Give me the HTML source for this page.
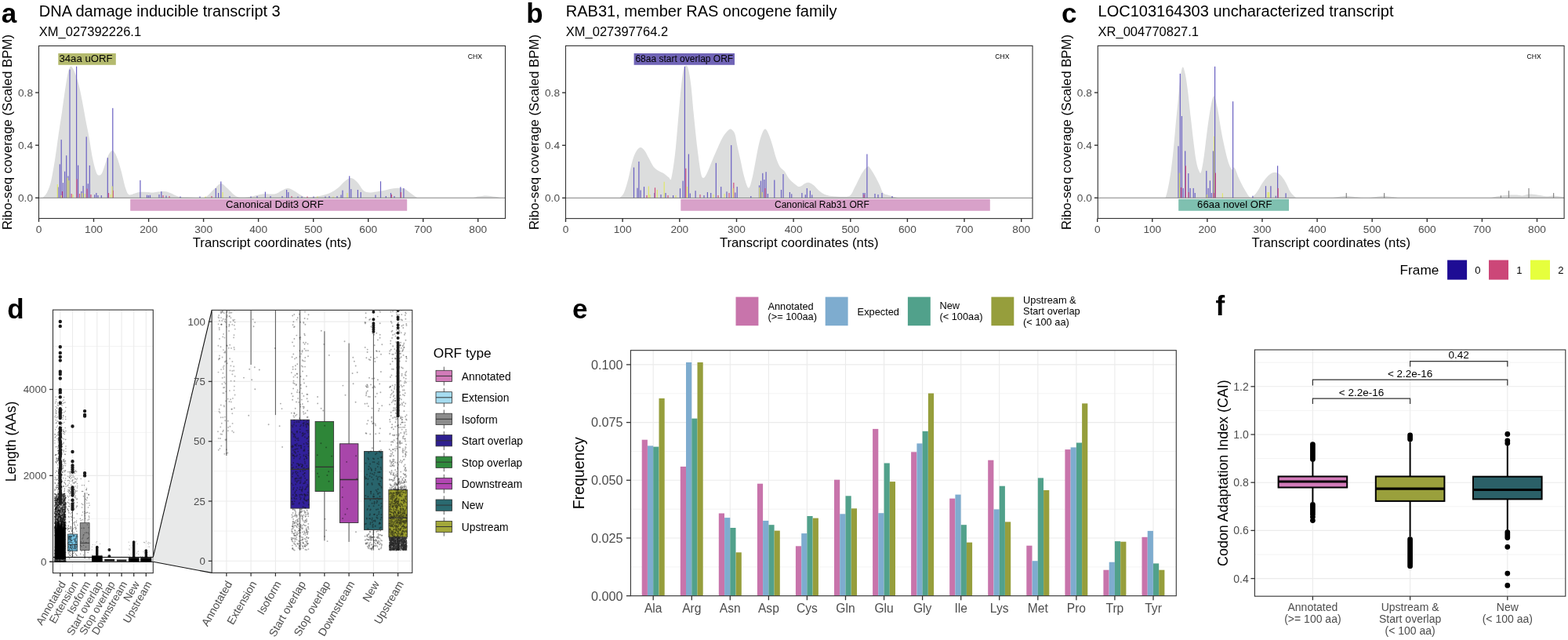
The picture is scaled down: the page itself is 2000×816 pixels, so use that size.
<!DOCTYPE html>
<html><head><meta charset="utf-8"><title>Figure</title>
<style>html,body{margin:0;padding:0;background:#fff;overflow:hidden}svg{display:block}text{font-family:'Liberation Sans',Arial,sans-serif}</style>
</head><body>
<svg width="2000" height="816" viewBox="0 0 2000 816">
<rect width="2000" height="816" fill="#fff"/>
<text x="1.8" y="28.6" font-size="35" font-weight="bold">a</text><text x="49.8" y="20.8" font-size="20">DNA damage inducible transcript 3</text><text x="49.8" y="45.6" font-size="16.5">XM_027392226.1</text><path d="M54.3,252.2 C55.2,251.2 57.9,249.5 59.7,246.0 C61.5,242.5 63.3,238.6 65.1,231.0 C66.9,223.4 68.9,210.8 70.5,200.7 C72.1,190.6 73.4,180.3 74.8,170.6 C76.2,160.9 77.7,152.2 79.1,142.5 C80.5,132.8 82.1,120.6 83.4,112.3 C84.7,104.0 85.6,97.5 86.7,92.9 C87.8,88.3 88.8,85.6 89.9,84.7 C91.0,83.8 92.0,85.8 93.1,87.5 C94.2,89.2 95.1,91.5 96.4,95.1 C97.7,98.7 99.3,103.3 100.7,109.1 C102.1,114.8 103.6,122.2 105.0,129.6 C106.4,137.0 107.9,145.8 109.3,153.3 C110.7,160.9 112.2,167.0 113.6,174.9 C115.0,182.8 116.5,193.5 117.9,200.7 C119.3,207.9 120.9,214.2 122.2,218.0 C123.5,221.8 124.2,222.9 125.5,223.4 C126.8,223.9 128.4,223.5 129.8,221.2 C131.2,218.9 132.7,213.3 134.1,209.4 C135.5,205.5 136.8,200.4 138.4,197.5 C140.0,194.6 142.0,191.6 143.8,192.1 C145.6,192.6 147.4,196.4 149.2,200.7 C151.0,205.0 152.8,211.5 154.6,218.0 C156.4,224.5 158.4,234.6 160.0,239.6 C161.6,244.6 162.5,246.9 164.3,248.2 C166.1,249.4 168.5,247.6 170.7,247.1 C172.8,246.6 174.4,245.4 177.2,245.0 C180.0,244.6 184.4,244.8 187.5,244.9 C190.6,245.0 191.9,245.5 195.5,245.4 C199.1,245.3 205.4,244.0 209.0,244.1 C212.6,244.2 213.9,244.9 217.1,246.0 C220.2,247.1 224.3,249.9 227.9,250.8 C231.5,251.7 235.0,251.4 238.7,251.6 C242.4,251.8 246.4,252.0 250.0,252.1 C253.6,252.2 257.6,252.5 260.2,251.9 C262.8,251.3 263.4,250.6 265.6,248.7 C267.9,246.8 271.0,243.1 273.7,240.6 C276.4,238.1 279.1,234.0 281.8,233.9 C284.5,233.8 286.8,237.3 289.9,240.0 C293.0,242.7 297.5,248.0 300.7,250.0 C303.9,252.0 305.7,251.7 308.8,251.8 C311.9,251.9 315.0,251.6 319.5,250.8 C324.0,250.1 330.5,247.9 335.7,247.3 C340.9,246.7 346.9,248.0 350.8,247.3 C354.7,246.6 356.2,244.5 358.9,243.3 C361.6,242.1 364.3,240.0 367.0,240.0 C369.7,240.0 371.9,241.6 375.0,243.3 C378.1,245.0 382.7,248.7 385.8,250.0 C388.9,251.3 390.3,251.4 393.9,251.4 C397.5,251.4 402.9,250.9 407.4,250.0 C411.9,249.1 416.9,247.8 420.9,246.0 C424.9,244.2 428.5,241.7 431.6,239.2 C434.7,236.7 437.0,233.2 439.7,231.2 C442.4,229.2 445.1,226.9 447.8,227.1 C450.5,227.3 453.2,229.8 455.9,232.5 C458.6,235.2 461.3,241.2 464.0,243.3 C466.7,245.5 469.0,245.3 472.1,245.4 C475.2,245.5 479.3,244.7 482.9,244.1 C486.5,243.5 490.0,242.6 493.6,241.9 C497.2,241.2 500.8,240.2 504.4,240.0 C508.0,239.8 512.1,239.6 515.2,240.6 C518.4,241.6 520.6,244.2 523.3,246.0 C526.0,247.8 529.1,250.4 531.4,251.4 C533.6,252.4 525.6,252.1 536.8,252.2 C548.0,252.3 586.7,252.5 598.8,252.2 C610.9,251.9 605.9,251.0 609.5,250.6 C613.1,250.2 616.7,249.5 620.3,249.5 C623.9,249.5 628.0,250.4 631.1,250.8 C634.2,251.2 637.9,252.0 639.2,252.2 L639.2,252.3 L54.3,252.3 Z" fill="#dcdddd"/><rect x="73.5" y="238.5" width="1.2" height="13.8" fill="#6a60c2"/><rect x="75.7" y="209.4" width="1.2" height="42.9" fill="#6a60c2"/><rect x="77.6" y="178.1" width="1.2" height="74.2" fill="#6a60c2"/><rect x="79.8" y="233.1" width="1.2" height="19.2" fill="#6a60c2"/><rect x="82.0" y="218.6" width="1.2" height="33.7" fill="#6a60c2"/><rect x="84.1" y="198.2" width="1.2" height="54.1" fill="#6a60c2"/><rect x="86.3" y="224.5" width="1.2" height="27.8" fill="#6a60c2"/><rect x="88.4" y="88.6" width="1.2" height="163.7" fill="#6a60c2"/><rect x="97.0" y="84.7" width="1.2" height="167.6" fill="#6a60c2"/><rect x="99.0" y="210.7" width="1.2" height="41.6" fill="#6a60c2"/><rect x="103.3" y="243.9" width="1.2" height="8.4" fill="#6a60c2"/><rect x="105.5" y="237.0" width="1.2" height="15.3" fill="#6a60c2"/><rect x="109.6" y="174.4" width="1.2" height="77.9" fill="#6a60c2"/><rect x="111.7" y="234.2" width="1.2" height="18.1" fill="#6a60c2"/><rect x="113.7" y="210.9" width="1.2" height="41.4" fill="#6a60c2"/><rect x="120.1" y="248.2" width="1.2" height="4.1" fill="#6a60c2"/><rect x="122.3" y="246.0" width="1.2" height="6.3" fill="#6a60c2"/><rect x="124.4" y="249.0" width="1.2" height="3.3" fill="#6a60c2"/><rect x="128.7" y="249.0" width="1.2" height="3.3" fill="#6a60c2"/><rect x="136.7" y="201.2" width="1.2" height="51.1" fill="#6a60c2"/><rect x="143.2" y="137.8" width="1.2" height="114.5" fill="#6a60c2"/><rect x="178.3" y="229.8" width="1.2" height="22.5" fill="#6a60c2"/><rect x="72.7" y="235.0" width="1.2" height="17.3" fill="#dfe76a"/><rect x="85.2" y="226.6" width="1.2" height="25.7" fill="#dfe76a"/><rect x="87.2" y="230.0" width="1.2" height="22.3" fill="#dfe76a"/><rect x="78.9" y="244.0" width="1.2" height="8.3" fill="#d0527f"/><rect x="97.3" y="228.3" width="1.2" height="24.0" fill="#d0527f"/><rect x="110.4" y="240.6" width="1.2" height="11.7" fill="#d0527f"/><rect x="143.6" y="242.8" width="1.2" height="9.5" fill="#d0527f"/><rect x="142.5" y="237.4" width="1.2" height="14.9" fill="#dfe76a"/><rect x="90.6" y="247.0" width="1.2" height="5.3" fill="#d0527f"/><rect x="92.5" y="248.0" width="1.2" height="4.3" fill="#dfe76a"/><rect x="107.6" y="247.0" width="1.2" height="5.3" fill="#dfe76a"/><rect x="77.4" y="249.0" width="1.2" height="3.3" fill="#dfe76a"/><rect x="100.9" y="247.0" width="1.2" height="5.3" fill="#d0527f"/><rect x="104.2" y="246.0" width="1.2" height="6.3" fill="#dfe76a"/><rect x="115.4" y="248.0" width="1.2" height="4.3" fill="#d0527f"/><rect x="137.9" y="246.0" width="1.2" height="6.3" fill="#d0527f"/><rect x="140.4" y="248.0" width="1.2" height="4.3" fill="#dfe76a"/><rect x="186.9" y="248.7" width="1.2" height="3.6" fill="#6a60c2"/><rect x="188.9" y="249.0" width="1.2" height="3.3" fill="#6a60c2"/><rect x="190.9" y="248.7" width="1.2" height="3.6" fill="#6a60c2"/><rect x="205.2" y="244.1" width="1.2" height="8.2" fill="#6a60c2"/><rect x="202.4" y="248.0" width="1.2" height="4.3" fill="#6a60c2"/><rect x="207.4" y="249.0" width="1.2" height="3.3" fill="#d0527f"/><rect x="211.4" y="249.5" width="1.2" height="2.8" fill="#6a60c2"/><rect x="215.4" y="250.0" width="1.2" height="2.3" fill="#d0527f"/><rect x="229.4" y="250.5" width="1.2" height="1.8" fill="#6a60c2"/><rect x="254.4" y="250.5" width="1.2" height="1.8" fill="#6a60c2"/><rect x="274.7" y="240.0" width="1.2" height="12.3" fill="#6a60c2"/><rect x="278.0" y="246.0" width="1.2" height="6.3" fill="#6a60c2"/><rect x="281.2" y="231.4" width="1.2" height="20.9" fill="#6a60c2"/><rect x="283.4" y="245.0" width="1.2" height="7.3" fill="#dfe76a"/><rect x="269.4" y="250.0" width="1.2" height="2.3" fill="#d0527f"/><rect x="292.4" y="250.0" width="1.2" height="2.3" fill="#6a60c2"/><rect x="261.4" y="250.5" width="1.2" height="1.8" fill="#dfe76a"/><rect x="337.8" y="244.6" width="1.2" height="7.7" fill="#6a60c2"/><rect x="327.4" y="250.0" width="1.2" height="2.3" fill="#6a60c2"/><rect x="344.4" y="250.0" width="1.2" height="2.3" fill="#6a60c2"/><rect x="319.4" y="250.5" width="1.2" height="1.8" fill="#6a60c2"/><rect x="365.0" y="242.0" width="1.2" height="10.3" fill="#6a60c2"/><rect x="367.2" y="245.0" width="1.2" height="7.3" fill="#6a60c2"/><rect x="371.4" y="250.0" width="1.2" height="2.3" fill="#d0527f"/><rect x="359.4" y="250.0" width="1.2" height="2.3" fill="#6a60c2"/><rect x="379.4" y="250.5" width="1.2" height="1.8" fill="#6a60c2"/><rect x="384.4" y="250.5" width="1.2" height="1.8" fill="#6a60c2"/><rect x="391.4" y="250.5" width="1.2" height="1.8" fill="#d0527f"/><rect x="399.4" y="250.5" width="1.2" height="1.8" fill="#6a60c2"/><rect x="404.4" y="250.5" width="1.2" height="1.8" fill="#dfe76a"/><rect x="414.4" y="250.5" width="1.2" height="1.8" fill="#6a60c2"/><rect x="419.4" y="250.0" width="1.2" height="2.3" fill="#6a60c2"/><rect x="424.4" y="250.5" width="1.2" height="1.8" fill="#dfe76a"/><rect x="436.4" y="242.7" width="1.2" height="9.6" fill="#6a60c2"/><rect x="445.1" y="224.4" width="1.2" height="27.9" fill="#6a60c2"/><rect x="447.2" y="241.1" width="1.2" height="11.2" fill="#6a60c2"/><rect x="455.8" y="242.0" width="1.2" height="10.3" fill="#6a60c2"/><rect x="459.6" y="245.0" width="1.2" height="7.3" fill="#6a60c2"/><rect x="442.4" y="246.0" width="1.2" height="6.3" fill="#dfe76a"/><rect x="429.4" y="250.0" width="1.2" height="2.3" fill="#6a60c2"/><rect x="434.4" y="248.5" width="1.2" height="3.8" fill="#6a60c2"/><rect x="478.4" y="248.5" width="1.2" height="3.8" fill="#6a60c2"/><rect x="484.9" y="231.2" width="1.2" height="21.1" fill="#6a60c2"/><rect x="491.7" y="250.0" width="1.2" height="2.3" fill="#6a60c2"/><rect x="497.9" y="246.0" width="1.2" height="6.3" fill="#6a60c2"/><rect x="498.9" y="248.0" width="1.2" height="4.3" fill="#d0527f"/><rect x="510.3" y="238.4" width="1.2" height="13.9" fill="#6a60c2"/><rect x="514.3" y="240.0" width="1.2" height="12.3" fill="#6a60c2"/><rect x="510.9" y="245.0" width="1.2" height="7.3" fill="#d0527f"/><rect x="502.4" y="250.0" width="1.2" height="2.3" fill="#6a60c2"/><line x1="49.5" y1="252.3" x2="644.5" y2="252.3" stroke="#777" stroke-width="0.9"/><rect x="166.2" y="253.8" width="353.0" height="15" fill="#d8a1c9"/><text x="350.4" y="265.1" font-size="13.2" text-anchor="middle">Canonical Ddit3 ORF</text><rect x="74.3" y="68" width="73.5" height="14.8" fill="#b4ba6e"/><text x="109.5" y="79.2" font-size="13.2" text-anchor="middle">34aa uORF</text><text x="596.8" y="74.9" font-size="8.6">CHX</text><rect x="49.5" y="58.5" width="595.0" height="220.0" fill="none" stroke="#333" stroke-width="1.1"/><line x1="45.1" y1="252.3" x2="49.5" y2="252.3" stroke="#333" stroke-width="1.4"/><text x="42.0" y="257.0" font-size="13.7" fill="#4d4d4d" text-anchor="end">0.0</text><line x1="45.1" y1="185.2" x2="49.5" y2="185.2" stroke="#333" stroke-width="1.4"/><text x="42.0" y="189.9" font-size="13.7" fill="#4d4d4d" text-anchor="end">0.4</text><line x1="45.1" y1="118.1" x2="49.5" y2="118.1" stroke="#333" stroke-width="1.4"/><text x="42.0" y="122.8" font-size="13.7" fill="#4d4d4d" text-anchor="end">0.8</text><line x1="49.5" y1="278.5" x2="49.5" y2="282.9" stroke="#333" stroke-width="1.4"/><text x="49.5" y="296.8" font-size="13.7" fill="#4d4d4d" text-anchor="middle">0</text><line x1="119.5" y1="278.5" x2="119.5" y2="282.9" stroke="#333" stroke-width="1.4"/><text x="119.5" y="296.8" font-size="13.7" fill="#4d4d4d" text-anchor="middle">100</text><line x1="189.6" y1="278.5" x2="189.6" y2="282.9" stroke="#333" stroke-width="1.4"/><text x="189.6" y="296.8" font-size="13.7" fill="#4d4d4d" text-anchor="middle">200</text><line x1="259.6" y1="278.5" x2="259.6" y2="282.9" stroke="#333" stroke-width="1.4"/><text x="259.6" y="296.8" font-size="13.7" fill="#4d4d4d" text-anchor="middle">300</text><line x1="329.6" y1="278.5" x2="329.6" y2="282.9" stroke="#333" stroke-width="1.4"/><text x="329.6" y="296.8" font-size="13.7" fill="#4d4d4d" text-anchor="middle">400</text><line x1="399.7" y1="278.5" x2="399.7" y2="282.9" stroke="#333" stroke-width="1.4"/><text x="399.7" y="296.8" font-size="13.7" fill="#4d4d4d" text-anchor="middle">500</text><line x1="469.7" y1="278.5" x2="469.7" y2="282.9" stroke="#333" stroke-width="1.4"/><text x="469.7" y="296.8" font-size="13.7" fill="#4d4d4d" text-anchor="middle">600</text><line x1="539.7" y1="278.5" x2="539.7" y2="282.9" stroke="#333" stroke-width="1.4"/><text x="539.7" y="296.8" font-size="13.7" fill="#4d4d4d" text-anchor="middle">700</text><line x1="609.7" y1="278.5" x2="609.7" y2="282.9" stroke="#333" stroke-width="1.4"/><text x="609.7" y="296.8" font-size="13.7" fill="#4d4d4d" text-anchor="middle">800</text><text x="347.0" y="315.4" font-size="16.7" text-anchor="middle">Transcript coordinates (nts)</text><text transform="translate(14.9,168.5) rotate(-90)" font-size="16.8" text-anchor="middle">Ribo-seq coverage (Scaled BPM)</text><text x="671.2" y="28.6" font-size="35" font-weight="bold">b</text><text x="721.8" y="20.8" font-size="20">RAB31, member RAS oncogene family</text><text x="721.8" y="45.6" font-size="16.5">XM_027397764.2</text><path d="M790.3,252.4 C791.2,251.2 794.1,249.6 796.0,245.4 C797.9,241.2 799.9,233.6 801.6,227.2 C803.3,220.8 804.7,212.2 806.2,206.7 C807.7,201.2 809.1,197.3 810.8,194.2 C812.5,191.1 814.6,188.4 816.5,188.0 C818.4,187.6 820.3,189.6 822.2,191.9 C824.1,194.2 825.9,198.7 827.8,202.1 C829.7,205.5 831.4,209.7 833.5,212.4 C835.6,215.1 838.1,216.6 840.4,218.1 C842.7,219.6 845.1,220.2 847.2,221.5 C849.3,222.8 851.4,225.2 852.9,226.1 C854.4,227.0 855.0,231.9 856.3,227.2 C857.6,222.4 859.6,208.6 860.9,197.6 C862.2,186.6 863.2,173.6 864.3,161.1 C865.4,148.6 866.6,133.8 867.7,122.4 C868.8,111.0 870.0,99.2 871.1,92.8 C872.2,86.3 873.5,84.5 874.6,83.7 C875.8,82.9 876.9,84.0 878.0,88.2 C879.1,92.4 880.3,99.2 881.4,108.7 C882.5,118.2 883.5,131.9 884.8,145.2 C886.1,158.5 887.9,176.0 889.4,188.5 C890.9,201.0 892.6,214.0 893.9,220.4 C895.2,226.8 896.0,226.8 897.3,226.8 C898.6,226.8 900.2,223.8 901.9,220.4 C903.6,217.1 905.5,211.6 907.6,206.7 C909.7,201.8 912.1,195.9 914.4,190.8 C916.7,185.7 919.0,179.9 921.3,175.9 C923.6,171.9 926.3,168.7 928.1,166.8 C929.9,164.9 930.7,164.0 932.2,164.6 C933.7,165.2 935.9,167.1 937.2,170.3 C938.5,173.5 938.8,178.2 940.0,183.9 C941.2,189.6 943.1,197.6 944.6,204.4 C946.1,211.2 947.4,219.0 949.1,224.9 C950.8,230.8 953.1,239.3 954.8,239.7 C956.5,240.1 957.9,233.1 959.4,227.2 C960.9,221.3 962.4,212.0 963.9,204.4 C965.4,196.8 967.0,187.7 968.5,181.6 C970.0,175.5 971.7,170.8 973.0,168.0 C974.3,165.2 975.2,163.8 976.5,164.6 C977.8,165.3 979.5,168.9 981.0,172.5 C982.5,176.1 984.1,181.3 985.6,186.2 C987.1,191.1 988.6,197.7 990.1,202.1 C991.6,206.5 993.0,209.7 994.7,212.4 C996.4,215.1 998.5,215.6 1000.4,218.1 C1002.3,220.6 1004.0,224.5 1006.1,227.2 C1008.2,229.8 1010.6,232.2 1012.9,234.0 C1015.2,235.8 1017.4,238.1 1019.7,238.1 C1022.0,238.1 1024.5,234.9 1026.6,234.0 C1028.7,233.1 1030.4,232.5 1032.3,232.9 C1034.2,233.3 1035.9,234.6 1038.0,236.3 C1040.1,238.0 1042.5,241.3 1044.8,243.2 C1047.1,245.1 1048.9,246.6 1051.6,247.7 C1054.3,248.8 1056.6,249.5 1060.8,250.0 C1065.0,250.5 1072.7,250.9 1076.7,250.7 C1080.7,250.5 1082.4,250.9 1084.7,248.9 C1087.0,246.9 1088.3,242.6 1090.4,238.6 C1092.5,234.6 1095.1,228.7 1097.2,224.9 C1099.3,221.1 1101.3,217.9 1102.9,215.8 C1104.5,213.7 1106.0,213.0 1107.0,212.5 C1108.0,212.0 1107.8,211.8 1108.8,213.0 C1109.8,214.2 1111.7,217.2 1113.2,219.6 C1114.7,222.0 1116.1,224.6 1117.6,227.3 C1119.1,230.1 1120.5,233.0 1122.0,236.1 C1123.5,239.2 1124.6,243.9 1126.4,246.0 C1128.2,248.1 1131.0,248.1 1133.0,248.8 C1135.0,249.5 1136.3,249.8 1138.5,250.4 C1140.7,251.0 1144.9,252.1 1146.2,252.4 L1146.2,252.4 L790.3,252.4 Z" fill="#dcdddd"/><rect x="807.9" y="213.5" width="1.2" height="38.9" fill="#6a60c2"/><rect x="812.4" y="239.7" width="1.2" height="12.7" fill="#6a60c2"/><rect x="814.3" y="206.0" width="1.2" height="46.4" fill="#6a60c2"/><rect x="816.5" y="242.5" width="1.2" height="9.9" fill="#6a60c2"/><rect x="820.9" y="238.1" width="1.2" height="14.3" fill="#6a60c2"/><rect x="826.8" y="237.5" width="1.2" height="14.9" fill="#dfe76a"/><rect x="834.3" y="246.0" width="1.2" height="6.4" fill="#6a60c2"/><rect x="834.9" y="239.3" width="1.2" height="13.1" fill="#d0527f"/><rect x="837.7" y="242.0" width="1.2" height="10.4" fill="#dfe76a"/><rect x="846.6" y="231.8" width="1.2" height="20.6" fill="#dfe76a"/><rect x="848.4" y="246.0" width="1.2" height="6.4" fill="#6a60c2"/><rect x="858.0" y="249.0" width="1.2" height="3.4" fill="#6a60c2"/><rect x="866.9" y="240.2" width="1.2" height="12.2" fill="#6a60c2"/><rect x="870.5" y="230.6" width="1.2" height="21.8" fill="#6a60c2"/><rect x="872.8" y="84.8" width="1.2" height="167.6" fill="#6a60c2"/><rect x="874.2" y="214.7" width="1.2" height="37.7" fill="#d0527f"/><rect x="877.8" y="196.5" width="1.2" height="55.9" fill="#6a60c2"/><rect x="879.7" y="246.5" width="1.2" height="5.9" fill="#6a60c2"/><rect x="886.5" y="243.2" width="1.2" height="9.2" fill="#6a60c2"/><rect x="897.4" y="249.0" width="1.2" height="3.4" fill="#6a60c2"/><rect x="901.8" y="245.0" width="1.2" height="7.4" fill="#6a60c2"/><rect x="906.1" y="246.0" width="1.2" height="6.4" fill="#6a60c2"/><rect x="912.7" y="207.8" width="1.2" height="44.6" fill="#6a60c2"/><rect x="919.1" y="238.1" width="1.2" height="14.3" fill="#6a60c2"/><rect x="926.4" y="244.3" width="1.2" height="8.1" fill="#6a60c2"/><rect x="932.1" y="185.1" width="1.2" height="67.3" fill="#6a60c2"/><rect x="935.2" y="232.9" width="1.2" height="19.5" fill="#d0527f"/><rect x="937.3" y="245.5" width="1.2" height="6.9" fill="#6a60c2"/><rect x="939.6" y="238.1" width="1.2" height="14.3" fill="#6a60c2"/><rect x="957.2" y="250.0" width="1.2" height="2.4" fill="#6a60c2"/><rect x="967.9" y="236.3" width="1.2" height="16.1" fill="#6a60c2"/><rect x="969.9" y="230.6" width="1.2" height="21.8" fill="#6a60c2"/><rect x="972.2" y="220.8" width="1.2" height="31.6" fill="#6a60c2"/><rect x="974.3" y="229.0" width="1.2" height="23.4" fill="#6a60c2"/><rect x="976.5" y="219.2" width="1.2" height="33.2" fill="#6a60c2"/><rect x="978.8" y="247.0" width="1.2" height="5.4" fill="#6a60c2"/><rect x="987.2" y="229.5" width="1.2" height="22.9" fill="#6a60c2"/><rect x="995.9" y="242.0" width="1.2" height="10.4" fill="#6a60c2"/><rect x="998.4" y="222.0" width="1.2" height="30.4" fill="#6a60c2"/><rect x="1006.8" y="245.0" width="1.2" height="7.4" fill="#6a60c2"/><rect x="1009.1" y="247.3" width="1.2" height="5.1" fill="#6a60c2"/><rect x="1022.3" y="246.0" width="1.2" height="6.4" fill="#6a60c2"/><rect x="1026.7" y="248.2" width="1.2" height="4.2" fill="#6a60c2"/><rect x="1028.7" y="240.0" width="1.2" height="12.4" fill="#6a60c2"/><rect x="1032.8" y="243.2" width="1.2" height="9.2" fill="#6a60c2"/><rect x="1035.1" y="248.4" width="1.2" height="4.0" fill="#6a60c2"/><rect x="1100.5" y="246.0" width="1.2" height="6.4" fill="#6a60c2"/><rect x="1102.5" y="246.0" width="1.2" height="6.4" fill="#6a60c2"/><rect x="1105.3" y="196.5" width="1.2" height="55.9" fill="#6a60c2"/><rect x="1115.4" y="247.0" width="1.2" height="5.4" fill="#6a60c2"/><rect x="1119.4" y="248.0" width="1.2" height="4.4" fill="#6a60c2"/><rect x="1124.4" y="246.0" width="1.2" height="6.4" fill="#6a60c2"/><rect x="1137.4" y="250.0" width="1.2" height="2.4" fill="#6a60c2"/><rect x="875.9" y="238.0" width="1.2" height="14.4" fill="#dfe76a"/><rect x="934.4" y="240.0" width="1.2" height="12.4" fill="#dfe76a"/><rect x="971.4" y="245.0" width="1.2" height="7.4" fill="#dfe76a"/><rect x="975.4" y="240.0" width="1.2" height="12.4" fill="#d0527f"/><rect x="968.4" y="239.0" width="1.2" height="13.4" fill="#dfe76a"/><rect x="1101.4" y="248.0" width="1.2" height="4.4" fill="#d0527f"/><rect x="861.4" y="249.0" width="1.2" height="3.4" fill="#dfe76a"/><rect x="851.4" y="249.0" width="1.2" height="3.4" fill="#d0527f"/><rect x="842.4" y="248.0" width="1.2" height="4.4" fill="#6a60c2"/><rect x="824.4" y="249.0" width="1.2" height="3.4" fill="#d0527f"/><rect x="828.4" y="248.0" width="1.2" height="4.4" fill="#dfe76a"/><rect x="892.4" y="248.0" width="1.2" height="4.4" fill="#d0527f"/><rect x="909.4" y="248.0" width="1.2" height="4.4" fill="#dfe76a"/><rect x="915.4" y="249.0" width="1.2" height="3.4" fill="#d0527f"/><rect x="923.4" y="247.0" width="1.2" height="5.4" fill="#dfe76a"/><rect x="929.4" y="246.0" width="1.2" height="6.4" fill="#d0527f"/><line x1="721.5" y1="252.4" x2="1317" y2="252.4" stroke="#777" stroke-width="0.9"/><rect x="868.3" y="253.8" width="394.5" height="15" fill="#d8a1c9"/><text x="1048.4" y="265.1" font-size="12.0" text-anchor="middle">Canonical Rab31 ORF</text><rect x="808.6" y="68" width="128.4" height="14.8" fill="#7064b6"/><text x="872.8" y="79.2" font-size="12.0" text-anchor="middle">68aa start overlap ORF</text><text x="1269.3" y="74.9" font-size="8.6">CHX</text><rect x="721.5" y="58.4" width="595.5" height="220.2" fill="none" stroke="#333" stroke-width="1.1"/><line x1="717.1" y1="252.4" x2="721.5" y2="252.4" stroke="#333" stroke-width="1.4"/><text x="714.0" y="257.1" font-size="13.7" fill="#4d4d4d" text-anchor="end">0.0</text><line x1="717.1" y1="185.3" x2="721.5" y2="185.3" stroke="#333" stroke-width="1.4"/><text x="714.0" y="190.0" font-size="13.7" fill="#4d4d4d" text-anchor="end">0.4</text><line x1="717.1" y1="118.2" x2="721.5" y2="118.2" stroke="#333" stroke-width="1.4"/><text x="714.0" y="122.9" font-size="13.7" fill="#4d4d4d" text-anchor="end">0.8</text><line x1="721.5" y1="278.6" x2="721.5" y2="283.0" stroke="#333" stroke-width="1.4"/><text x="721.5" y="296.8" font-size="13.7" fill="#4d4d4d" text-anchor="middle">0</text><line x1="794.1" y1="278.6" x2="794.1" y2="283.0" stroke="#333" stroke-width="1.4"/><text x="794.1" y="296.8" font-size="13.7" fill="#4d4d4d" text-anchor="middle">100</text><line x1="866.8" y1="278.6" x2="866.8" y2="283.0" stroke="#333" stroke-width="1.4"/><text x="866.8" y="296.8" font-size="13.7" fill="#4d4d4d" text-anchor="middle">200</text><line x1="939.5" y1="278.6" x2="939.5" y2="283.0" stroke="#333" stroke-width="1.4"/><text x="939.5" y="296.8" font-size="13.7" fill="#4d4d4d" text-anchor="middle">300</text><line x1="1012.1" y1="278.6" x2="1012.1" y2="283.0" stroke="#333" stroke-width="1.4"/><text x="1012.1" y="296.8" font-size="13.7" fill="#4d4d4d" text-anchor="middle">400</text><line x1="1084.8" y1="278.6" x2="1084.8" y2="283.0" stroke="#333" stroke-width="1.4"/><text x="1084.8" y="296.8" font-size="13.7" fill="#4d4d4d" text-anchor="middle">500</text><line x1="1157.4" y1="278.6" x2="1157.4" y2="283.0" stroke="#333" stroke-width="1.4"/><text x="1157.4" y="296.8" font-size="13.7" fill="#4d4d4d" text-anchor="middle">600</text><line x1="1230.0" y1="278.6" x2="1230.0" y2="283.0" stroke="#333" stroke-width="1.4"/><text x="1230.0" y="296.8" font-size="13.7" fill="#4d4d4d" text-anchor="middle">700</text><line x1="1302.7" y1="278.6" x2="1302.7" y2="283.0" stroke="#333" stroke-width="1.4"/><text x="1302.7" y="296.8" font-size="13.7" fill="#4d4d4d" text-anchor="middle">800</text><text x="1019.2" y="315.4" font-size="16.7" text-anchor="middle">Transcript coordinates (nts)</text><text transform="translate(686.9,168.5) rotate(-90)" font-size="16.8" text-anchor="middle">Ribo-seq coverage (Scaled BPM)</text><text x="1354.1" y="28.6" font-size="35" font-weight="bold">c</text><text x="1400.6" y="20.8" font-size="20">LOC103164303 uncharacterized transcript</text><text x="1400.6" y="45.6" font-size="16.5">XR_004770827.1</text><path d="M1486.4,252.4 C1486.9,250.9 1488.1,247.9 1489.1,243.3 C1490.1,238.8 1491.3,232.7 1492.5,225.1 C1493.7,217.5 1494.8,208.3 1496.0,197.7 C1497.2,187.0 1498.3,173.0 1499.4,161.2 C1500.5,149.4 1501.8,137.3 1502.8,127.0 C1503.8,116.7 1504.5,106.5 1505.5,99.6 C1506.5,92.7 1507.4,86.2 1508.5,85.5 C1509.6,84.8 1510.8,89.7 1511.9,95.1 C1513.0,100.5 1514.2,108.8 1515.3,117.9 C1516.4,127.0 1517.6,139.5 1518.8,149.8 C1520.0,160.1 1521.1,170.4 1522.2,179.5 C1523.3,188.6 1524.5,198.2 1525.6,204.5 C1526.7,210.8 1527.9,214.6 1529.0,217.1 C1530.1,219.6 1530.8,222.6 1532.0,219.4 C1533.2,216.2 1534.7,205.9 1535.9,197.7 C1537.1,189.5 1538.0,180.2 1539.3,170.3 C1540.6,160.4 1542.4,146.4 1543.9,138.4 C1545.4,130.4 1546.9,122.5 1548.4,122.5 C1549.9,122.5 1551.5,131.2 1553.0,138.4 C1554.5,145.6 1556.0,157.4 1557.5,165.8 C1559.0,174.2 1560.6,181.8 1562.1,188.6 C1563.6,195.4 1565.2,202.2 1566.7,206.8 C1568.2,211.4 1569.9,214.8 1571.2,216.0 C1572.5,217.2 1573.1,211.8 1574.6,213.7 C1576.1,215.6 1578.2,222.8 1580.3,227.4 C1582.4,232.0 1584.9,237.0 1587.2,241.0 C1589.5,245.0 1592.1,249.8 1594.0,251.3 C1595.9,252.8 1596.9,251.5 1598.6,250.2 C1600.3,248.9 1602.2,246.4 1604.3,243.3 C1606.4,240.2 1608.6,235.3 1611.1,231.9 C1613.6,228.5 1616.6,224.8 1619.1,222.8 C1621.6,220.8 1623.7,219.8 1626.0,219.8 C1628.3,219.8 1630.5,220.8 1632.8,222.8 C1635.1,224.8 1637.3,228.1 1639.6,231.9 C1641.9,235.7 1644.2,242.2 1646.5,245.6 C1648.8,249.0 1652.2,251.3 1653.3,252.4 L1653.3,252.3 L1486.4,252.3 Z" fill="#dcdddd"/><path d="M1698.0,252.4 C1700.0,252.1 1706.7,250.9 1710.0,250.5 C1713.3,250.1 1715.3,249.8 1718.0,249.8 C1720.7,249.9 1722.7,250.4 1726.0,250.8 C1729.3,251.2 1736.0,252.1 1738.0,252.4 L1738.0,252.3 L1698.0,252.3 Z" fill="#dcdddd"/><path d="M1746.0,252.4 C1748.0,252.1 1754.7,250.9 1758.0,250.5 C1761.3,250.1 1763.3,249.8 1766.0,249.8 C1768.7,249.9 1770.7,250.4 1774.0,250.8 C1777.3,251.2 1784.0,252.1 1786.0,252.4 L1786.0,252.3 L1746.0,252.3 Z" fill="#dcdddd"/><path d="M1900.0,252.4 C1902.0,252.0 1907.8,250.7 1912.0,250.0 C1916.2,249.3 1921.2,248.7 1925.0,248.5 C1928.8,248.3 1932.2,248.4 1935.0,248.6 C1937.8,248.8 1939.2,249.6 1942.0,249.4 C1944.8,249.2 1948.7,247.7 1952.0,247.6 C1955.3,247.5 1958.7,248.4 1962.0,248.8 C1965.3,249.2 1968.8,250.1 1972.0,250.2 C1975.2,250.3 1978.0,249.3 1981.0,249.4 C1984.0,249.5 1987.7,250.2 1990.0,250.6 C1992.3,250.9 1994.2,251.3 1995.0,251.5 L1995.0,252.3 L1900.0,252.3 Z" fill="#dcdddd"/><rect x="1502.4" y="186.3" width="1.2" height="66.0" fill="#6a60c2"/><rect x="1504.7" y="93.9" width="1.2" height="158.4" fill="#6a60c2"/><rect x="1506.8" y="148.0" width="1.2" height="104.3" fill="#6a60c2"/><rect x="1508.6" y="239.9" width="1.2" height="12.4" fill="#6a60c2"/><rect x="1511.1" y="192.5" width="1.2" height="59.8" fill="#6a60c2"/><rect x="1511.8" y="211.4" width="1.2" height="40.9" fill="#d0527f"/><rect x="1515.2" y="221.0" width="1.2" height="31.3" fill="#6a60c2"/><rect x="1517.5" y="239.9" width="1.2" height="12.4" fill="#6a60c2"/><rect x="1521.6" y="239.9" width="1.2" height="12.4" fill="#6a60c2"/><rect x="1523.6" y="246.0" width="1.2" height="6.3" fill="#6a60c2"/><rect x="1538.2" y="217.8" width="1.2" height="34.5" fill="#6a60c2"/><rect x="1540.5" y="239.9" width="1.2" height="12.4" fill="#6a60c2"/><rect x="1542.8" y="230.3" width="1.2" height="22.0" fill="#6a60c2"/><rect x="1544.8" y="246.0" width="1.2" height="6.3" fill="#6a60c2"/><rect x="1546.9" y="192.5" width="1.2" height="59.8" fill="#6a60c2"/><rect x="1548.0" y="173.8" width="1.2" height="78.5" fill="#dfe76a"/><rect x="1549.0" y="84.8" width="1.2" height="167.5" fill="#6a60c2"/><rect x="1549.8" y="220.5" width="1.2" height="31.8" fill="#d0527f"/><rect x="1558.8" y="246.3" width="1.2" height="6.0" fill="#dfe76a"/><rect x="1572.0" y="129.3" width="1.2" height="123.0" fill="#6a60c2"/><rect x="1597.3" y="249.7" width="1.2" height="2.6" fill="#6a60c2"/><rect x="1613.9" y="237.2" width="1.2" height="15.1" fill="#6a60c2"/><rect x="1620.3" y="237.2" width="1.2" height="15.1" fill="#6a60c2"/><rect x="1626.7" y="249.7" width="1.2" height="2.6" fill="#6a60c2"/><rect x="1629.0" y="211.4" width="1.2" height="40.9" fill="#6a60c2"/><rect x="1629.6" y="239.9" width="1.2" height="12.4" fill="#d0527f"/><rect x="1639.5" y="246.3" width="1.2" height="6.0" fill="#6a60c2"/><rect x="1503.9" y="220.5" width="1.2" height="31.8" fill="#dfe76a"/><rect x="1506.2" y="239.0" width="1.2" height="13.3" fill="#d0527f"/><rect x="1515.4" y="245.0" width="1.2" height="7.3" fill="#d0527f"/><rect x="1616.4" y="245.0" width="1.2" height="7.3" fill="#dfe76a"/><rect x="1617.9" y="245.0" width="1.2" height="7.3" fill="#dfe76a"/><rect x="1538.9" y="248.0" width="1.2" height="4.3" fill="#dfe76a"/><rect x="1547.4" y="246.0" width="1.2" height="6.3" fill="#d0527f"/><rect x="1716.7" y="246.1" width="1.2" height="6.2" fill="#8a8a8a"/><rect x="1765.0" y="246.1" width="1.2" height="6.2" fill="#8a8a8a"/><rect x="1913.8" y="249.3" width="1.2" height="3.0" fill="#8a8a8a"/><rect x="1923.9" y="243.2" width="1.2" height="9.1" fill="#8a8a8a"/><rect x="1949.4" y="240.0" width="1.2" height="12.3" fill="#8a8a8a"/><rect x="1981.0" y="246.1" width="1.2" height="6.2" fill="#8a8a8a"/><line x1="1400.3" y1="252.3" x2="1995.1" y2="252.3" stroke="#777" stroke-width="0.9"/><rect x="1503.2" y="253.8" width="140.8" height="15" fill="#7fc0b0"/><text x="1574.8" y="265.1" font-size="13.1" text-anchor="middle">66aa novel ORF</text><text x="1947.5" y="74.9" font-size="8.6">CHX</text><rect x="1400.3" y="58.4" width="594.8" height="220.1" fill="none" stroke="#333" stroke-width="1.1"/><line x1="1395.9" y1="252.3" x2="1400.3" y2="252.3" stroke="#333" stroke-width="1.4"/><text x="1392.8" y="257.0" font-size="13.7" fill="#4d4d4d" text-anchor="end">0.0</text><line x1="1395.9" y1="185.2" x2="1400.3" y2="185.2" stroke="#333" stroke-width="1.4"/><text x="1392.8" y="189.9" font-size="13.7" fill="#4d4d4d" text-anchor="end">0.4</text><line x1="1395.9" y1="118.1" x2="1400.3" y2="118.1" stroke="#333" stroke-width="1.4"/><text x="1392.8" y="122.8" font-size="13.7" fill="#4d4d4d" text-anchor="end">0.8</text><line x1="1399.7" y1="278.5" x2="1399.7" y2="282.9" stroke="#333" stroke-width="1.4"/><text x="1399.7" y="296.8" font-size="13.7" fill="#4d4d4d" text-anchor="middle">0</text><line x1="1469.8" y1="278.5" x2="1469.8" y2="282.9" stroke="#333" stroke-width="1.4"/><text x="1469.8" y="296.8" font-size="13.7" fill="#4d4d4d" text-anchor="middle">100</text><line x1="1539.9" y1="278.5" x2="1539.9" y2="282.9" stroke="#333" stroke-width="1.4"/><text x="1539.9" y="296.8" font-size="13.7" fill="#4d4d4d" text-anchor="middle">200</text><line x1="1610.0" y1="278.5" x2="1610.0" y2="282.9" stroke="#333" stroke-width="1.4"/><text x="1610.0" y="296.8" font-size="13.7" fill="#4d4d4d" text-anchor="middle">300</text><line x1="1680.1" y1="278.5" x2="1680.1" y2="282.9" stroke="#333" stroke-width="1.4"/><text x="1680.1" y="296.8" font-size="13.7" fill="#4d4d4d" text-anchor="middle">400</text><line x1="1750.2" y1="278.5" x2="1750.2" y2="282.9" stroke="#333" stroke-width="1.4"/><text x="1750.2" y="296.8" font-size="13.7" fill="#4d4d4d" text-anchor="middle">500</text><line x1="1820.3" y1="278.5" x2="1820.3" y2="282.9" stroke="#333" stroke-width="1.4"/><text x="1820.3" y="296.8" font-size="13.7" fill="#4d4d4d" text-anchor="middle">600</text><line x1="1890.4" y1="278.5" x2="1890.4" y2="282.9" stroke="#333" stroke-width="1.4"/><text x="1890.4" y="296.8" font-size="13.7" fill="#4d4d4d" text-anchor="middle">700</text><line x1="1960.5" y1="278.5" x2="1960.5" y2="282.9" stroke="#333" stroke-width="1.4"/><text x="1960.5" y="296.8" font-size="13.7" fill="#4d4d4d" text-anchor="middle">800</text><text x="1697.7" y="315.4" font-size="16.7" text-anchor="middle">Transcript coordinates (nts)</text><text transform="translate(1365.7,168.4) rotate(-90)" font-size="16.8" text-anchor="middle">Ribo-seq coverage (Scaled BPM)</text><text x="1785.6" y="349.8" font-size="17.2">Frame</text><rect x="1846.1" y="331.6" width="25" height="25" fill="#1e0c94"/><text x="1881.2" y="349.3" font-size="13">0</text><rect x="1899" y="331.6" width="25" height="25" fill="#cc4778"/><text x="1934.2" y="349.3" font-size="13">1</text><rect x="1952" y="331.6" width="25" height="25" fill="#e6ff3d"/><text x="1987.2" y="349.3" font-size="13">2</text><text x="9.3" y="405.6" font-size="35" font-weight="bold">d</text><rect x="67.5" y="395.1" width="127.8" height="335.5" fill="#fff"/><line x1="67.5" y1="661.3" x2="195.3" y2="661.3" stroke="#ebebeb" stroke-width="0.6"/><line x1="67.5" y1="551.4" x2="195.3" y2="551.4" stroke="#ebebeb" stroke-width="0.6"/><line x1="67.5" y1="441.5" x2="195.3" y2="441.5" stroke="#ebebeb" stroke-width="0.6"/><line x1="67.5" y1="716.3" x2="195.3" y2="716.3" stroke="#ebebeb" stroke-width="1.1"/><line x1="67.5" y1="606.4" x2="195.3" y2="606.4" stroke="#ebebeb" stroke-width="1.1"/><line x1="67.5" y1="496.5" x2="195.3" y2="496.5" stroke="#ebebeb" stroke-width="1.1"/><line x1="76.8" y1="395.1" x2="76.8" y2="730.6" stroke="#ebebeb" stroke-width="1.1"/><line x1="92.5" y1="395.1" x2="92.5" y2="730.6" stroke="#ebebeb" stroke-width="1.1"/><line x1="108.1" y1="395.1" x2="108.1" y2="730.6" stroke="#ebebeb" stroke-width="1.1"/><line x1="123.8" y1="395.1" x2="123.8" y2="730.6" stroke="#ebebeb" stroke-width="1.1"/><line x1="139.4" y1="395.1" x2="139.4" y2="730.6" stroke="#ebebeb" stroke-width="1.1"/><line x1="155.1" y1="395.1" x2="155.1" y2="730.6" stroke="#ebebeb" stroke-width="1.1"/><line x1="170.7" y1="395.1" x2="170.7" y2="730.6" stroke="#ebebeb" stroke-width="1.1"/><line x1="186.3" y1="395.1" x2="186.3" y2="730.6" stroke="#ebebeb" stroke-width="1.1"/><rect x="67.5" y="710.4" width="127.8" height="5.9" fill="#e8e9e9"/><path d="M71.8 704.5h0M75.8 716.0h0M83.2 652.0h0M71.3 714.6h0M70.5 671.0h0M73.9 688.5h0M73.7 621.3h0M79.2 716.0h0M76.2 663.9h0M83.9 646.7h0M71.3 713.9h0M76.1 715.7h0M82.3 701.0h0M73.4 661.7h0M78.5 677.6h0M75.3 697.1h0M70.4 703.0h0M71.7 655.5h0M76.6 686.5h0M83.3 716.0h0M79.6 569.3h0M72.8 704.0h0M77.1 711.5h0M76.0 524.5h0M72.5 712.9h0M79.1 715.6h0M81.1 703.7h0M71.8 715.0h0M77.5 701.9h0M82.2 691.5h0M75.6 709.6h0M82.8 693.4h0M81.1 716.0h0M80.9 669.4h0M80.5 668.0h0M77.3 688.7h0M83.2 668.5h0M79.2 715.8h0M83.5 560.5h0M75.8 714.1h0M75.9 669.7h0M83.6 600.1h0M82.7 693.1h0M70.4 715.6h0M81.9 715.7h0M71.5 709.0h0M74.0 705.6h0M69.8 710.1h0M75.8 588.1h0M81.6 702.7h0M80.3 715.8h0M73.1 708.0h0M77.5 516.0h0M76.8 685.0h0M69.9 715.9h0M82.3 625.8h0M81.6 715.9h0M81.6 679.7h0M70.0 711.3h0M79.4 652.3h0M70.6 643.2h0M83.7 617.8h0M70.7 647.9h0M73.5 715.9h0M71.3 686.4h0M83.5 587.7h0M77.1 714.7h0M82.5 711.2h0M74.6 714.7h0M79.9 539.8h0M75.8 700.8h0M73.4 710.2h0M82.8 651.1h0M78.9 613.3h0M80.2 706.8h0M71.9 713.9h0M71.6 689.0h0M82.4 666.2h0M73.6 715.8h0M73.2 708.8h0M79.8 716.0h0M81.9 585.4h0M80.0 532.2h0M82.8 711.2h0M70.6 715.3h0M76.2 706.5h0M79.7 522.3h0M82.9 640.9h0M80.2 596.8h0M80.6 711.7h0M83.3 641.5h0M75.3 715.9h0M83.1 713.3h0M69.6 713.9h0M81.4 701.3h0M74.8 713.0h0M70.5 716.0h0M78.5 523.9h0M78.7 544.6h0M73.2 697.8h0M80.7 586.5h0M80.4 712.8h0M83.8 560.2h0M75.6 711.1h0M73.8 579.0h0M82.3 714.4h0M79.0 592.3h0M73.8 715.9h0M76.1 568.0h0M74.9 711.9h0M74.3 716.0h0M71.1 715.8h0M73.7 694.9h0M84.0 568.9h0M81.4 692.9h0M82.7 648.4h0M82.9 676.5h0M83.6 531.4h0M71.9 585.8h0M75.4 711.9h0M77.7 715.9h0M74.0 652.1h0M78.5 716.0h0M71.1 685.3h0M70.8 649.6h0M71.6 527.4h0M83.4 682.0h0M71.9 612.0h0M73.4 712.4h0M82.5 637.2h0M77.6 565.0h0M73.4 596.6h0M70.3 616.5h0M69.6 705.5h0M72.9 714.9h0M78.0 711.6h0M71.8 710.5h0M78.9 716.0h0M82.6 710.2h0M77.5 716.0h0M72.1 590.3h0M81.8 716.0h0M70.2 711.2h0M75.9 669.7h0M69.8 561.8h0M74.3 561.7h0M81.7 685.9h0M78.6 712.2h0M71.6 702.5h0M78.1 715.8h0M83.2 545.6h0M81.5 650.2h0M75.7 705.0h0M76.9 520.5h0M79.7 702.3h0M72.5 716.0h0M76.7 713.3h0M76.8 631.1h0M74.7 651.9h0M73.4 712.5h0M80.5 674.4h0M80.3 642.4h0M73.0 559.5h0M74.3 710.3h0M83.5 715.4h0M78.8 712.9h0M76.8 633.0h0M75.8 548.7h0M79.7 605.5h0M75.6 715.5h0M75.5 653.6h0M83.6 682.4h0M77.9 715.4h0M83.3 694.8h0M70.4 701.4h0M73.4 701.7h0M72.7 697.2h0M83.5 711.5h0M71.4 670.9h0M72.3 692.6h0M78.8 692.3h0M80.9 549.8h0M73.2 644.2h0M81.0 550.6h0M81.7 600.3h0M73.4 669.5h0M76.8 682.1h0M81.7 641.5h0M78.4 716.0h0M70.1 553.7h0M80.7 675.6h0M75.4 584.5h0M74.2 703.9h0M77.5 559.2h0M81.0 643.6h0M72.7 636.8h0M82.8 605.4h0M75.7 706.4h0M71.3 716.0h0M83.1 661.0h0M69.8 714.4h0M69.9 715.0h0M81.9 626.6h0M83.5 709.9h0M80.1 705.7h0M79.3 690.8h0M80.9 697.9h0M81.5 629.9h0M82.4 692.2h0M73.4 716.0h0M82.1 591.0h0M70.8 702.3h0M79.4 657.3h0M81.2 715.6h0M78.1 684.7h0M77.0 695.8h0M71.8 600.5h0M76.6 568.1h0M83.5 588.1h0M82.1 669.0h0M83.4 715.1h0M71.9 689.3h0M82.6 551.2h0M71.7 715.9h0M74.3 715.4h0" stroke="#000" stroke-width="1.50" stroke-linecap="round" fill="none" stroke-opacity="0.4"/><path d="M70.6 645.6h0M70.9 715.8h0M75.3 664.5h0M81.4 705.9h0M72.6 715.9h0M79.7 597.8h0M71.3 511.9h0M77.9 609.0h0M83.2 579.4h0M73.7 586.9h0M80.7 715.9h0M82.3 670.7h0M71.8 523.8h0M75.6 716.0h0M70.4 638.3h0M78.7 715.4h0M71.8 716.0h0M74.6 710.0h0M71.1 715.6h0M71.7 675.1h0M74.9 709.5h0M83.8 591.1h0M70.0 701.4h0M83.8 534.5h0M82.6 652.9h0M80.9 547.9h0M75.3 516.5h0M81.2 550.2h0M69.8 714.9h0M72.6 585.1h0M82.7 714.9h0M77.3 680.2h0M76.4 713.8h0M77.7 715.4h0M76.0 546.6h0M83.2 684.4h0M71.6 579.4h0M82.5 601.8h0M83.3 711.8h0M74.5 677.6h0M74.4 716.0h0M73.4 715.4h0M73.3 588.1h0M75.7 634.6h0M82.0 715.8h0M73.0 675.4h0M73.8 610.9h0M77.5 620.1h0M81.6 681.5h0M78.8 628.8h0M72.0 709.8h0M76.2 707.2h0M83.5 710.5h0M76.9 712.7h0M73.0 706.3h0M74.3 697.5h0M78.6 556.3h0M81.5 593.8h0M74.8 714.9h0M69.6 682.5h0M73.2 618.8h0M75.1 681.6h0M73.3 714.5h0M79.6 639.5h0M72.5 555.5h0M73.5 689.1h0M71.5 526.4h0M70.0 683.0h0M81.7 705.2h0M73.8 551.8h0M70.3 708.5h0M72.3 678.5h0M77.5 532.6h0M70.3 707.7h0M73.3 514.0h0M82.6 712.4h0M70.9 713.0h0M75.5 614.4h0M71.4 518.6h0M76.0 696.2h0M76.4 554.5h0M73.2 516.2h0M80.6 646.6h0M74.0 647.1h0M78.0 675.9h0M78.9 523.2h0M69.9 706.0h0M70.1 711.5h0M72.6 679.6h0M83.3 707.0h0M75.3 714.5h0M82.3 553.4h0M70.1 615.5h0M74.7 708.2h0M75.8 586.8h0M70.0 553.9h0M73.3 542.9h0M79.9 709.4h0M69.9 531.3h0M76.7 692.1h0M74.3 657.2h0M70.5 710.3h0M70.8 709.2h0M79.3 653.9h0M75.0 666.8h0M74.3 664.2h0M71.1 506.0h0M72.3 715.1h0M80.8 709.5h0M72.5 714.7h0M72.3 637.6h0M77.5 696.7h0M83.3 706.0h0M72.4 700.5h0M82.3 695.3h0M78.6 715.6h0M76.7 715.3h0M70.4 683.6h0M72.8 601.1h0M75.1 677.1h0M70.1 611.6h0M78.0 693.5h0M73.0 682.4h0M75.8 715.0h0M80.8 620.0h0M83.9 572.0h0M72.0 544.8h0M73.6 554.1h0M74.2 679.4h0M80.9 713.9h0M82.3 663.8h0M77.9 506.3h0M73.3 587.7h0M71.8 716.0h0M69.9 645.0h0M72.5 661.7h0M78.8 715.5h0M74.6 667.9h0M77.3 715.9h0M71.6 532.5h0M73.9 705.8h0M76.3 615.9h0M80.4 703.4h0M77.1 600.1h0M73.0 709.5h0M82.7 710.8h0M81.9 631.7h0M82.7 715.7h0M70.2 716.0h0M81.4 700.5h0M72.6 715.4h0M73.7 650.9h0M73.3 716.0h0M78.5 574.5h0M72.7 673.1h0M83.7 609.9h0M81.6 702.3h0M78.8 715.3h0M75.3 696.0h0M76.8 551.9h0M78.9 613.2h0M75.9 713.9h0M73.9 713.1h0M71.9 676.3h0M75.1 715.4h0M72.6 715.4h0M76.3 650.7h0M80.4 665.2h0M79.4 574.0h0M79.9 602.4h0M83.0 638.5h0M77.4 716.0h0M79.9 672.5h0M79.5 712.3h0M75.4 708.6h0M80.3 711.6h0M80.8 714.9h0M78.8 701.6h0M74.7 582.0h0M80.0 716.0h0M74.8 643.2h0M81.6 714.7h0M71.7 715.4h0M82.4 713.9h0M79.6 712.8h0M71.6 711.1h0M82.0 672.8h0M75.6 699.2h0M83.0 636.3h0M78.6 625.1h0M75.9 712.2h0M73.5 679.8h0M78.0 706.7h0M73.9 715.9h0M78.4 547.8h0M76.2 641.0h0M74.9 644.2h0M75.8 705.0h0M77.9 591.6h0M76.4 511.6h0M79.4 716.0h0M73.1 624.7h0M70.8 621.2h0M69.8 625.4h0M82.0 714.0h0M81.1 714.6h0M80.9 530.4h0M78.3 703.8h0M79.5 699.0h0M78.0 693.1h0M73.5 665.7h0M81.1 669.8h0M72.6 686.6h0M73.0 606.2h0M72.4 713.2h0M70.2 714.5h0M74.6 659.7h0M73.4 666.8h0M70.1 709.9h0M83.2 687.7h0M77.7 709.7h0M83.9 519.6h0M70.3 580.5h0M83.1 612.5h0M71.4 709.7h0" stroke="#000" stroke-width="1.50" stroke-linecap="round" fill="none" stroke-opacity="0.4"/><path d="M74.9 673.5h0M81.5 692.8h0M70.3 514.0h0M78.0 713.5h0M75.8 637.0h0M77.9 710.5h0M80.5 693.7h0M74.1 563.8h0M79.2 685.1h0M79.2 697.9h0M73.2 714.9h0M82.0 588.0h0M72.9 713.6h0M77.8 699.9h0M80.8 552.7h0M70.6 715.8h0M74.8 715.4h0M71.4 700.4h0M73.4 702.7h0M70.0 672.0h0M80.7 713.9h0M81.2 574.0h0M73.6 716.0h0M74.9 525.3h0M76.5 579.2h0M76.5 614.2h0M83.2 696.0h0M81.5 714.6h0M79.0 516.9h0M73.8 710.0h0M76.2 701.6h0M69.9 676.0h0M77.6 622.8h0M73.6 710.2h0M76.9 655.9h0M82.2 631.2h0M76.0 715.1h0M79.9 714.3h0M76.6 696.4h0M74.2 712.9h0M77.0 652.9h0M80.8 716.0h0M82.8 714.5h0M83.1 715.8h0M74.5 688.4h0M71.9 715.3h0M72.2 680.5h0M76.4 713.2h0M76.9 697.0h0M74.6 695.5h0M81.7 715.7h0M76.0 714.2h0M74.7 705.8h0M73.4 716.0h0M77.2 662.5h0M71.8 509.4h0M81.3 619.8h0M82.5 662.9h0M81.6 715.4h0M80.4 596.5h0M73.4 715.7h0M79.4 684.3h0M74.0 616.6h0M73.8 638.4h0M83.1 513.0h0M83.2 712.3h0M76.9 587.6h0M76.7 716.0h0M80.4 716.0h0M75.3 699.5h0M81.6 715.4h0M83.4 699.4h0M70.3 624.6h0M71.4 539.6h0M73.9 644.2h0M72.8 681.1h0M70.9 702.8h0M77.1 694.3h0M78.7 679.9h0M81.8 525.8h0M69.6 662.1h0M71.8 715.3h0M77.5 687.9h0M73.2 715.0h0M72.8 697.6h0M76.4 560.1h0M79.3 680.8h0M75.7 703.2h0M74.1 517.4h0M72.3 681.3h0M83.6 712.1h0M84.0 620.2h0M75.1 641.7h0M71.4 525.0h0M76.4 715.9h0M81.3 694.7h0M82.5 615.2h0M73.6 705.2h0M76.4 711.1h0M72.2 538.9h0M74.8 704.9h0M77.6 716.0h0M76.8 715.5h0M81.8 614.9h0M72.5 618.4h0M83.9 696.7h0M81.4 685.0h0M78.0 515.8h0M71.1 530.0h0M78.2 709.8h0M72.5 705.6h0M70.9 648.8h0M77.8 705.6h0M72.5 621.8h0M71.9 687.3h0M76.9 699.7h0M83.5 593.8h0M75.2 539.9h0M81.8 695.6h0M73.2 715.1h0M71.3 580.1h0M79.1 692.7h0M80.8 609.4h0M76.0 715.6h0M70.4 678.4h0M81.3 620.4h0M83.0 600.1h0M71.7 589.4h0M72.2 716.0h0M77.2 715.2h0M83.9 715.4h0M80.6 700.9h0M83.8 648.8h0M75.8 655.0h0M74.7 716.0h0M76.4 652.9h0M80.9 565.7h0M76.0 647.1h0M73.0 695.4h0M78.4 712.7h0M82.4 715.9h0M76.1 617.1h0M81.8 632.5h0M78.8 709.2h0M83.2 616.4h0M79.6 651.1h0M80.0 691.0h0M70.0 714.6h0M78.7 633.3h0M82.4 587.8h0M70.1 715.3h0M71.0 715.5h0M79.9 708.0h0M75.5 716.0h0M70.9 569.8h0M76.7 716.0h0M83.2 709.5h0M80.9 715.7h0M70.8 557.0h0M82.3 698.7h0M74.3 702.1h0M77.9 605.8h0M81.7 629.9h0M72.3 704.1h0M81.0 509.9h0M70.1 697.6h0M78.3 714.7h0M72.9 693.3h0M76.1 648.2h0M73.2 651.4h0M79.0 713.4h0M80.9 714.1h0M78.8 678.2h0M80.6 697.1h0M75.6 716.0h0M77.2 533.0h0M78.7 591.9h0M81.4 588.2h0M73.5 574.8h0M73.1 708.1h0M81.9 538.6h0M69.8 650.5h0M80.8 711.1h0M80.9 656.9h0M80.3 674.6h0M70.4 681.8h0M81.7 716.0h0M70.7 522.3h0M83.7 703.9h0M82.0 703.1h0M77.6 693.1h0M83.6 679.3h0M80.9 650.0h0M72.3 716.0h0M78.6 654.8h0M71.1 609.7h0M80.9 586.6h0M83.0 648.1h0M76.0 543.6h0M71.1 694.5h0M83.5 715.1h0M72.3 619.9h0M79.8 651.7h0M79.0 716.0h0M70.5 683.0h0M78.9 700.5h0M73.8 666.9h0M81.6 513.4h0M82.5 658.6h0M82.4 589.3h0M81.2 574.6h0M80.4 712.7h0M80.4 709.9h0M82.5 663.9h0M79.7 713.5h0M75.0 502.6h0M69.9 676.8h0M75.7 603.6h0M72.2 712.7h0M70.5 547.8h0M83.4 648.5h0M70.2 711.7h0M79.8 600.9h0M73.9 638.1h0M72.0 683.9h0" stroke="#000" stroke-width="1.50" stroke-linecap="round" fill="none" stroke-opacity="0.4"/><path d="M76.9 715.9h0M72.8 715.1h0M73.8 571.4h0M75.0 648.9h0M78.0 705.4h0M82.2 675.7h0M76.6 714.4h0M78.2 632.4h0M79.7 715.9h0M76.2 716.0h0M82.1 697.3h0M75.6 708.3h0M76.6 711.1h0M79.5 526.2h0M81.1 564.3h0M71.9 712.3h0M82.2 716.0h0M83.9 575.6h0M71.9 584.0h0M83.7 675.1h0M80.8 674.2h0M80.3 588.3h0M79.6 709.6h0M72.9 711.8h0M81.1 645.0h0M81.0 713.6h0M72.0 622.9h0M79.1 511.8h0M83.0 675.4h0M78.0 710.7h0M82.6 663.1h0M72.2 690.5h0M77.1 704.3h0M76.9 606.2h0M79.6 678.3h0M73.3 531.8h0M73.1 715.8h0M71.7 642.9h0M81.6 506.6h0M69.9 623.8h0M83.8 715.8h0M71.5 708.8h0M79.7 666.0h0M81.1 650.1h0M82.9 669.9h0M72.5 715.9h0M69.9 702.3h0M71.1 535.6h0M83.7 634.8h0M71.5 715.9h0M79.3 566.1h0M83.4 709.3h0M75.1 716.0h0M75.4 715.6h0M79.1 614.0h0M78.9 623.1h0M77.1 714.7h0M79.6 636.2h0M78.6 668.7h0M77.3 680.0h0M72.6 621.4h0M78.5 608.1h0M69.8 666.7h0M76.3 677.4h0M76.2 716.0h0M78.0 712.3h0M79.7 558.7h0M73.9 688.9h0M71.3 579.7h0M78.1 501.7h0M83.1 707.7h0M81.3 559.8h0M76.1 620.3h0M74.5 685.4h0M75.3 669.0h0M83.9 549.5h0M73.3 710.8h0M74.5 699.0h0M72.7 569.5h0M69.9 565.0h0M82.9 697.2h0M79.4 676.3h0M80.9 716.0h0M79.7 649.6h0M69.8 658.8h0M73.2 711.0h0M73.3 693.5h0M72.5 636.3h0M72.9 587.7h0M75.6 711.6h0M70.3 714.7h0M74.3 537.2h0M74.4 699.3h0M72.6 520.4h0M82.8 699.5h0M70.2 608.2h0M73.5 703.1h0M80.5 716.0h0M83.3 524.3h0M80.2 594.6h0M70.7 602.5h0M83.7 704.4h0M76.0 627.8h0M71.3 641.7h0M73.1 710.3h0M72.9 679.2h0M82.8 579.1h0M75.0 537.9h0M78.5 660.0h0M72.5 645.4h0M77.5 597.5h0M79.6 714.1h0M75.6 701.2h0M82.6 716.0h0M77.5 716.0h0M73.7 714.6h0M71.4 712.8h0M78.5 550.5h0M72.2 583.9h0M82.5 622.9h0M77.5 659.2h0M75.9 689.5h0M72.2 687.7h0M70.2 678.6h0M75.0 679.8h0M83.7 713.0h0M74.7 715.8h0M82.8 680.1h0M83.1 714.1h0M74.8 649.6h0M75.3 651.4h0M72.1 690.2h0M79.2 662.5h0M82.5 678.2h0M74.7 715.4h0M83.1 714.8h0M73.4 695.9h0M80.2 534.4h0M80.8 715.9h0M78.8 679.2h0M79.9 602.2h0M71.1 711.5h0M73.4 627.2h0M72.7 519.9h0M74.3 615.6h0M83.7 641.5h0M74.0 666.1h0M83.0 715.4h0M80.2 631.9h0M82.1 715.8h0M81.3 576.1h0M72.6 611.6h0M74.2 700.0h0M80.7 691.1h0M72.1 587.7h0M81.1 682.1h0M72.7 707.9h0M80.9 631.8h0M70.0 557.9h0M76.2 711.1h0M81.7 714.3h0M76.3 715.0h0M71.8 714.3h0M80.1 514.6h0M75.9 620.0h0M81.0 696.3h0M80.3 695.5h0M82.3 623.7h0M78.6 705.5h0M76.2 693.0h0M75.2 604.0h0M77.1 532.7h0M77.1 584.0h0M83.8 715.1h0M79.7 693.4h0M81.1 711.9h0M77.7 685.9h0M73.8 686.1h0M73.3 699.1h0M76.5 706.5h0M81.5 715.9h0M83.3 716.0h0M71.8 702.3h0M82.5 640.6h0M82.3 690.8h0M71.7 686.3h0M77.7 686.1h0M78.8 649.4h0M76.6 678.5h0M76.4 700.2h0M73.8 584.9h0M81.0 644.6h0M80.0 715.9h0M78.4 542.2h0M78.2 632.1h0M70.1 713.5h0M73.3 667.9h0M77.8 715.9h0M75.2 716.0h0M72.7 647.4h0M82.1 715.6h0M80.7 715.9h0M83.0 687.4h0M70.7 588.7h0M77.9 700.1h0M75.6 651.4h0M83.6 715.9h0M74.0 658.8h0M73.7 592.7h0M81.6 715.9h0M82.8 635.7h0M73.0 537.1h0M76.2 598.9h0M77.1 559.5h0M77.7 700.6h0M78.7 715.4h0M83.9 716.0h0M80.6 529.6h0M70.3 715.7h0M75.3 659.5h0M75.3 640.2h0M74.7 709.8h0M83.8 646.8h0M80.5 661.1h0M71.7 710.8h0" stroke="#000" stroke-width="1.50" stroke-linecap="round" fill="none" stroke-opacity="0.4"/><path d="M79.3 674.0h0M81.9 636.7h0M76.1 666.0h0M79.8 656.5h0M81.6 666.2h0M70.6 636.3h0M74.9 629.6h0M80.0 667.7h0M81.5 657.9h0M72.3 644.4h0M73.6 670.4h0M80.1 663.3h0M76.7 673.9h0M74.9 671.5h0M71.5 647.7h0M70.7 637.8h0M83.3 669.9h0M79.6 670.7h0M82.0 647.6h0M75.5 672.1h0M81.4 633.4h0M80.7 666.0h0M81.2 639.5h0M78.7 665.1h0M83.4 644.0h0M78.8 668.6h0M77.1 662.2h0M83.2 658.5h0M73.9 663.3h0M77.8 651.4h0M74.1 669.3h0M81.9 669.5h0M72.0 673.4h0M71.3 669.9h0M78.4 639.3h0M80.8 648.1h0M76.8 631.7h0M76.1 661.1h0M80.8 639.3h0M77.9 673.1h0M75.8 635.3h0M77.3 629.1h0M74.7 632.7h0M77.8 637.3h0M77.2 641.5h0M82.3 649.2h0M77.0 658.9h0M78.7 673.7h0M81.6 654.9h0M77.2 629.2h0M71.2 671.3h0M80.6 666.6h0M78.0 665.7h0M76.0 653.0h0M81.2 667.3h0M79.9 670.0h0M74.8 670.9h0M75.4 673.4h0M73.1 673.8h0M81.5 672.3h0M75.1 632.0h0M79.7 668.8h0M82.0 672.4h0M77.7 667.1h0M71.3 656.1h0M71.6 647.6h0M71.7 668.2h0M79.6 669.2h0M80.1 647.8h0M70.3 667.1h0M75.9 649.5h0M81.8 653.7h0M80.3 673.1h0M83.0 662.6h0M70.6 648.7h0M79.6 642.1h0M70.6 665.3h0M73.1 669.4h0M71.8 656.0h0M78.2 661.0h0M70.6 668.1h0M74.9 671.4h0M83.5 656.0h0M82.7 651.7h0M70.2 644.1h0M72.2 643.5h0M75.0 656.7h0M81.3 648.2h0M77.9 673.2h0M76.0 670.8h0M73.8 650.8h0M82.5 671.5h0M74.3 661.0h0M81.2 673.5h0M78.9 667.5h0M71.0 650.8h0M71.4 671.1h0M77.2 669.1h0M78.0 673.2h0M80.4 672.6h0M83.2 656.0h0M70.0 654.4h0M82.0 656.1h0M79.3 640.9h0M78.3 672.9h0M72.5 661.6h0M72.4 656.5h0M79.5 642.0h0M81.0 673.8h0M81.6 663.9h0M78.0 673.7h0M69.9 655.2h0M79.2 668.4h0M83.7 673.8h0M74.9 668.1h0M80.2 658.7h0M74.3 629.8h0M69.9 637.9h0M74.0 667.1h0M70.9 671.1h0M70.7 659.9h0M79.7 670.1h0M80.1 631.6h0M72.4 657.4h0M78.9 663.4h0M74.5 659.4h0M83.6 673.6h0M80.5 673.0h0M78.2 666.3h0M80.6 630.6h0M76.5 651.1h0M70.2 672.2h0M71.9 671.2h0M83.6 659.2h0M71.3 646.6h0M75.5 634.7h0M73.0 670.5h0M72.0 638.4h0M76.6 636.6h0M72.7 637.1h0M74.0 673.9h0M71.2 671.4h0M83.5 673.8h0M75.8 672.8h0M71.7 662.4h0M74.8 659.3h0M73.6 671.2h0M74.9 674.0h0M82.0 647.5h0M75.5 672.0h0M75.1 669.4h0M79.5 666.6h0M81.7 658.7h0M79.8 663.9h0M72.9 653.5h0M72.9 672.0h0M72.2 641.1h0M75.1 640.5h0M81.0 658.1h0M76.5 642.6h0M75.0 666.0h0M79.9 668.3h0M72.6 662.6h0M79.8 667.6h0M82.7 670.8h0M80.4 664.5h0M76.3 660.9h0M77.0 640.9h0M80.6 644.4h0M80.3 656.0h0M75.7 655.0h0M69.9 629.8h0M77.0 662.8h0M72.6 673.6h0M81.0 670.6h0M77.7 666.6h0M76.2 633.6h0M81.9 673.3h0M79.2 650.0h0M71.2 673.0h0M79.4 671.7h0M77.9 666.8h0M81.0 630.4h0M71.1 660.8h0M82.7 629.3h0M82.8 673.0h0M73.6 636.4h0M74.6 632.9h0M72.3 643.3h0M78.1 660.9h0M74.7 664.6h0M82.0 660.1h0M71.4 660.7h0M72.6 672.3h0M76.6 643.1h0M70.2 663.9h0M78.1 643.5h0M78.5 649.0h0M83.0 663.1h0M74.6 672.1h0M76.5 659.3h0M81.6 643.3h0M80.2 672.2h0M78.1 662.1h0M83.0 672.6h0M76.2 669.5h0M80.9 649.6h0M74.6 654.4h0M81.2 662.8h0M78.5 667.7h0M71.5 649.6h0M72.9 636.7h0M83.6 670.9h0M76.2 641.9h0M75.1 634.0h0M74.9 650.8h0M74.9 630.7h0M82.3 646.9h0M71.8 654.8h0M80.5 667.8h0M75.1 631.6h0M80.9 665.7h0M74.2 673.6h0M83.0 670.6h0M83.3 668.6h0M74.2 671.8h0M74.9 634.8h0M81.4 655.9h0M80.4 649.8h0M78.7 649.0h0M81.1 665.6h0M71.7 666.0h0M75.5 655.5h0M80.4 659.1h0M71.6 648.3h0M73.6 670.2h0M79.6 673.3h0M70.6 661.6h0M78.6 666.0h0M81.1 657.4h0M78.6 647.1h0M83.7 642.2h0M76.2 649.6h0M72.5 646.4h0M77.6 648.5h0M70.7 670.4h0M72.1 652.4h0M81.1 661.2h0M82.6 642.8h0M72.7 669.0h0" stroke="#000" stroke-width="1.70" stroke-linecap="round" fill="none" stroke-opacity="0.5"/><path d="M79.8 670.7h0M71.8 661.6h0M81.3 660.2h0M71.8 637.9h0M72.1 659.6h0M79.2 670.3h0M83.8 634.3h0M83.5 673.9h0M72.4 662.1h0M79.8 670.7h0M78.4 648.1h0M79.9 673.6h0M82.5 660.3h0M75.0 654.4h0M81.2 638.3h0M83.2 659.4h0M72.4 672.8h0M70.0 654.2h0M70.4 672.4h0M78.1 638.6h0M75.2 662.7h0M73.2 666.2h0M70.5 658.3h0M77.2 673.4h0M82.9 652.3h0M79.3 668.3h0M83.1 667.9h0M73.6 660.7h0M73.8 669.3h0M72.6 648.0h0M72.9 658.6h0M77.6 659.6h0M82.0 661.9h0M83.2 646.3h0M81.3 658.3h0M82.6 672.3h0M77.8 662.9h0M79.9 667.7h0M76.8 661.7h0M82.7 666.6h0M69.9 673.7h0M77.0 658.3h0M79.3 657.9h0M83.3 659.8h0M72.2 666.8h0M81.3 629.7h0M72.4 671.0h0M75.6 643.3h0M79.2 670.7h0M77.8 663.1h0M77.1 641.0h0M79.8 665.5h0M76.1 664.2h0M73.3 673.7h0M78.2 631.8h0M74.1 637.6h0M83.4 667.8h0M71.5 640.9h0M79.1 665.9h0M76.0 640.2h0M72.7 632.5h0M82.4 654.8h0M77.0 657.1h0M75.3 673.1h0M74.9 659.1h0M73.8 663.5h0M70.2 649.7h0M81.7 665.5h0M70.4 673.7h0M78.7 671.1h0M74.7 674.0h0M70.5 669.3h0M79.5 663.9h0M82.8 649.1h0M75.8 658.6h0M73.5 656.9h0M75.6 670.5h0M77.0 661.7h0M74.5 641.5h0M80.5 640.5h0M72.6 648.5h0M70.8 674.0h0M71.3 659.7h0M78.6 633.6h0M81.6 667.6h0M81.4 646.1h0M75.0 640.5h0M82.5 632.9h0M79.4 671.5h0M79.9 674.0h0M77.0 662.7h0M73.9 661.8h0M83.4 635.4h0M79.3 653.6h0M74.6 637.0h0M75.0 655.1h0M82.3 656.8h0M76.6 656.5h0M75.5 673.3h0M83.7 647.3h0M80.6 672.1h0M72.8 667.4h0M82.6 637.9h0M71.5 664.7h0M77.5 642.3h0M81.5 655.1h0M73.9 649.3h0M83.1 674.0h0M72.4 641.4h0M82.0 653.5h0M72.2 665.2h0M74.5 673.9h0M73.6 659.2h0M77.6 644.3h0M80.9 637.8h0M78.7 665.6h0M76.5 664.9h0M76.1 661.7h0M80.0 656.6h0M77.9 629.9h0M82.4 668.3h0M75.4 670.6h0M78.2 673.2h0M82.1 652.0h0M79.3 666.1h0M78.2 668.9h0M78.4 647.2h0M81.2 662.6h0M80.2 668.9h0M76.1 668.2h0M80.6 665.1h0M70.6 659.1h0M80.1 634.5h0M78.7 665.8h0M70.7 651.7h0M83.0 652.7h0M80.4 651.8h0M82.0 668.6h0M72.1 649.6h0M74.8 643.8h0M71.4 630.8h0M79.4 673.0h0M73.1 643.0h0M70.1 629.7h0M72.3 649.4h0M82.7 665.6h0M73.5 673.4h0M79.4 651.2h0M75.4 666.8h0M83.8 674.0h0M72.6 672.6h0M78.8 656.8h0M78.1 629.4h0M77.2 653.4h0M73.5 635.4h0M82.8 657.8h0M76.2 651.9h0M81.2 672.4h0M76.1 673.1h0M80.4 671.8h0M75.1 673.9h0M74.3 669.4h0M80.9 653.2h0M75.5 651.5h0M83.4 647.9h0M77.2 659.3h0M81.6 663.0h0M79.2 646.2h0M71.5 670.0h0M70.6 649.7h0M83.8 641.4h0M73.6 668.7h0M70.5 667.3h0M77.3 664.7h0M82.7 656.4h0M73.6 642.8h0M76.0 637.5h0M78.1 671.1h0M73.9 670.3h0M80.8 632.5h0M70.6 648.8h0M77.6 671.7h0M75.3 673.8h0M80.0 662.3h0M83.0 657.9h0M76.6 638.4h0M81.6 669.8h0M79.0 673.6h0M74.0 673.4h0M70.3 658.5h0M79.1 671.5h0M71.9 673.0h0M72.1 657.4h0M73.2 637.9h0M77.8 649.2h0M77.1 667.7h0M79.8 673.5h0M81.2 665.9h0M75.5 673.1h0M72.6 670.0h0M80.7 635.4h0M71.1 647.5h0M81.4 633.4h0M81.4 643.5h0M83.4 643.3h0M76.7 635.4h0M83.0 640.9h0M81.5 643.0h0M78.3 661.1h0M71.0 668.4h0M70.4 641.1h0M78.3 636.4h0M81.4 671.5h0M73.3 665.5h0M82.3 650.5h0M78.6 664.6h0M70.6 640.3h0M80.3 673.8h0M77.9 673.7h0M77.4 662.7h0M79.7 649.1h0M71.8 658.4h0M74.0 664.3h0M74.3 662.0h0M72.7 635.4h0M80.4 660.5h0M77.2 667.8h0M74.8 633.2h0M75.6 642.0h0M80.6 663.8h0M72.4 637.9h0M70.7 663.1h0M73.6 639.6h0M82.4 636.1h0M79.7 653.5h0M72.9 673.0h0M81.5 666.5h0M77.6 642.0h0M74.4 655.8h0M70.2 643.9h0M78.0 663.6h0M83.3 666.4h0M79.7 661.3h0M77.0 662.0h0M83.4 645.7h0M70.0 638.4h0M83.7 667.2h0M71.2 672.7h0M76.5 641.1h0M70.1 635.4h0" stroke="#000" stroke-width="1.70" stroke-linecap="round" fill="none" stroke-opacity="0.5"/><path d="M70.3 634.1h0M71.2 634.0h0M78.6 672.0h0M73.5 663.1h0M74.3 635.8h0M76.5 667.9h0M71.2 667.8h0M81.1 666.0h0M82.6 670.1h0M70.9 673.1h0M81.2 655.0h0M81.1 666.2h0M82.0 668.6h0M69.9 658.2h0M74.3 647.9h0M77.0 657.7h0M73.3 641.4h0M77.9 658.1h0M76.7 659.1h0M71.9 655.5h0M81.6 657.9h0M75.9 630.3h0M83.2 633.6h0M75.9 658.9h0M81.1 637.0h0M77.4 634.3h0M74.1 651.5h0M77.3 671.9h0M71.0 656.9h0M76.3 656.8h0M75.2 654.9h0M73.8 629.9h0M70.7 664.1h0M72.0 666.1h0M80.1 646.0h0M82.0 674.0h0M80.8 637.8h0M75.3 656.4h0M72.4 667.3h0M81.6 640.1h0M77.7 659.3h0M79.4 664.0h0M71.2 664.7h0M76.0 652.8h0M83.5 640.9h0M82.2 662.7h0M78.6 654.0h0M74.1 649.1h0M76.8 656.5h0M71.5 671.7h0M78.4 642.1h0M72.2 668.6h0M70.6 636.6h0M82.8 639.0h0M76.7 632.6h0M76.6 643.0h0M77.7 672.6h0M74.7 669.3h0M72.0 648.2h0M81.1 671.6h0M76.9 669.8h0M75.0 669.2h0M73.6 644.3h0M72.3 639.2h0M74.0 673.4h0M82.5 644.1h0M79.1 665.6h0M78.6 671.1h0M72.1 670.6h0M81.6 655.7h0M81.5 644.0h0M71.4 643.0h0M80.3 640.7h0M80.1 640.6h0M82.8 672.3h0M83.4 652.1h0M74.1 672.1h0M82.9 665.6h0M77.5 645.0h0M71.4 667.8h0M76.1 672.6h0M83.7 645.6h0M75.9 670.8h0M78.9 669.1h0M72.4 652.1h0M74.4 671.0h0M73.2 673.7h0M76.7 659.2h0M76.0 631.2h0M81.6 639.0h0M74.5 662.0h0M77.7 665.7h0M81.9 630.8h0M74.0 655.6h0M70.2 670.9h0M75.6 657.7h0M71.4 638.5h0M73.0 655.6h0M76.0 638.4h0M71.2 640.6h0M80.7 673.5h0M79.7 662.5h0M72.2 645.9h0M80.1 632.7h0M71.4 634.3h0M71.4 673.9h0M75.1 672.0h0M74.6 671.8h0M79.3 663.9h0M70.9 666.4h0M76.3 655.3h0M76.2 630.0h0M73.5 655.7h0M82.0 644.1h0M82.9 649.6h0M77.5 663.4h0M73.2 669.6h0M77.8 667.4h0M82.9 666.0h0M74.8 644.1h0M73.4 673.9h0M78.2 638.4h0M81.1 637.6h0M82.7 670.2h0M70.6 663.0h0M76.3 674.0h0M74.4 673.0h0M77.3 654.7h0M79.8 644.8h0M77.1 633.2h0M83.7 669.8h0M77.6 671.1h0M72.1 673.8h0M81.0 661.0h0M75.4 638.4h0M72.9 669.0h0M74.0 629.4h0M80.3 641.1h0M78.2 661.3h0M81.9 671.0h0M69.9 635.2h0M74.6 634.7h0M79.5 673.8h0M74.2 637.4h0M71.9 646.3h0M72.8 631.3h0M70.4 658.7h0M77.4 656.8h0M75.7 630.9h0M78.3 634.2h0M81.6 643.5h0M74.2 631.0h0M73.1 652.5h0M79.3 666.7h0M76.4 647.3h0M77.1 657.8h0M81.4 636.4h0M72.0 669.1h0M75.3 629.2h0M79.3 665.0h0M72.6 655.7h0M81.5 673.0h0M75.0 673.7h0M81.2 665.5h0M75.0 650.5h0M82.4 645.2h0M76.4 636.6h0M75.4 673.7h0M70.9 641.4h0M79.8 660.0h0M82.0 671.9h0M74.2 668.9h0M81.9 642.4h0M76.3 659.7h0M70.5 666.9h0M73.9 648.0h0M70.6 662.2h0M82.7 656.2h0M81.5 671.9h0M75.6 650.9h0M70.4 640.2h0M82.6 666.6h0M75.1 651.9h0M79.3 672.6h0M73.9 665.7h0M78.2 657.2h0M82.7 673.8h0M74.5 661.5h0M77.6 672.9h0M71.2 651.6h0M72.2 633.1h0M82.1 672.5h0M76.9 665.0h0M76.8 636.6h0M73.0 645.6h0M82.3 673.1h0M73.2 654.2h0M81.1 660.9h0M73.2 646.6h0M74.4 630.7h0M80.3 652.2h0M74.7 671.5h0M82.5 645.9h0M82.0 667.5h0M73.3 640.1h0M79.4 648.0h0M75.5 673.1h0M69.9 659.7h0M74.5 670.2h0M79.6 661.8h0M72.4 668.4h0M75.3 659.2h0M77.2 674.0h0M71.2 656.6h0M70.9 652.8h0M77.1 649.9h0M79.4 656.3h0M74.4 672.1h0M75.3 645.8h0M83.5 651.5h0M73.7 671.6h0M82.1 671.6h0M83.3 631.7h0M71.3 668.8h0M76.1 640.1h0M77.6 650.3h0M78.6 668.8h0M73.5 669.3h0M71.4 667.2h0M83.0 646.1h0M77.2 658.1h0M76.8 639.2h0M80.8 640.1h0M80.2 641.2h0M73.7 673.4h0M79.3 630.8h0M69.8 652.6h0M70.4 640.8h0M72.9 642.9h0M70.2 658.9h0M77.0 654.7h0M83.6 673.3h0M74.6 670.8h0M72.6 648.4h0M83.1 634.6h0M79.9 652.5h0M70.4 671.2h0M72.0 643.9h0M71.6 672.7h0M79.7 632.9h0" stroke="#000" stroke-width="1.70" stroke-linecap="round" fill="none" stroke-opacity="0.5"/><path d="M72.9 633.7h0M81.6 652.6h0M72.9 673.5h0M72.0 668.4h0M71.4 630.5h0M73.4 670.5h0M82.3 673.5h0M71.8 674.0h0M77.8 672.1h0M78.3 659.4h0M72.6 673.4h0M81.6 638.4h0M72.4 640.5h0M76.0 658.4h0M75.1 645.5h0M77.3 673.9h0M70.2 672.9h0M79.6 672.8h0M73.7 672.4h0M80.3 671.5h0M75.3 633.2h0M81.1 635.1h0M73.3 662.7h0M70.1 672.1h0M82.2 673.8h0M78.5 669.1h0M71.5 654.4h0M71.5 672.3h0M81.6 653.6h0M78.4 660.6h0M70.0 665.5h0M73.9 644.2h0M76.0 646.5h0M74.7 650.0h0M80.4 660.3h0M80.5 654.9h0M78.3 664.4h0M75.2 666.7h0M71.8 655.4h0M83.2 670.5h0M82.7 644.2h0M74.8 654.4h0M75.4 656.1h0M83.7 665.9h0M77.0 672.7h0M72.0 667.8h0M74.7 629.4h0M69.9 667.3h0M73.5 651.6h0M80.4 672.7h0M70.7 674.0h0M71.2 635.7h0M78.0 631.9h0M74.2 636.1h0M73.2 664.0h0M73.2 671.3h0M77.3 664.2h0M72.5 668.0h0M71.1 668.5h0M74.7 647.3h0M76.1 672.3h0M78.3 670.2h0M75.2 651.0h0M74.3 650.7h0M74.2 669.8h0M82.2 638.6h0M75.6 650.9h0M71.4 635.1h0M74.0 664.4h0M79.8 669.0h0M73.8 673.7h0M72.7 635.0h0M73.7 673.0h0M78.6 661.3h0M80.5 673.7h0M77.4 669.1h0M79.7 650.3h0M74.0 637.0h0M72.2 650.5h0M74.8 670.4h0M74.3 660.6h0M71.0 647.6h0M77.4 674.0h0M73.2 672.1h0M81.6 634.2h0M81.4 666.7h0M77.7 652.6h0M72.0 667.5h0M71.1 673.7h0M80.8 662.5h0M79.1 640.9h0M72.5 673.1h0M83.3 653.1h0M83.1 660.1h0M79.3 661.6h0M77.7 663.8h0M73.3 673.0h0M71.4 658.5h0M77.5 647.7h0M75.3 671.3h0M73.1 664.7h0M82.2 653.0h0M74.6 644.8h0M79.9 673.7h0M79.3 669.0h0M71.3 642.5h0M82.1 657.3h0M76.8 637.8h0M76.5 671.6h0M72.8 636.4h0M75.2 665.5h0M70.4 671.9h0M77.2 632.1h0M78.7 652.3h0M74.1 644.8h0M70.6 666.1h0M74.7 672.2h0M72.2 673.4h0M82.7 655.0h0M75.8 638.1h0M72.1 668.5h0M78.9 670.7h0M74.6 672.1h0M74.4 645.6h0M70.4 652.7h0M82.8 656.0h0M72.0 672.0h0M77.6 651.0h0M80.7 667.1h0M71.6 674.0h0M80.4 673.0h0M83.0 665.0h0M80.7 669.3h0M74.3 635.7h0M70.6 656.0h0M73.5 662.2h0M72.8 655.7h0M73.8 666.3h0M77.9 637.1h0M81.9 629.4h0M71.9 646.4h0M79.8 637.2h0M76.9 669.7h0M71.5 659.8h0M76.8 672.6h0M82.2 646.7h0M75.5 656.4h0M79.5 630.3h0M75.2 664.2h0M73.4 653.5h0M82.5 673.6h0M69.8 645.8h0M80.2 664.5h0M78.6 657.1h0M77.1 660.3h0M81.2 669.5h0M81.9 673.7h0M71.2 665.4h0M79.5 661.5h0M77.1 669.5h0M70.6 671.1h0M78.7 638.7h0M76.0 664.9h0M75.2 655.2h0M74.4 673.3h0M70.2 654.5h0M76.0 659.6h0M79.3 656.5h0M71.2 673.1h0M70.6 649.1h0M74.5 658.3h0M81.8 656.4h0M81.8 668.9h0M78.0 665.0h0M77.3 663.2h0M81.0 654.5h0M78.7 673.6h0M81.0 659.2h0M82.7 670.4h0M73.4 635.6h0M73.9 669.6h0M81.6 671.8h0M72.9 656.9h0M81.4 672.4h0M80.3 659.3h0M71.0 672.1h0M78.2 631.3h0M73.3 646.1h0M77.5 643.3h0M71.6 655.3h0M74.4 639.8h0M76.7 657.4h0M72.6 663.5h0M70.0 633.0h0M72.0 668.7h0M77.9 669.6h0M83.6 673.7h0M82.7 674.0h0M79.3 671.8h0M83.8 643.0h0M72.6 652.8h0M83.3 650.1h0M81.5 642.4h0M83.3 657.6h0M73.0 670.6h0M75.3 643.5h0M78.9 640.2h0M70.0 672.7h0M74.8 639.7h0M79.1 642.1h0M83.2 665.1h0M83.2 658.8h0M72.3 632.9h0M81.9 658.5h0M76.0 632.0h0M82.5 659.2h0M76.1 645.5h0M83.1 636.6h0M78.8 668.1h0M81.1 649.9h0M77.9 640.9h0M80.1 671.3h0M72.4 667.1h0M75.3 664.2h0M78.7 643.8h0M80.3 668.3h0M80.6 673.7h0M70.8 656.8h0M78.8 631.3h0M74.6 663.9h0M79.2 635.9h0M79.1 655.3h0M71.9 650.2h0M78.9 637.4h0M78.2 641.0h0M81.0 665.2h0M71.7 668.3h0M71.3 669.9h0M72.7 640.0h0M75.7 673.5h0M73.0 638.1h0M76.5 672.2h0M75.4 668.0h0M72.6 668.6h0M79.9 647.4h0M73.5 665.4h0M74.8 636.0h0M76.4 629.7h0M77.7 658.8h0M83.5 662.0h0" stroke="#000" stroke-width="1.70" stroke-linecap="round" fill="none" stroke-opacity="0.5"/><path d="M69.6,713.5 L69.6,676 L69.6,672.8 L70.6,668.6 L71.6,673.7 L72.6,674.1 L73.6,665.6 L74.5,664.2 L75.5,666.6 L76.5,671.0 L77.5,668.5 L78.5,664.1 L79.5,674.0 L80.5,673.4 L81.5,669.6 L82.5,664.5 L83.5,674.7 L83.8,676 L83.8,713.5 Z" fill="#000"/><path d="M76.8 410.0h0M76.8 415.9h0M76.8 442.2h0M76.8 449.9h0M76.8 455.0h0M76.8 459.6h0M76.8 473.6h0M76.8 475.3h0M76.8 477.1h0M76.8 482.5h0M76.8 496.9h0M76.8 498.6h0M76.8 500.4h0M76.8 506.2h0M76.8 513.7h0M76.8 539.5h0M76.8 521.3h0M76.8 522.6h0M76.8 523.9h0M76.8 525.2h0M76.8 526.5h0M76.8 527.8h0M76.8 529.1h0M76.8 530.4h0M76.8 531.7h0M76.8 533.0h0M76.8 545.8h0M76.6 546.7h0M77.2 548.2h0M76.9 549.6h0M76.5 550.7h0M76.7 552.5h0M76.9 553.5h0M76.5 554.4h0M76.9 555.8h0M77.0 557.3h0M76.4 558.7h0M76.4 560.3h0M76.7 561.7h0M77.0 563.3h0M76.9 564.4h0M76.8 566.0h0M77.2 567.0h0M76.4 568.5h0M77.3 569.6h0M76.7 570.7h0M77.1 572.4h0M77.0 574.0h0M76.4 574.8h0M77.1 576.8h0M76.3 577.6h0M77.2 578.7h0M77.0 579.8h0M76.9 581.7h0M76.6 583.6h0M76.3 584.6h0M76.4 586.3h0M77.0 588.3h0M77.1 589.3h0M76.8 590.3h0M77.1 591.2h0M77.2 593.1h0M77.2 593.9h0M77.1 595.4h0M76.9 596.8h0M77.1 598.3h0M76.4 599.2h0M76.6 600.6h0M76.3 601.9h0M76.3 603.6h0M77.1 605.4h0M76.4 606.7h0M76.5 608.3h0M76.4 609.6h0M76.8 611.6h0M76.4 612.8h0M77.1 614.5h0M76.4 616.3h0M76.6 617.6h0M76.4 619.3h0M77.3 620.8h0M76.3 622.5h0M76.4 623.4h0M76.9 625.1h0M76.8 626.5h0M76.9 627.8h0M77.2 629.3h0M77.1 631.0h0M77.1 632.9h0M76.3 634.6h0M77.1 636.2h0M77.2 637.5h0M77.2 638.5h0M77.0 639.9h0M76.6 641.0h0" stroke="#1a1a1a" stroke-width="4.40" stroke-linecap="round" fill="none"/><path d="M90.2 610.6h0M95.9 693.7h0M91.3 602.3h0M96.0 686.8h0M96.7 635.1h0M88.0 659.5h0M97.8 677.3h0M97.7 601.5h0M91.6 676.9h0M89.3 603.1h0M94.3 666.2h0M86.8 607.5h0M92.4 708.6h0M87.3 634.0h0M87.2 704.4h0M88.9 695.8h0M88.4 701.3h0M88.3 616.1h0M93.4 625.0h0M98.5 640.7h0M90.7 658.6h0M90.9 685.7h0M90.7 671.8h0M96.8 626.3h0M95.2 610.5h0M91.7 613.3h0M93.2 608.0h0M98.5 696.1h0M88.2 696.8h0M91.9 681.9h0M94.6 640.5h0M86.1 673.1h0M92.9 626.2h0M96.4 705.9h0M88.3 625.4h0M86.4 649.2h0M98.2 645.0h0M92.2 657.3h0M88.8 693.4h0M98.4 636.0h0M90.8 618.2h0M91.9 662.9h0M98.4 616.7h0M86.7 626.2h0M97.5 674.1h0M91.3 605.8h0M89.7 708.3h0M96.4 673.2h0M93.6 689.7h0M97.6 663.9h0M90.7 658.7h0M92.1 675.3h0M95.2 672.5h0M91.5 707.3h0M89.0 682.3h0M88.8 624.1h0M91.4 608.7h0M95.1 649.0h0M88.0 641.4h0M94.2 678.9h0M89.3 692.0h0M88.5 601.7h0M86.0 619.4h0M95.2 710.6h0M87.9 637.6h0M89.3 606.2h0M95.0 629.5h0M88.4 704.0h0M91.0 680.3h0M93.6 621.4h0M87.2 674.3h0M87.4 671.0h0M95.4 603.5h0M94.9 668.8h0" stroke="#000" stroke-width="1.50" stroke-linecap="round" fill="none" stroke-opacity="0.4"/><path d="M91.7 709.9h0M98.9 684.3h0M89.0 699.3h0M97.5 689.0h0M94.1 641.1h0M94.4 660.3h0M98.5 610.0h0M89.3 680.2h0M94.9 683.6h0M94.9 623.4h0M94.5 667.0h0M86.1 640.5h0M94.9 630.6h0M91.3 677.2h0M90.4 693.2h0M96.4 675.1h0M88.0 673.8h0M87.2 710.1h0M86.8 601.7h0M95.3 615.5h0M87.4 627.8h0M88.9 621.7h0M92.1 697.4h0M86.3 649.1h0M87.5 653.7h0M86.8 640.4h0M88.8 683.4h0M87.4 705.7h0M88.7 609.3h0M86.9 650.7h0M87.5 710.2h0M92.6 602.7h0M92.4 667.8h0M95.6 696.0h0M93.7 701.0h0M87.8 621.5h0M94.8 601.4h0M98.3 655.1h0M88.6 712.0h0M91.2 638.4h0M96.7 600.0h0M95.2 615.4h0M87.7 658.5h0M88.1 665.6h0M97.1 707.2h0M97.8 611.7h0M97.3 647.0h0M92.6 613.1h0M97.6 707.8h0M88.3 677.5h0M94.8 608.2h0M96.3 601.1h0M88.3 707.4h0M88.6 645.8h0M90.6 674.3h0M89.4 604.0h0M93.5 705.5h0M88.2 654.0h0M98.5 685.9h0M98.5 622.0h0M93.8 695.2h0M92.9 681.3h0M95.0 600.4h0M86.2 612.8h0M92.7 635.9h0M87.0 618.2h0M96.2 681.6h0M93.2 605.7h0M88.9 689.3h0M95.2 690.0h0M93.3 615.5h0M89.1 629.0h0M95.4 624.7h0" stroke="#000" stroke-width="1.50" stroke-linecap="round" fill="none" stroke-opacity="0.4"/><path d="M94.5 704.4h0M89.5 628.0h0M97.9 636.8h0M92.9 611.7h0M92.9 708.2h0M98.1 645.6h0M88.7 632.2h0M98.8 619.7h0M95.7 627.8h0M89.3 708.0h0M95.0 634.0h0M87.8 612.6h0M96.0 619.9h0M91.7 681.6h0M86.3 692.8h0M89.6 601.1h0M93.6 674.1h0M90.9 673.0h0M97.0 614.6h0M96.2 628.2h0M96.3 632.0h0M88.8 643.0h0M86.6 674.3h0M87.5 651.5h0M88.2 625.8h0M92.0 704.9h0M93.3 697.5h0M92.8 626.9h0M89.4 703.5h0M90.1 623.0h0M92.2 620.2h0M92.1 682.9h0M94.4 616.2h0M90.7 701.1h0M87.0 624.3h0M95.7 665.3h0M98.3 626.1h0M98.8 669.6h0M91.9 625.3h0M94.6 602.6h0M93.8 628.9h0M89.1 613.5h0M93.5 699.3h0M91.8 645.8h0M89.4 705.5h0M86.2 632.4h0M92.8 695.1h0M89.1 673.7h0M88.5 608.5h0M89.3 626.5h0M95.6 669.9h0M92.1 675.9h0M96.2 626.1h0M98.5 700.8h0M95.9 614.3h0M87.7 645.5h0M93.5 639.8h0M86.2 675.7h0M96.8 671.9h0M95.9 633.7h0M97.3 665.9h0M89.5 607.8h0M88.9 629.7h0M98.1 708.6h0M91.4 653.6h0M87.1 669.9h0M90.4 655.1h0M88.0 677.6h0M96.4 610.6h0M96.2 625.9h0M88.5 665.2h0M91.5 659.7h0M89.7 671.7h0" stroke="#000" stroke-width="1.50" stroke-linecap="round" fill="none" stroke-opacity="0.4"/><line x1="92.5" y1="651.3" x2="92.5" y2="710.0" stroke="#333" stroke-width="0.8"/><rect x="86.5" y="681.1" width="12.3" height="21.5" fill="#74c0e0" stroke="#333" stroke-width="0.7"/><path d="M97.1 686.1h0M89.7 685.1h0M96.2 696.3h0M90.2 688.3h0M93.7 683.8h0M88.4 700.6h0M88.9 684.4h0M90.9 696.3h0M87.9 683.4h0M89.6 695.4h0M92.2 696.2h0M91.8 700.6h0M87.9 691.1h0M87.1 701.6h0M92.1 694.4h0M95.4 697.4h0M91.2 683.9h0M90.0 697.4h0M87.5 685.3h0M88.6 685.5h0M90.6 684.5h0M88.0 687.2h0M97.1 691.5h0M90.0 691.3h0M88.2 685.9h0M96.1 688.8h0M92.1 701.8h0M90.4 685.5h0M88.8 690.4h0M93.3 682.2h0M97.1 701.0h0M96.1 687.3h0M90.7 689.6h0M97.2 690.2h0M95.4 686.9h0M98.1 696.6h0M89.6 695.1h0M88.2 692.8h0M90.7 698.9h0M88.3 700.8h0M94.2 683.0h0M91.9 688.8h0M96.7 686.3h0M87.8 688.5h0M89.3 683.4h0" stroke="#000" stroke-width="1.50" stroke-linecap="round" fill="none" stroke-opacity="0.5"/><path d="M90.3 695.3h0M89.3 697.4h0M97.8 697.9h0M95.0 683.1h0M87.2 692.3h0M96.8 691.2h0M92.5 692.4h0M92.8 697.5h0M91.1 691.7h0M89.2 688.4h0M95.6 689.4h0M97.5 694.4h0M94.0 687.6h0M97.2 684.6h0M90.1 683.4h0M91.7 683.7h0M97.8 683.0h0M88.2 684.1h0M92.8 698.7h0M95.5 690.5h0M89.5 701.4h0M95.2 699.8h0M97.7 694.1h0M95.0 696.7h0M97.8 684.1h0M89.5 687.1h0M88.4 699.1h0M95.3 688.8h0M96.2 699.3h0M95.5 694.1h0M90.4 699.0h0M90.9 689.5h0M87.9 686.5h0M94.0 699.7h0M97.3 698.1h0M95.4 698.3h0M91.1 698.8h0M90.6 698.4h0M96.5 699.6h0M95.3 695.5h0M96.7 693.0h0M95.7 697.6h0M90.6 687.0h0M87.0 697.9h0M87.4 696.8h0" stroke="#000" stroke-width="1.50" stroke-linecap="round" fill="none" stroke-opacity="0.5"/><line x1="86.5" y1="694.6" x2="98.8" y2="694.6" stroke="#333" stroke-width="1"/><path d="M92.5 543.5h0M92.5 576.0h0M92.5 588.2h0M92.5 593.5h0M92.5 596.0h0M92.5 598.5h0M92.5 601.7h0M92.5 621.5h0M92.5 624.0h0M92.5 626.5h0M92.5 628.5h0M92.5 631.5h0M92.5 637.8h0M92.5 642.4h0M92.5 645.0h0M92.5 647.5h0M92.5 649.4h0" stroke="#1a1a1a" stroke-width="4.40" stroke-linecap="round" fill="none"/><path d="M104.5 657.1h0M113.5 641.6h0M107.7 701.8h0M112.6 668.5h0M112.1 662.9h0M112.7 677.9h0M106.5 707.8h0M113.1 613.6h0M110.7 653.8h0M111.9 690.5h0M111.0 691.8h0M114.0 654.2h0M113.3 630.6h0M110.9 629.1h0M110.1 624.6h0M108.8 691.1h0M108.7 687.5h0M113.2 631.2h0M112.9 701.8h0M113.3 667.1h0M111.7 653.2h0M105.4 652.9h0M103.2 610.6h0M111.1 634.2h0M104.2 671.5h0M109.1 683.5h0M110.6 637.8h0M102.7 706.3h0M102.9 691.3h0M107.6 675.1h0M111.3 635.0h0M107.0 673.1h0M104.7 618.7h0M108.2 628.7h0M113.8 659.6h0" stroke="#000" stroke-width="1.50" stroke-linecap="round" fill="none" stroke-opacity="0.4"/><path d="M106.9 691.8h0M109.7 701.3h0M110.9 641.8h0M103.4 669.9h0M107.9 652.5h0M104.6 647.0h0M110.5 622.7h0M109.2 654.1h0M103.2 663.4h0M106.4 632.7h0M104.7 700.1h0M106.7 682.4h0M105.7 643.6h0M108.7 661.0h0M113.6 712.0h0M104.3 702.8h0M112.5 646.9h0M102.4 661.2h0M113.6 662.1h0M103.8 674.4h0M109.3 636.4h0M108.3 657.8h0M106.2 683.1h0M105.2 662.7h0M112.9 630.6h0M111.1 682.6h0M112.2 704.4h0M107.4 618.8h0M110.2 624.5h0M114.1 644.3h0M104.5 626.4h0M105.7 626.5h0M104.4 642.2h0M107.9 654.9h0M113.4 658.1h0" stroke="#000" stroke-width="1.50" stroke-linecap="round" fill="none" stroke-opacity="0.4"/><line x1="108.1" y1="629.0" x2="108.1" y2="712.0" stroke="#333" stroke-width="0.8"/><rect x="102.2" y="666.7" width="11.9" height="34.7" fill="#8c8c8c" stroke="#333" stroke-width="0.7"/><path d="M104.8 686.9h0M104.2 673.4h0M103.4 690.4h0M113.2 680.9h0M106.5 681.6h0M106.5 690.1h0M106.9 672.9h0M112.1 686.3h0M102.7 695.2h0M110.6 679.3h0M109.5 697.4h0M107.0 681.8h0M105.9 685.7h0M109.9 691.5h0M113.0 672.7h0M106.6 695.3h0M111.3 686.9h0M110.0 678.9h0M113.0 685.6h0M107.0 673.8h0M103.9 696.7h0M111.4 668.9h0M106.2 683.3h0M108.1 679.6h0M112.4 679.2h0" stroke="#000" stroke-width="1.40" stroke-linecap="round" fill="none" stroke-opacity="0.4"/><line x1="102.2" y1="692.3" x2="114.1" y2="692.3" stroke="#333" stroke-width="1"/><path d="M108.1 524.1h0M108.1 529.0h0M108.1 530.6h0M108.1 603.3h0M108.1 606.4h0" stroke="#1a1a1a" stroke-width="4.40" stroke-linecap="round" fill="none"/><rect x="117.1" y="708.4" width="13.6" height="7.9" fill="#000"/><rect x="122.1" y="697.0" width="3.3" height="12.0" fill="#111"/><path d="M123.8 697.5h0" stroke="#111" stroke-width="3.40" stroke-linecap="round" fill="none"/><rect x="133.3" y="713.0" width="12.8" height="2.6" fill="#111"/><path d="M139.4 701.0h0M139.4 709.2h0" stroke="#222" stroke-width="4.00" stroke-linecap="round" fill="none"/><rect x="149.0" y="713.5" width="12.3" height="2.4" fill="#222"/><rect x="164.0" y="711.2" width="13.5" height="5.1" fill="#000"/><rect x="169.0" y="690.5" width="3.3" height="21.0" fill="#111"/><path d="M170.6 691.0h0" stroke="#111" stroke-width="3.40" stroke-linecap="round" fill="none"/><rect x="179.2" y="711.2" width="14.0" height="5.1" fill="#000"/><rect x="184.7" y="701.5" width="3.3" height="10.0" fill="#111"/><path d="M186.3 702.0h0" stroke="#111" stroke-width="3.40" stroke-linecap="round" fill="none"/><path d="M190.4 697.2h0M165.3 695.6h0M187.9 707.3h0M163.9 707.6h0M121.8 710.1h0M179.5 709.6h0M175.2 693.5h0M184.6 691.7h0M117.6 707.7h0M121.1 694.8h0M167.4 706.1h0M192.0 692.4h0M124.5 710.3h0M127.6 693.3h0M117.3 700.9h0M184.8 692.0h0M189.9 703.1h0M164.2 691.2h0M117.3 697.2h0M188.2 692.5h0M118.2 694.3h0M173.1 711.3h0M165.4 708.9h0M169.2 695.6h0M123.5 690.5h0M189.2 693.9h0M129.2 707.5h0M189.7 691.3h0M188.1 709.9h0M171.4 709.5h0M123.1 709.4h0M188.2 704.5h0M192.6 708.9h0M186.6 700.9h0M184.7 705.2h0M123.8 710.3h0M186.6 690.1h0M169.5 704.7h0M184.7 704.6h0M177.1 711.0h0M181.6 709.7h0M120.5 709.9h0M190.4 708.1h0M189.0 697.0h0M183.0 703.4h0M124.8 702.0h0M175.7 711.8h0M176.7 706.7h0M122.7 691.8h0M176.4 702.9h0M173.6 690.1h0M190.2 692.3h0M176.0 703.3h0M169.9 706.0h0M164.8 699.9h0M165.1 700.9h0M183.5 691.4h0M167.6 698.2h0M192.6 712.0h0M174.5 705.2h0" stroke="#000" stroke-width="1.20" stroke-linecap="round" fill="none" stroke-opacity="0.3"/><line x1="67.5" y1="710.4" x2="195.3" y2="710.4" stroke="#000" stroke-width="1.0"/><line x1="63.0" y1="716.3" x2="195.3" y2="716.3" stroke="#000" stroke-width="1.1"/><rect x="67.5" y="395.1" width="127.8" height="335.5" fill="none" stroke="#333" stroke-width="1.1"/><line x1="63.1" y1="716.3" x2="67.5" y2="716.3" stroke="#333" stroke-width="1.3"/><text x="59.3" y="721.0" font-size="13.3" text-anchor="end" fill="#4d4d4d">0</text><line x1="63.1" y1="606.4" x2="67.5" y2="606.4" stroke="#333" stroke-width="1.3"/><text x="59.3" y="611.1" font-size="13.3" text-anchor="end" fill="#4d4d4d">2000</text><line x1="63.1" y1="496.5" x2="67.5" y2="496.5" stroke="#333" stroke-width="1.3"/><text x="59.3" y="501.2" font-size="13.3" text-anchor="end" fill="#4d4d4d">4000</text><line x1="76.8" y1="730.6" x2="76.8" y2="735.0" stroke="#333" stroke-width="1.3"/><line x1="92.5" y1="730.6" x2="92.5" y2="735.0" stroke="#333" stroke-width="1.3"/><line x1="108.1" y1="730.6" x2="108.1" y2="735.0" stroke="#333" stroke-width="1.3"/><line x1="123.8" y1="730.6" x2="123.8" y2="735.0" stroke="#333" stroke-width="1.3"/><line x1="139.4" y1="730.6" x2="139.4" y2="735.0" stroke="#333" stroke-width="1.3"/><line x1="155.1" y1="730.6" x2="155.1" y2="735.0" stroke="#333" stroke-width="1.3"/><line x1="170.7" y1="730.6" x2="170.7" y2="735.0" stroke="#333" stroke-width="1.3"/><line x1="186.3" y1="730.6" x2="186.3" y2="735.0" stroke="#333" stroke-width="1.3"/><text transform="translate(84.4,744.4) rotate(-60)" font-size="13.6" text-anchor="end" fill="#4d4d4d">Annotated</text><text transform="translate(100.0,744.4) rotate(-60)" font-size="13.6" text-anchor="end" fill="#4d4d4d">Extension</text><text transform="translate(115.7,744.4) rotate(-60)" font-size="13.6" text-anchor="end" fill="#4d4d4d">Isoform</text><text transform="translate(131.3,744.4) rotate(-60)" font-size="13.6" text-anchor="end" fill="#4d4d4d">Start overlap</text><text transform="translate(147.0,744.4) rotate(-60)" font-size="13.6" text-anchor="end" fill="#4d4d4d">Stop overlap</text><text transform="translate(162.7,744.4) rotate(-60)" font-size="13.6" text-anchor="end" fill="#4d4d4d">Downstream</text><text transform="translate(178.3,744.4) rotate(-60)" font-size="13.6" text-anchor="end" fill="#4d4d4d">New</text><text transform="translate(193.9,744.4) rotate(-60)" font-size="13.6" text-anchor="end" fill="#4d4d4d">Upstream</text><text transform="translate(19.9,562.9) rotate(-90)" font-size="17.6" text-anchor="middle">Length (AAs)</text><path d="M195.3,710.4 L270.2,395.4 L270.2,730.4 L195.3,716.3 Z" fill="#e8e9e9"/><line x1="195.3" y1="710.4" x2="270.2" y2="395.4" stroke="#111" stroke-width="1.1"/><line x1="195.3" y1="716.3" x2="270.2" y2="730.4" stroke="#111" stroke-width="1.1"/><rect x="270.2" y="395.4" width="255.6" height="335.0" fill="#fff"/><line x1="270.2" y1="677.1" x2="525.8" y2="677.1" stroke="#ebebeb" stroke-width="0.6"/><line x1="270.2" y1="600.8" x2="525.8" y2="600.8" stroke="#ebebeb" stroke-width="0.6"/><line x1="270.2" y1="524.5" x2="525.8" y2="524.5" stroke="#ebebeb" stroke-width="0.6"/><line x1="270.2" y1="448.2" x2="525.8" y2="448.2" stroke="#ebebeb" stroke-width="0.6"/><line x1="270.2" y1="715.3" x2="525.8" y2="715.3" stroke="#ebebeb" stroke-width="1.1"/><line x1="270.2" y1="639.0" x2="525.8" y2="639.0" stroke="#ebebeb" stroke-width="1.1"/><line x1="270.2" y1="562.7" x2="525.8" y2="562.7" stroke="#ebebeb" stroke-width="1.1"/><line x1="270.2" y1="486.4" x2="525.8" y2="486.4" stroke="#ebebeb" stroke-width="1.1"/><line x1="270.2" y1="410.1" x2="525.8" y2="410.1" stroke="#ebebeb" stroke-width="1.1"/><line x1="288.9" y1="395.4" x2="288.9" y2="730.4" stroke="#ebebeb" stroke-width="1.1"/><line x1="320.1" y1="395.4" x2="320.1" y2="730.4" stroke="#ebebeb" stroke-width="1.1"/><line x1="351.4" y1="395.4" x2="351.4" y2="730.4" stroke="#ebebeb" stroke-width="1.1"/><line x1="382.6" y1="395.4" x2="382.6" y2="730.4" stroke="#ebebeb" stroke-width="1.1"/><line x1="413.9" y1="395.4" x2="413.9" y2="730.4" stroke="#ebebeb" stroke-width="1.1"/><line x1="445.1" y1="395.4" x2="445.1" y2="730.4" stroke="#ebebeb" stroke-width="1.1"/><line x1="476.4" y1="395.4" x2="476.4" y2="730.4" stroke="#ebebeb" stroke-width="1.1"/><line x1="507.6" y1="395.4" x2="507.6" y2="730.4" stroke="#ebebeb" stroke-width="1.1"/><clipPath id="dclip"><rect x="270.2" y="395.4" width="255.6" height="335.0"/></clipPath><g clip-path="url(#dclip)"><line x1="288.9" y1="395.4" x2="288.9" y2="581.0" stroke="#555" stroke-width="1.0"/><path d="M292.1 416.1h0M299.0 393.2h0M296.9 507.9h0M283.6 455.5h0M297.3 408.0h0M296.4 477.3h0M296.3 413.8h0M282.8 413.7h0M299.8 394.1h0M287.1 448.3h0M288.5 460.3h0M284.9 548.7h0M290.3 396.5h0M280.0 432.0h0M285.2 470.4h0M298.9 445.5h0M288.5 560.1h0M282.0 405.1h0M287.2 407.3h0M283.1 397.4h0M292.6 414.6h0M293.1 457.3h0M290.5 577.4h0M290.8 508.6h0M278.5 474.6h0M289.2 440.4h0M287.3 460.6h0M298.1 430.4h0M295.4 398.6h0M288.1 511.2h0M278.0 550.3h0M287.3 449.6h0M299.6 410.9h0M294.9 512.4h0M295.0 443.9h0M280.2 456.9h0M294.1 509.2h0M279.0 458.4h0M282.5 413.6h0M292.5 396.6h0M283.4 489.5h0M279.4 395.4h0M286.3 494.0h0M287.8 394.1h0M287.5 489.1h0M295.3 521.7h0M298.8 414.8h0M281.5 442.3h0M283.1 553.7h0M279.9 408.7h0M290.9 536.8h0M298.9 520.3h0M293.9 398.7h0M292.4 398.9h0M284.3 398.1h0M293.4 543.7h0M278.6 413.3h0" stroke="#222" stroke-width="1.90" stroke-linecap="round" fill="none" stroke-opacity="0.33"/><path d="M292.0 422.0h0M296.3 527.2h0M298.5 427.3h0M287.7 392.3h0M291.1 544.9h0M298.9 485.7h0M281.5 553.5h0M279.2 402.0h0M286.3 480.9h0M284.8 393.9h0M282.2 413.6h0M298.0 551.3h0M288.8 573.2h0M280.4 571.9h0M281.8 516.5h0M286.0 518.4h0M282.3 568.5h0M284.3 501.1h0M279.5 457.2h0M284.2 396.6h0M299.3 395.6h0M285.6 501.2h0M297.8 409.1h0M298.9 492.6h0M293.2 439.8h0M297.1 392.2h0M286.4 430.6h0M289.9 402.1h0M284.7 468.1h0M293.9 410.6h0M285.8 517.3h0M278.8 573.7h0M278.7 558.9h0M285.4 395.0h0M293.0 403.1h0M298.3 472.5h0M295.9 521.6h0M294.4 405.2h0M287.9 411.1h0M286.9 461.6h0M285.2 392.8h0M279.2 405.3h0M283.5 396.5h0M290.9 549.3h0M278.5 404.5h0M279.5 524.7h0M281.7 532.2h0M281.9 399.2h0M292.4 413.8h0M281.3 544.4h0M294.4 466.4h0M296.4 461.0h0M285.7 466.4h0M278.4 440.8h0M291.7 443.8h0M289.8 463.2h0M285.0 494.3h0" stroke="#222" stroke-width="1.90" stroke-linecap="round" fill="none" stroke-opacity="0.33"/><path d="M292.9 498.1h0M284.4 475.8h0M296.6 539.9h0M279.7 521.8h0M279.7 418.0h0M294.6 485.6h0M282.8 539.8h0M299.8 419.6h0M299.2 407.6h0M286.3 487.4h0M289.4 398.1h0M288.2 561.2h0M285.1 425.9h0M288.9 416.8h0M284.9 446.1h0M298.5 497.6h0M292.5 403.4h0M293.5 472.4h0M292.5 512.0h0M282.1 471.1h0M284.1 550.3h0M289.6 404.0h0M282.5 398.3h0M286.4 578.8h0M296.2 549.5h0M278.5 393.6h0M285.9 399.3h0M281.2 397.4h0M280.0 453.5h0M281.0 559.0h0M296.3 472.9h0M299.7 393.3h0M282.3 413.7h0M294.5 394.7h0M287.4 560.7h0M288.9 577.9h0M284.2 392.9h0M286.8 409.7h0M288.2 499.1h0M284.2 429.4h0M287.1 536.2h0M283.7 481.8h0M298.2 467.2h0M280.7 394.3h0M299.6 503.5h0M283.2 408.7h0M286.8 531.6h0M289.9 440.9h0M280.5 526.3h0M279.8 420.2h0M298.5 443.0h0M284.7 406.7h0M299.7 479.7h0M291.1 393.0h0M286.1 449.6h0M284.3 532.2h0" stroke="#222" stroke-width="1.90" stroke-linecap="round" fill="none" stroke-opacity="0.33"/><line x1="320.1" y1="395.4" x2="320.1" y2="465.0" stroke="#555" stroke-width="1.0"/><path d="M325.2 411.1h0M323.5 416.2h0M317.2 529.8h0M322.5 407.2h0" stroke="#222" stroke-width="1.90" stroke-linecap="round" fill="none" stroke-opacity="0.38"/><path d="M324.8 468.3h0M330.8 471.5h0M321.2 484.2h0" stroke="#222" stroke-width="1.90" stroke-linecap="round" fill="none" stroke-opacity="0.38"/><path d="M311.0 481.6h0M325.3 496.3h0M318.2 470.8h0" stroke="#222" stroke-width="1.90" stroke-linecap="round" fill="none" stroke-opacity="0.38"/><line x1="351.4" y1="395.4" x2="351.4" y2="529.1" stroke="#555" stroke-width="1.0"/><path d="M359.5 521.1h0M356.6 543.3h0" stroke="#222" stroke-width="1.90" stroke-linecap="round" fill="none" stroke-opacity="0.38"/><path d="M357.9 514.6h0M342.6 541.3h0" stroke="#222" stroke-width="1.90" stroke-linecap="round" fill="none" stroke-opacity="0.38"/><path d="M350.8 444.0h0M360.1 569.9h0" stroke="#222" stroke-width="1.90" stroke-linecap="round" fill="none" stroke-opacity="0.38"/><line x1="382.6" y1="379.6" x2="382.6" y2="701.6" stroke="#555" stroke-width="1.0"/><line x1="413.9" y1="422.3" x2="413.9" y2="689.4" stroke="#555" stroke-width="1.0"/><line x1="445.1" y1="437.6" x2="445.1" y2="690.9" stroke="#555" stroke-width="1.0"/><line x1="476.4" y1="425.4" x2="476.4" y2="701.6" stroke="#555" stroke-width="1.0"/><line x1="507.6" y1="529.1" x2="507.6" y2="701.6" stroke="#555" stroke-width="1.0"/><path d="M374.5 485.6h0M375.0 441.3h0M377.0 529.9h0M388.9 460.6h0M393.4 390.7h0M374.2 488.2h0M384.4 451.3h0M376.9 466.2h0M383.0 410.7h0M393.5 401.2h0M386.0 473.4h0M383.8 490.7h0M386.2 467.6h0M392.7 511.8h0M392.3 406.6h0M391.6 508.3h0M379.3 481.3h0M378.0 456.0h0M384.0 495.1h0M379.7 391.0h0M375.2 531.9h0M376.0 457.4h0M375.3 400.9h0M378.7 476.4h0M373.1 509.7h0M388.6 438.7h0M387.8 518.9h0M389.0 397.5h0M374.4 410.3h0M392.2 523.4h0M374.9 417.1h0M385.3 501.6h0M375.7 489.2h0M391.7 531.9h0M378.3 427.6h0M393.0 454.2h0M392.5 438.4h0M383.6 480.0h0M377.6 395.5h0M373.7 470.8h0M385.4 660.7h0M382.6 652.8h0M375.7 649.7h0M384.2 653.5h0M384.7 656.6h0M389.1 694.2h0M375.4 665.7h0M390.0 663.5h0M391.4 684.6h0M387.5 656.7h0M382.3 696.3h0M385.9 696.1h0M384.7 651.4h0M393.2 693.1h0M373.0 671.0h0M390.0 687.5h0M377.0 654.7h0M388.1 677.4h0M378.5 680.8h0M385.3 658.4h0M388.3 686.9h0M372.7 690.0h0M374.3 665.0h0M382.4 693.1h0M385.6 651.7h0M380.1 663.1h0M373.4 699.3h0M373.7 667.3h0M387.2 668.7h0M381.9 675.5h0M376.0 675.9h0M390.0 670.3h0M380.2 669.0h0M377.7 656.8h0M386.2 659.4h0M389.3 679.9h0M389.2 696.8h0M383.8 669.3h0M384.5 684.9h0M386.1 685.3h0M376.4 656.8h0M372.1 677.2h0M373.7 674.0h0M378.1 685.1h0M384.8 688.7h0M389.3 694.4h0M377.3 664.0h0M375.5 666.8h0M383.3 679.2h0M376.0 666.0h0M380.4 680.4h0M383.9 699.6h0M375.4 682.4h0M384.9 649.0h0M373.6 653.9h0M374.8 672.1h0M373.5 690.6h0M381.3 667.8h0M376.9 669.9h0M381.5 690.2h0M388.5 670.0h0M374.9 680.3h0M373.6 649.0h0M375.9 686.1h0M372.5 688.0h0M381.1 673.6h0M386.8 692.2h0M376.3 690.4h0M382.3 699.1h0M373.1 699.9h0M376.8 694.2h0M380.8 698.5h0M381.1 689.7h0M390.5 675.4h0M409.8 421.7h0M414.5 661.8h0M414.0 683.9h0M409.6 520.8h0M413.3 438.9h0M416.2 676.1h0M453.7 466.5h0M446.9 649.8h0M440.5 503.8h0M439.5 435.3h0M450.6 489.3h0M451.9 460.8h0M468.8 491.4h0M477.0 426.7h0M483.8 448.0h0M485.9 474.0h0M481.9 484.2h0M472.2 406.9h0M469.4 493.4h0M468.2 540.4h0M475.3 424.9h0M468.7 445.6h0M465.5 514.8h0M477.3 492.5h0M485.9 573.7h0M466.6 399.3h0M478.3 493.8h0M484.7 562.4h0M475.2 540.0h0M467.4 552.8h0M474.1 531.8h0M465.5 411.0h0M477.7 440.2h0M468.2 514.5h0M478.4 461.0h0M465.7 442.9h0M484.7 412.2h0M480.8 447.9h0M469.9 505.7h0M474.0 532.9h0M486.0 451.8h0M476.6 390.5h0M466.2 688.6h0M472.0 699.5h0M474.4 699.6h0M468.8 687.9h0M474.8 698.3h0M481.4 691.9h0M482.2 677.0h0M483.3 681.8h0M470.6 680.6h0M465.6 683.7h0M478.0 695.8h0M473.2 683.5h0M482.0 686.3h0M475.0 684.7h0M485.0 693.1h0M468.4 681.9h0M476.2 696.8h0M471.9 677.8h0M473.6 686.3h0M479.5 689.8h0M473.0 684.5h0M482.5 680.9h0M471.6 688.3h0M472.9 688.4h0M473.5 688.1h0M471.2 696.9h0M480.6 695.5h0M468.3 683.9h0M480.0 695.6h0M467.3 692.5h0M479.3 688.2h0M472.8 699.5h0M465.8 688.8h0M480.6 689.6h0M468.7 696.6h0M467.7 687.5h0M502.6 586.3h0M501.1 586.0h0M511.4 544.9h0M507.4 412.4h0M509.1 544.9h0M502.0 623.8h0M504.6 428.6h0M507.6 530.0h0M513.6 612.2h0M517.1 597.7h0M498.8 445.8h0M498.7 604.8h0M507.2 439.1h0M513.2 516.3h0M497.6 537.8h0M506.3 618.2h0M509.4 615.2h0M509.4 570.3h0M501.9 547.2h0M510.1 566.0h0M499.3 623.5h0M515.8 504.3h0M506.5 454.7h0M500.7 460.8h0M512.2 468.5h0M512.6 565.0h0M499.5 497.5h0M518.6 529.2h0M510.1 447.8h0M498.1 438.1h0M507.7 448.6h0M508.4 615.1h0M506.5 488.1h0M509.6 565.2h0M503.4 445.1h0M514.8 512.9h0M518.2 454.6h0M507.9 526.5h0M502.5 504.3h0M499.0 594.5h0M514.0 503.2h0M511.1 533.3h0M510.5 440.5h0M506.6 446.6h0M513.8 469.5h0M515.4 524.2h0M501.8 470.7h0M504.1 599.1h0M503.1 532.0h0M508.0 616.5h0M504.8 620.7h0M500.7 593.2h0M500.1 430.9h0M506.5 564.9h0M501.9 581.0h0M513.1 620.1h0M509.1 523.1h0M498.8 611.6h0M497.9 480.8h0M517.0 562.3h0M498.9 591.5h0M504.5 538.3h0M515.7 517.7h0M517.0 596.9h0M499.6 602.2h0M514.9 624.3h0M517.1 579.5h0M513.4 532.3h0M501.8 591.2h0M506.2 617.4h0M503.9 511.0h0M508.8 624.3h0M497.3 553.6h0M501.8 509.9h0M517.1 531.2h0M518.3 606.8h0M508.6 420.6h0M504.2 574.6h0M514.0 577.0h0M500.4 562.9h0M503.7 515.4h0M515.7 604.9h0M509.5 422.3h0M503.9 490.7h0M515.3 442.6h0M507.7 624.3h0M508.4 621.5h0M508.9 493.1h0M504.3 623.9h0M508.8 544.7h0M502.3 619.8h0M506.5 604.1h0M504.1 456.8h0M509.3 457.0h0M497.9 464.2h0M503.2 610.1h0M506.4 527.8h0M497.3 447.4h0M499.0 563.6h0M498.8 530.0h0M514.1 559.0h0M511.6 619.9h0M514.2 445.1h0M505.0 616.4h0M498.7 525.7h0M514.6 604.0h0M507.5 542.2h0M503.9 621.7h0M516.0 559.6h0M518.3 413.0h0M501.3 511.5h0M517.4 406.7h0M497.0 493.9h0M515.0 481.5h0M510.3 563.5h0M506.9 533.7h0M516.3 624.1h0M508.2 443.6h0M516.1 599.2h0M517.7 575.7h0M508.1 498.0h0M510.6 516.0h0M518.6 576.6h0M514.8 609.2h0M501.2 563.8h0M505.2 605.1h0M508.6 555.4h0M497.5 617.5h0M501.9 585.8h0M506.5 404.2h0M503.3 426.1h0M510.9 485.5h0M512.8 514.2h0M504.7 456.9h0M499.6 600.0h0M509.7 507.6h0M515.0 555.9h0M496.8 611.1h0M508.3 509.0h0M516.2 618.4h0M517.2 398.1h0M505.8 601.6h0M515.7 615.0h0M518.5 553.6h0M507.0 498.0h0M517.1 624.1h0M499.0 581.0h0M512.7 535.3h0M511.6 424.2h0M501.2 613.4h0M512.8 621.7h0M518.0 566.8h0M497.6 552.6h0M503.2 554.6h0M507.2 597.8h0M498.5 581.7h0M510.0 456.5h0M503.9 617.0h0M509.7 451.0h0M518.6 535.4h0" stroke="#222" stroke-width="1.90" stroke-linecap="round" fill="none" stroke-opacity="0.38"/><path d="M380.9 394.9h0M387.3 483.6h0M375.5 527.3h0M374.1 495.4h0M380.3 508.0h0M374.4 530.1h0M376.7 520.8h0M388.6 406.0h0M373.6 467.8h0M372.0 501.8h0M379.0 500.0h0M382.0 430.6h0M384.8 509.6h0M392.7 391.8h0M378.5 407.6h0M371.8 475.1h0M387.3 520.6h0M376.5 478.5h0M388.4 444.7h0M385.8 515.1h0M391.4 502.7h0M379.6 497.4h0M389.6 526.7h0M372.6 455.3h0M375.7 416.4h0M390.8 492.7h0M377.7 491.1h0M390.0 436.8h0M382.5 454.7h0M385.4 448.5h0M373.2 402.5h0M373.6 414.2h0M385.6 446.9h0M387.5 527.8h0M373.6 505.2h0M371.8 526.6h0M382.3 447.2h0M389.4 413.7h0M382.9 515.7h0M389.0 467.6h0M389.2 663.8h0M392.2 693.2h0M376.3 651.0h0M377.5 682.9h0M378.6 658.4h0M383.8 671.5h0M373.8 649.7h0M381.3 656.3h0M385.8 678.4h0M375.2 670.2h0M393.2 655.0h0M381.2 656.2h0M375.4 683.0h0M378.4 688.1h0M391.4 691.0h0M375.7 701.6h0M380.7 661.3h0M382.4 700.3h0M386.0 673.1h0M388.1 665.4h0M389.9 653.2h0M392.6 653.4h0M391.4 678.6h0M375.9 657.9h0M374.8 680.6h0M383.1 689.2h0M378.1 659.1h0M393.6 685.6h0M385.7 662.0h0M381.4 695.9h0M387.3 681.3h0M386.0 687.5h0M379.6 669.3h0M374.4 700.7h0M391.7 678.1h0M382.8 657.9h0M372.2 674.7h0M373.2 686.1h0M392.9 671.5h0M372.9 695.6h0M390.6 665.4h0M378.8 672.2h0M379.1 681.9h0M377.1 652.8h0M381.2 676.7h0M383.7 694.7h0M379.6 664.7h0M378.3 658.8h0M391.4 650.4h0M384.0 649.4h0M380.2 694.0h0M373.4 665.1h0M388.8 653.9h0M391.2 691.7h0M383.3 676.0h0M393.2 658.2h0M391.9 650.9h0M388.9 696.5h0M381.8 679.2h0M372.9 670.9h0M385.5 670.2h0M391.3 676.8h0M388.9 666.1h0M386.7 699.0h0M388.0 651.2h0M381.5 676.6h0M374.1 661.9h0M386.3 691.5h0M390.1 658.1h0M391.1 661.9h0M372.8 679.6h0M391.1 701.1h0M393.4 700.1h0M413.7 586.0h0M416.7 575.9h0M405.1 506.0h0M419.0 559.0h0M412.2 523.5h0M410.6 559.3h0M440.9 624.9h0M448.7 570.0h0M450.3 605.5h0M437.4 491.6h0M437.8 617.2h0M455.7 474.8h0M467.6 493.1h0M484.0 395.8h0M466.6 552.2h0M481.8 514.1h0M466.3 411.4h0M483.8 552.4h0M466.6 405.0h0M476.9 424.7h0M480.9 501.8h0M478.7 540.8h0M465.8 412.4h0M481.7 403.6h0M467.4 500.1h0M485.4 500.2h0M479.2 553.2h0M473.0 490.4h0M474.6 520.6h0M484.7 426.8h0M466.8 492.2h0M480.8 455.6h0M483.8 395.4h0M467.3 501.9h0M483.7 521.3h0M479.1 542.6h0M483.0 523.8h0M474.8 571.2h0M467.4 456.3h0M480.0 447.2h0M472.2 553.5h0M477.9 457.1h0M472.6 691.6h0M476.6 684.4h0M470.1 688.6h0M481.5 697.1h0M481.8 692.2h0M467.1 693.1h0M487.1 694.6h0M485.2 681.9h0M466.8 693.7h0M477.6 691.6h0M474.9 685.2h0M470.0 685.1h0M485.7 699.4h0M480.6 685.2h0M478.6 696.1h0M482.5 683.5h0M483.0 685.4h0M485.4 675.9h0M469.6 697.8h0M486.6 693.7h0M485.0 681.7h0M486.8 682.7h0M471.2 692.7h0M486.4 698.0h0M474.8 699.3h0M483.5 700.5h0M476.4 677.9h0M470.8 695.2h0M476.3 679.2h0M476.8 689.2h0M476.1 688.3h0M468.7 691.8h0M475.9 681.2h0M476.1 696.4h0M486.7 695.7h0M477.7 684.9h0M471.9 685.3h0M514.6 452.9h0M509.4 610.6h0M515.3 623.2h0M511.2 601.6h0M502.6 561.3h0M510.6 504.0h0M506.2 497.0h0M515.3 437.8h0M513.8 574.0h0M498.5 618.4h0M508.4 611.2h0M501.7 623.0h0M511.1 436.8h0M499.8 501.9h0M501.2 587.9h0M513.1 587.9h0M511.7 623.0h0M497.8 588.7h0M508.0 615.3h0M503.8 618.5h0M509.1 614.9h0M516.7 424.7h0M515.9 426.7h0M514.0 581.9h0M516.8 401.9h0M509.4 467.5h0M496.8 573.0h0M506.3 606.8h0M512.7 547.6h0M497.1 602.0h0M506.5 590.1h0M518.2 599.4h0M503.1 495.8h0M515.9 488.3h0M518.2 614.5h0M500.5 421.8h0M499.5 422.8h0M499.7 513.1h0M513.1 610.8h0M507.6 526.2h0M512.0 622.7h0M497.2 535.0h0M500.9 554.8h0M503.4 392.9h0M508.8 493.3h0M512.3 589.8h0M498.5 578.6h0M510.4 440.5h0M516.4 538.6h0M517.6 570.7h0M511.0 450.8h0M514.7 439.9h0M510.9 541.3h0M500.6 593.5h0M514.0 544.7h0M513.2 538.2h0M500.0 589.0h0M517.3 570.2h0M502.7 617.5h0M511.0 623.2h0M497.9 492.7h0M509.6 564.0h0M511.9 509.3h0M516.8 611.5h0M511.6 407.5h0M501.9 605.7h0M516.0 615.1h0M518.0 460.5h0M508.9 469.1h0M510.4 617.1h0M512.3 401.1h0M507.2 453.8h0M516.8 559.5h0M510.9 565.1h0M508.3 542.1h0M506.1 572.0h0M511.3 608.0h0M503.0 624.2h0M512.7 476.8h0M515.5 574.6h0M507.8 623.8h0M504.8 522.6h0M505.2 479.7h0M514.6 615.8h0M506.8 396.1h0M501.4 572.9h0M508.4 497.4h0M505.1 532.4h0M503.1 624.1h0M506.7 527.3h0M517.7 482.8h0M500.6 491.4h0M507.1 470.2h0M498.5 397.5h0M514.8 586.1h0M511.7 455.2h0M511.6 491.2h0M503.7 622.4h0M517.2 514.5h0M499.1 567.3h0M500.1 578.9h0M509.0 553.5h0M498.5 503.5h0M515.7 553.0h0M516.4 614.0h0M506.5 457.5h0M514.0 615.7h0M499.2 611.6h0M505.5 531.4h0M499.4 478.4h0M500.9 415.9h0M513.0 447.7h0M517.6 623.9h0M504.5 450.2h0M509.6 614.2h0M513.5 441.0h0M513.6 621.6h0M514.0 557.0h0M505.2 436.1h0M501.5 500.4h0M517.9 534.5h0M496.8 612.1h0M515.6 585.7h0M503.3 624.3h0M517.2 604.7h0M517.2 578.0h0M515.7 620.6h0M516.1 544.7h0M510.8 586.9h0M506.9 443.9h0M511.3 531.3h0M508.6 486.6h0M515.2 613.8h0M507.3 458.6h0M503.8 615.3h0M511.0 621.1h0M499.6 411.7h0M508.6 610.4h0M501.0 532.9h0M506.4 618.3h0M502.8 609.5h0M505.7 569.5h0M511.2 615.8h0M517.6 608.2h0M503.7 507.9h0M511.5 532.7h0M517.2 570.3h0M509.0 390.4h0M514.3 418.0h0M505.4 424.7h0M513.9 572.1h0M512.9 493.0h0M507.7 510.3h0M498.3 434.6h0M504.1 520.4h0M500.0 470.6h0M499.9 402.7h0M509.1 530.2h0M501.8 499.3h0M516.5 592.5h0" stroke="#222" stroke-width="1.90" stroke-linecap="round" fill="none" stroke-opacity="0.38"/><path d="M378.0 512.5h0M373.0 436.4h0M381.0 512.9h0M382.9 389.4h0M388.9 427.4h0M387.4 504.9h0M387.2 410.9h0M374.3 451.5h0M376.9 470.7h0M379.0 476.7h0M385.6 459.1h0M381.9 533.2h0M384.8 466.5h0M388.3 425.7h0M386.9 525.3h0M381.7 400.6h0M383.3 518.5h0M390.3 447.0h0M387.4 411.7h0M386.5 518.5h0M371.7 389.0h0M375.4 432.0h0M379.9 405.2h0M389.3 455.9h0M382.7 432.4h0M383.4 430.3h0M376.1 392.6h0M388.0 488.4h0M375.3 526.5h0M386.8 460.2h0M392.5 531.8h0M381.6 500.3h0M374.5 480.6h0M387.1 436.8h0M392.8 446.9h0M377.9 490.1h0M391.1 479.3h0M392.3 502.9h0M378.4 528.6h0M379.3 464.2h0M380.5 693.0h0M388.5 678.9h0M386.0 688.3h0M374.3 686.5h0M390.8 685.4h0M391.4 664.1h0M381.2 676.6h0M375.1 692.4h0M377.8 696.2h0M375.9 667.1h0M381.4 654.1h0M393.3 667.9h0M373.9 658.5h0M389.5 658.8h0M376.2 687.9h0M391.8 689.6h0M390.6 695.5h0M376.6 682.8h0M376.6 679.2h0M384.5 673.2h0M389.7 690.3h0M393.5 674.4h0M371.8 687.7h0M390.9 678.4h0M371.7 685.7h0M373.1 699.0h0M386.8 692.9h0M388.8 652.6h0M391.3 695.3h0M392.0 681.3h0M383.1 671.9h0M392.0 693.4h0M375.4 693.6h0M373.4 668.8h0M388.4 696.1h0M389.5 682.1h0M385.7 658.0h0M393.0 678.0h0M393.1 672.6h0M381.1 671.0h0M378.0 670.9h0M385.7 674.4h0M378.6 657.1h0M382.9 669.8h0M392.5 655.8h0M389.5 700.8h0M392.1 680.2h0M375.7 667.3h0M380.3 665.0h0M377.9 666.4h0M382.9 683.5h0M373.3 671.7h0M381.8 683.8h0M383.7 692.1h0M390.7 673.5h0M393.0 686.2h0M376.5 676.7h0M392.4 680.0h0M386.3 696.7h0M372.4 656.5h0M391.1 675.7h0M379.3 693.0h0M379.0 678.4h0M382.7 674.5h0M377.4 686.9h0M384.1 652.4h0M386.6 663.8h0M379.0 662.7h0M372.9 677.7h0M382.7 697.0h0M379.1 667.9h0M372.5 659.5h0M390.2 656.0h0M405.1 584.6h0M424.0 550.6h0M413.9 569.5h0M419.8 452.9h0M417.6 690.1h0M405.2 514.4h0M452.3 578.7h0M453.6 512.7h0M454.0 678.2h0M449.6 476.0h0M450.3 455.8h0M447.7 651.1h0M484.9 397.7h0M471.8 505.9h0M483.8 574.7h0M467.0 504.2h0M484.2 489.4h0M484.9 546.3h0M471.1 407.7h0M486.9 392.9h0M468.6 449.0h0M478.9 505.7h0M469.8 517.9h0M480.3 424.8h0M469.4 536.3h0M468.2 490.4h0M474.1 537.5h0M473.4 416.5h0M468.0 493.6h0M472.1 459.0h0M474.8 482.8h0M476.6 539.4h0M472.9 455.5h0M468.8 498.5h0M484.6 430.7h0M471.0 481.8h0M477.2 482.4h0M487.3 439.3h0M487.2 517.2h0M475.4 494.2h0M481.9 433.4h0M470.7 458.2h0M487.4 682.6h0M483.3 700.1h0M472.0 678.2h0M470.0 699.2h0M468.5 693.1h0M484.3 691.1h0M475.7 697.4h0M468.4 683.0h0M473.4 694.5h0M479.0 693.3h0M473.6 688.6h0M477.7 689.2h0M484.4 686.6h0M479.6 688.7h0M487.0 689.4h0M471.8 683.7h0M484.0 694.2h0M474.2 701.0h0M474.5 694.2h0M482.1 690.8h0M480.3 677.7h0M470.3 695.6h0M481.5 684.8h0M473.4 685.0h0M485.7 688.6h0M474.7 685.4h0M470.8 694.9h0M469.7 688.0h0M473.6 700.1h0M466.4 692.7h0M484.9 676.8h0M472.1 686.5h0M470.0 681.5h0M476.5 676.4h0M482.2 692.8h0M473.4 699.5h0M483.1 689.6h0M500.8 611.9h0M512.6 622.2h0M499.4 545.3h0M516.8 572.6h0M501.2 441.6h0M502.6 555.3h0M507.8 394.8h0M505.6 616.4h0M515.9 551.1h0M517.1 582.2h0M508.0 616.3h0M500.6 620.2h0M501.3 573.2h0M506.9 559.2h0M516.6 486.1h0M508.1 411.3h0M502.6 624.3h0M510.5 622.0h0M502.4 594.4h0M507.6 612.2h0M497.8 493.1h0M501.8 505.6h0M506.4 618.3h0M504.3 457.5h0M506.0 607.0h0M517.3 475.4h0M507.7 490.5h0M516.3 620.4h0M517.9 487.8h0M517.2 612.2h0M501.2 441.2h0M516.7 501.2h0M501.3 523.4h0M500.5 457.1h0M504.7 623.0h0M504.0 608.2h0M518.6 457.0h0M518.3 473.7h0M517.8 620.3h0M518.3 455.0h0M513.0 535.1h0M515.7 621.3h0M508.6 461.3h0M513.5 575.4h0M513.1 408.2h0M502.7 522.9h0M509.3 510.1h0M517.8 548.0h0M497.3 581.4h0M509.4 613.3h0M497.2 622.4h0M517.9 550.4h0M503.1 612.1h0M499.6 589.7h0M510.0 562.3h0M510.5 439.7h0M515.7 624.1h0M517.5 600.6h0M504.3 510.9h0M503.3 493.4h0M508.3 501.2h0M499.7 621.8h0M506.1 623.4h0M516.7 542.3h0M506.4 519.2h0M512.6 478.9h0M515.4 443.2h0M496.8 450.8h0M517.0 623.6h0M509.8 508.1h0M512.2 538.8h0M505.4 534.8h0M498.6 574.8h0M508.5 447.9h0M507.4 446.6h0M507.9 492.4h0M501.9 603.5h0M505.9 420.6h0M509.3 516.9h0M498.8 410.0h0M512.5 415.5h0M509.9 588.9h0M517.5 433.8h0M514.0 624.0h0M503.6 606.5h0M502.3 588.4h0M510.7 621.6h0M516.7 477.8h0M497.7 622.5h0M504.1 543.9h0M513.9 446.7h0M514.4 414.5h0M502.2 520.3h0M508.6 443.5h0M505.6 447.3h0M508.6 617.2h0M512.4 395.5h0M502.4 603.3h0M501.7 605.0h0M518.5 414.9h0M506.5 543.1h0M498.3 603.5h0M505.7 398.6h0M517.1 596.1h0M504.8 526.8h0M515.5 551.1h0M501.7 451.7h0M506.8 402.1h0M508.1 610.6h0M504.2 589.5h0M501.1 426.9h0M497.9 506.6h0M517.8 399.6h0M497.0 515.8h0M515.0 491.7h0M507.0 596.1h0M506.4 468.4h0M515.1 620.3h0M508.3 517.5h0M510.0 499.8h0M500.3 544.6h0M501.8 612.3h0M511.3 551.9h0M501.1 397.0h0M497.6 587.0h0M498.7 619.2h0M511.9 623.7h0M510.3 570.4h0M506.7 389.9h0M501.4 605.4h0M514.0 538.6h0M498.3 392.3h0M500.2 541.3h0M511.7 443.8h0M507.8 592.5h0M507.0 509.3h0M506.6 394.0h0M509.9 460.5h0M515.2 594.5h0M509.0 401.4h0M505.6 618.3h0M508.3 613.6h0M513.8 497.5h0M500.7 576.8h0M518.2 622.2h0M517.7 478.7h0M517.8 580.2h0M511.9 613.7h0M497.6 594.1h0M506.1 559.4h0M502.6 593.7h0M515.7 497.4h0M500.3 451.7h0M506.3 401.1h0M506.7 518.4h0M503.7 572.3h0M516.6 605.8h0M508.1 623.3h0M512.5 615.7h0M505.8 554.5h0" stroke="#222" stroke-width="1.90" stroke-linecap="round" fill="none" stroke-opacity="0.38"/><path d="M504.9 693.1h0M500.6 689.1h0M518.4 693.1h0M498.9 693.3h0M515.4 686.3h0M507.6 691.5h0M512.5 689.4h0M503.1 687.3h0M510.2 686.2h0M514.0 695.8h0M506.9 697.7h0M499.1 697.4h0M503.6 696.1h0M505.5 688.6h0M500.2 689.1h0M513.6 685.4h0M499.4 693.0h0M503.9 700.1h0M508.9 700.8h0M514.8 685.5h0M496.8 699.3h0M500.5 691.9h0M501.9 685.1h0M507.8 700.9h0M503.0 689.3h0M516.7 700.4h0M505.0 691.5h0M496.9 699.0h0M515.7 686.3h0M515.7 695.1h0M503.3 690.2h0M497.2 686.7h0M505.0 697.7h0M508.0 687.2h0M512.1 694.5h0M517.5 695.0h0M508.7 695.6h0M505.0 699.9h0M497.0 699.1h0M500.9 687.5h0M502.6 685.4h0M504.6 699.6h0M517.3 691.4h0M512.3 686.5h0M513.9 691.8h0M516.6 688.3h0M502.3 696.5h0M508.5 698.9h0M507.2 700.6h0M499.9 684.8h0M514.3 698.1h0M503.1 699.6h0M517.5 690.6h0M498.2 695.4h0M500.1 685.0h0M515.2 697.8h0M509.2 697.1h0M498.2 699.1h0M498.0 701.2h0M501.1 699.9h0M502.0 685.5h0M502.0 690.1h0M504.8 688.3h0M508.9 689.3h0M507.7 684.8h0M508.0 692.9h0M499.6 695.6h0M514.0 692.2h0M501.0 693.5h0M509.4 698.6h0M516.2 692.4h0M518.6 698.1h0M505.6 686.4h0M515.5 693.1h0M514.3 687.2h0M517.0 698.3h0M517.3 686.1h0M507.5 690.9h0M510.2 685.2h0M510.1 686.7h0M515.0 693.8h0M498.3 693.3h0M515.3 693.6h0M498.0 686.4h0M515.6 700.5h0M506.7 698.8h0M503.0 697.1h0M507.5 698.2h0M514.9 690.6h0M513.6 700.6h0M504.9 693.0h0M507.9 685.1h0M518.2 689.8h0M512.3 686.9h0M513.4 686.0h0M515.5 685.0h0M517.9 699.7h0M514.0 687.0h0M499.3 688.3h0M505.2 693.5h0M497.6 695.4h0M507.5 700.5h0M507.3 691.1h0M515.1 691.1h0M508.3 699.4h0M513.4 686.0h0M499.1 694.6h0M506.4 691.0h0M508.2 688.9h0M501.1 699.1h0M502.0 694.6h0M515.9 694.3h0M501.4 695.7h0M498.7 695.6h0M516.8 696.1h0M515.0 699.7h0M506.4 692.3h0M505.7 700.1h0M518.2 688.7h0M498.2 688.0h0M507.2 688.1h0M516.7 692.2h0M497.9 698.3h0M507.8 699.4h0M498.2 693.3h0M501.4 699.5h0M504.8 685.9h0M518.3 686.1h0M501.6 687.9h0M498.5 701.5h0M500.1 686.3h0M510.3 689.0h0M518.0 689.3h0M513.4 693.0h0M499.5 697.1h0M502.3 701.0h0M516.8 685.4h0M510.2 692.9h0M504.1 696.9h0M516.8 696.6h0M506.7 699.0h0M508.0 694.3h0M496.9 700.1h0M509.0 690.8h0M516.5 689.4h0M501.7 687.1h0M516.8 700.2h0M513.1 695.8h0M497.8 692.6h0M511.1 687.2h0M511.8 686.0h0M504.8 689.4h0M509.2 685.5h0M506.4 696.8h0M501.9 689.7h0M503.0 693.2h0M515.1 692.1h0M499.7 689.8h0M507.5 697.6h0M499.3 695.4h0M506.0 688.2h0M517.9 695.1h0M504.0 691.2h0M508.8 697.1h0M511.3 687.8h0M498.0 686.4h0M497.6 694.4h0M517.8 693.8h0M503.6 688.6h0M515.3 689.9h0M513.4 694.6h0M499.7 700.6h0M512.3 690.5h0M514.9 698.1h0M505.6 701.5h0M515.7 690.9h0M501.7 688.4h0M515.3 689.4h0M498.6 699.0h0M503.3 687.4h0M497.5 692.3h0M511.8 688.1h0M509.7 689.3h0M502.2 693.6h0M509.1 686.8h0M506.7 684.9h0M514.4 701.1h0M501.6 692.9h0M506.6 686.2h0M497.3 698.5h0M509.5 691.5h0M517.2 697.1h0M518.6 696.5h0M517.7 696.2h0M514.6 686.5h0M508.6 692.7h0M504.4 685.2h0M498.4 700.5h0M509.3 696.1h0M497.6 691.8h0M498.4 691.7h0M508.0 685.9h0M503.2 692.3h0M499.0 687.8h0M497.9 689.3h0M503.5 686.0h0M504.4 685.6h0M497.3 698.4h0M496.9 694.9h0M501.4 698.4h0M517.5 691.1h0M507.2 692.3h0M515.7 693.3h0M505.5 685.6h0M508.2 694.5h0M517.6 688.4h0M497.5 698.0h0M517.1 689.6h0M509.7 697.6h0M499.0 688.8h0M500.9 686.8h0M504.6 685.2h0M499.2 690.9h0M512.0 695.6h0M502.7 695.4h0M509.8 696.0h0M501.0 692.0h0M505.9 698.5h0M498.7 699.3h0M500.0 694.0h0M517.5 687.3h0M496.8 686.7h0M498.0 697.3h0M516.9 695.8h0" stroke="#111" stroke-width="1.90" stroke-linecap="round" fill="none" stroke-opacity="0.55"/><path d="M501.1 692.9h0M508.7 685.7h0M511.8 697.3h0M501.6 700.2h0M499.4 687.6h0M501.6 697.1h0M501.8 687.3h0M502.2 690.9h0M517.6 699.3h0M502.9 685.9h0M502.2 698.9h0M518.1 697.9h0M505.0 698.5h0M507.3 700.5h0M498.9 697.6h0M508.1 699.9h0M507.1 689.0h0M505.5 695.9h0M504.0 695.6h0M502.0 693.4h0M513.6 690.0h0M501.3 686.2h0M514.9 698.5h0M498.9 698.6h0M505.0 694.9h0M506.6 700.6h0M506.0 700.7h0M515.8 697.2h0M498.7 699.6h0M514.5 697.5h0M504.8 696.4h0M503.2 691.2h0M498.6 693.8h0M503.3 690.7h0M497.0 695.7h0M503.7 685.4h0M502.1 698.9h0M510.3 700.8h0M504.2 690.2h0M518.6 686.2h0M505.7 690.2h0M517.2 687.4h0M503.9 688.9h0M515.3 697.9h0M505.0 695.5h0M515.0 689.3h0M501.5 692.1h0M503.2 695.5h0M515.9 690.9h0M503.7 684.8h0M509.5 700.3h0M514.6 687.6h0M511.5 695.1h0M507.4 697.5h0M511.0 696.6h0M496.9 695.4h0M506.2 693.0h0M498.0 690.3h0M510.4 689.8h0M503.0 692.5h0M515.5 687.0h0M511.9 698.0h0M504.7 692.4h0M509.4 693.3h0M497.0 691.9h0M499.5 687.0h0M500.8 693.7h0M515.7 700.4h0M508.5 700.7h0M518.5 695.4h0M514.7 692.3h0M508.3 700.1h0M515.5 689.7h0M499.0 693.8h0M498.0 692.9h0M504.3 695.7h0M501.4 692.6h0M503.9 697.8h0M505.9 696.6h0M513.2 697.6h0M512.1 689.0h0M515.7 688.7h0M517.2 699.6h0M503.5 684.9h0M516.1 697.6h0M506.2 687.2h0M503.5 699.3h0M502.8 694.4h0M497.6 700.3h0M500.1 685.9h0M500.9 700.8h0M508.6 695.5h0M497.5 689.9h0M497.6 685.8h0M497.8 690.4h0M507.8 695.0h0M509.0 694.2h0M518.3 698.0h0M509.5 693.8h0M498.5 694.4h0M507.7 691.7h0M499.2 699.1h0M509.5 685.9h0M501.4 685.2h0M497.5 691.7h0M514.0 701.1h0M500.8 698.5h0M498.7 693.4h0M511.9 691.5h0M507.0 698.1h0M514.9 693.2h0M507.0 687.2h0M514.0 696.7h0M517.0 700.0h0M511.3 698.4h0M511.2 701.4h0M516.3 698.5h0M513.0 699.0h0M507.9 686.5h0M502.5 700.3h0M496.9 689.3h0M514.4 699.4h0M502.5 689.9h0M506.4 699.7h0M498.1 697.6h0M512.5 696.0h0M504.6 695.5h0M517.3 691.6h0M514.9 699.1h0M508.0 692.2h0M512.0 693.4h0M496.7 685.3h0M515.1 689.8h0M508.9 694.1h0M499.1 694.9h0M508.5 698.3h0M503.8 698.8h0M508.5 685.6h0M498.4 690.9h0M506.3 695.7h0M503.2 691.6h0M508.3 690.4h0M512.6 694.6h0M514.0 688.9h0M497.6 700.1h0M514.4 694.2h0M508.9 699.6h0M513.0 687.2h0M507.9 691.5h0M518.0 686.6h0M509.6 685.4h0M504.5 688.6h0M503.8 699.4h0M516.4 690.9h0M497.0 687.3h0M515.2 697.9h0M513.4 687.8h0M515.8 686.6h0M510.1 699.7h0M499.4 688.0h0M513.2 696.6h0M518.4 690.6h0M518.1 698.1h0M501.4 688.0h0M500.0 692.7h0M517.7 693.9h0M513.0 694.7h0M502.0 696.3h0M503.1 687.6h0M507.1 691.5h0M505.3 693.1h0M503.6 686.2h0M501.6 696.2h0M512.4 688.9h0M516.2 701.2h0M512.8 691.2h0M518.3 698.9h0M501.3 687.3h0M498.1 690.4h0M496.7 696.7h0M499.4 689.2h0M512.1 699.6h0M500.1 692.5h0M504.6 694.0h0M499.5 694.6h0M517.9 698.4h0M515.5 688.2h0M498.5 697.9h0M512.2 693.2h0M515.3 696.5h0M514.5 699.1h0M513.8 688.6h0M505.5 685.4h0M516.5 696.8h0M509.7 686.3h0M514.4 698.6h0M500.6 695.2h0M499.2 685.9h0M501.9 692.8h0M512.4 688.2h0M508.8 701.1h0M502.2 701.2h0M497.9 695.0h0M509.3 696.9h0M502.0 697.7h0M499.3 686.8h0M518.0 700.4h0M511.0 696.1h0M508.2 694.5h0M504.0 688.9h0M501.8 692.0h0M507.3 689.7h0M496.8 686.6h0M502.4 689.2h0M508.3 699.1h0M504.0 688.9h0M509.6 690.4h0M515.4 695.5h0M503.8 688.2h0M504.0 689.8h0M511.9 698.5h0M516.3 694.5h0M509.8 689.0h0M510.0 691.2h0M500.5 688.3h0M518.3 700.1h0M513.5 697.4h0M506.4 694.5h0M512.5 685.5h0M512.0 685.2h0M501.0 700.7h0M499.0 691.2h0M500.9 685.9h0" stroke="#111" stroke-width="1.90" stroke-linecap="round" fill="none" stroke-opacity="0.55"/><path d="M501.8 693.4h0M507.0 687.0h0M498.2 688.7h0M515.9 695.4h0M512.0 698.2h0M496.8 694.9h0M502.9 699.8h0M516.7 690.7h0M496.9 698.0h0M497.8 696.2h0M513.8 686.9h0M515.8 698.8h0M500.0 685.5h0M498.5 684.9h0M503.8 690.6h0M512.0 687.8h0M515.0 700.0h0M501.8 691.6h0M510.4 688.1h0M501.4 689.9h0M517.7 700.3h0M498.7 695.9h0M501.0 694.5h0M497.7 689.1h0M507.1 701.0h0M511.6 693.8h0M515.1 691.8h0M508.4 693.2h0M499.5 701.1h0M503.9 699.3h0M509.6 691.1h0M502.4 696.6h0M513.9 699.6h0M507.4 693.4h0M497.3 700.7h0M498.6 701.2h0M505.3 695.3h0M505.1 692.8h0M498.6 688.5h0M517.8 685.2h0M500.7 691.8h0M513.7 694.2h0M516.7 686.5h0M499.8 699.8h0M518.4 696.2h0M499.8 692.5h0M516.9 696.4h0M505.0 688.8h0M499.0 700.0h0M517.6 694.4h0M507.0 690.4h0M506.9 699.4h0M502.3 693.0h0M506.3 699.7h0M514.5 687.6h0M508.9 688.7h0M506.5 700.7h0M515.1 688.1h0M504.1 691.4h0M499.3 693.8h0M512.5 691.5h0M518.4 696.4h0M501.3 688.4h0M500.8 689.5h0M501.2 696.2h0M504.8 686.0h0M515.8 685.3h0M507.2 689.1h0M506.8 689.3h0M498.2 698.0h0M511.0 690.0h0M505.6 700.8h0M518.1 692.3h0M512.3 696.1h0M512.1 688.5h0M514.8 698.5h0M499.3 686.5h0M509.5 695.6h0M507.2 695.7h0M515.2 688.1h0M513.3 700.2h0M508.6 689.1h0M498.3 694.9h0M518.4 701.2h0M504.9 685.3h0M500.9 695.3h0M509.4 690.4h0M509.5 688.7h0M515.0 698.9h0M513.3 690.6h0M501.4 699.2h0M508.0 696.2h0M508.8 695.1h0M513.7 690.5h0M508.5 699.3h0M515.0 697.8h0M500.5 694.7h0M517.5 700.2h0M497.6 693.9h0M509.3 693.7h0M508.9 697.6h0M508.3 701.3h0M503.1 694.3h0M501.9 691.4h0M498.7 695.3h0M504.6 689.3h0M512.3 688.5h0M504.8 691.3h0M504.6 693.7h0M510.1 685.1h0M496.9 694.9h0M513.1 688.6h0M500.3 686.0h0M499.8 690.4h0M518.6 692.2h0M509.8 688.1h0M513.8 692.7h0M508.3 700.9h0M497.1 692.7h0M512.2 699.0h0M512.5 690.9h0M498.3 689.9h0M501.3 696.3h0M513.8 693.0h0M511.3 698.9h0M497.2 700.4h0M502.9 695.7h0M517.7 697.2h0M514.6 697.1h0M513.7 684.9h0M500.2 693.7h0M502.5 688.9h0M517.8 693.7h0M500.4 693.2h0M497.1 688.1h0M505.3 685.7h0M508.2 685.3h0M507.6 698.9h0M500.6 692.9h0M498.0 696.8h0M505.7 699.4h0M518.3 695.8h0M498.4 688.0h0M512.3 687.6h0M502.0 687.2h0M500.5 700.0h0M511.3 697.1h0M513.2 691.9h0M503.1 684.8h0M513.4 699.6h0M515.5 696.7h0M499.0 686.8h0M514.5 690.1h0M508.5 701.1h0M508.4 696.2h0M518.4 691.5h0M507.8 686.1h0M509.8 691.5h0M505.5 693.6h0M512.1 691.7h0M507.3 694.9h0M514.7 698.7h0M509.8 689.1h0M506.7 695.0h0M512.1 689.7h0M496.8 701.4h0M502.9 698.0h0M508.4 693.2h0M508.1 699.7h0M506.3 695.5h0M504.6 686.5h0M511.3 693.3h0M496.8 696.9h0M516.4 697.4h0M501.7 700.2h0M510.8 688.6h0M502.1 700.3h0M497.5 684.9h0M498.6 691.1h0M516.2 689.0h0M518.0 695.2h0M499.4 688.6h0M517.1 701.2h0M500.3 688.2h0M518.2 689.1h0M507.6 698.1h0M501.4 690.2h0M498.8 686.5h0M498.7 687.4h0M499.9 692.3h0M509.2 699.3h0M509.8 685.9h0M503.2 700.6h0M512.6 700.2h0M510.6 688.9h0M515.9 699.2h0M512.8 688.4h0M500.8 684.9h0M500.9 698.3h0M514.1 691.4h0M505.3 697.5h0M507.0 689.7h0M514.8 699.4h0M505.4 701.4h0M509.1 685.4h0M518.1 699.9h0M510.0 687.4h0M503.7 701.4h0M518.3 695.7h0M516.5 685.7h0M513.8 686.0h0M514.9 686.3h0M501.2 687.2h0M499.9 686.9h0M515.1 695.5h0M505.7 695.9h0M498.6 686.0h0M514.7 697.2h0M508.6 688.1h0M505.6 693.3h0M501.7 696.2h0M514.7 690.2h0M508.9 700.4h0M517.2 694.2h0M513.8 696.3h0M511.6 696.1h0M514.3 688.8h0M515.3 691.8h0M514.4 701.2h0M503.3 693.7h0M517.3 685.7h0M500.6 701.2h0M507.5 684.8h0" stroke="#111" stroke-width="1.90" stroke-linecap="round" fill="none" stroke-opacity="0.55"/><rect x="370.9" y="535.2" width="23.5" height="112.9" fill="#31209a" stroke="#333" stroke-width="0.9"/><rect x="402.1" y="537.4" width="23.5" height="89.1" fill="#2e8638" stroke="#333" stroke-width="0.9"/><rect x="433.4" y="565.8" width="23.5" height="100.7" fill="#a846aa" stroke="#333" stroke-width="0.9"/><rect x="464.6" y="575.5" width="23.5" height="100.1" fill="#28646c" stroke="#333" stroke-width="0.9"/><rect x="495.9" y="624.4" width="23.5" height="60.4" fill="#9a9d2c" stroke="#333" stroke-width="0.9"/><path d="M377.7 609.6h0M373.0 568.2h0M373.0 607.8h0M378.0 595.2h0M381.6 609.7h0M388.2 586.1h0M376.7 610.2h0M388.5 572.6h0M377.7 630.7h0M387.2 574.9h0M382.4 633.5h0M386.1 631.1h0M388.3 585.1h0M391.1 597.6h0M377.2 617.5h0M382.1 593.1h0M388.9 603.0h0M376.8 558.0h0M389.0 599.3h0M377.6 601.2h0M387.5 641.9h0M378.7 566.0h0M384.2 568.5h0M386.8 646.5h0M380.1 561.2h0M385.2 595.0h0M373.8 631.0h0M385.6 555.8h0M390.9 612.3h0M392.3 631.4h0M391.8 611.7h0M377.8 572.5h0M383.5 613.1h0M372.2 592.7h0M375.3 581.8h0M374.1 595.9h0M378.1 604.0h0M373.2 643.0h0M380.4 606.9h0M390.1 582.1h0M386.5 646.0h0M374.8 622.0h0M386.6 640.2h0M382.0 631.0h0M391.8 631.0h0M390.6 564.6h0M378.3 538.0h0M373.8 569.0h0M376.6 556.8h0M376.1 567.3h0M389.4 631.2h0M373.8 618.4h0M379.6 605.9h0M392.8 565.9h0M379.2 613.1h0M372.5 596.5h0M389.0 647.2h0M389.3 630.6h0M388.2 630.0h0M384.2 571.4h0M384.5 624.4h0M371.8 569.6h0M392.5 551.2h0M388.2 616.1h0M389.1 624.0h0M372.7 597.5h0M383.6 630.6h0M381.8 538.1h0M381.1 593.2h0M390.7 621.2h0M388.4 574.7h0M376.0 553.6h0M388.0 636.3h0M372.2 639.6h0M386.2 593.1h0M392.3 620.5h0M391.9 630.8h0M375.7 639.1h0M383.9 542.0h0M391.5 559.2h0M383.3 591.6h0M393.1 562.6h0M372.8 642.3h0M393.3 541.7h0M376.0 582.0h0M380.8 561.4h0M383.2 600.8h0M376.9 602.0h0M375.2 535.8h0M382.2 624.0h0M389.1 613.9h0M386.8 597.1h0M378.6 559.3h0M381.0 591.9h0M378.7 610.3h0M373.9 602.7h0M390.8 549.1h0M393.0 597.0h0M392.2 536.3h0M391.2 584.6h0M379.1 549.9h0M391.7 566.3h0M374.1 580.8h0M385.8 621.1h0M382.3 584.9h0M390.2 541.6h0M387.5 566.0h0M388.8 588.6h0M383.2 582.8h0M380.4 537.7h0M382.6 616.1h0M392.5 620.0h0M392.5 549.0h0M392.8 540.3h0M393.2 636.7h0M390.5 638.2h0M373.9 574.0h0M386.4 552.0h0M389.5 638.0h0M374.2 624.0h0M373.4 544.3h0M388.3 636.8h0M378.6 609.7h0M388.2 606.9h0M390.2 540.6h0M374.2 590.0h0M391.9 540.4h0M386.5 539.7h0M383.8 635.1h0M372.4 592.9h0" stroke="#111" stroke-width="1.90" stroke-linecap="round" fill="none" stroke-opacity="0.45"/><path d="M383.5 568.1h0M382.9 621.3h0M375.0 584.2h0M371.9 635.5h0M379.5 572.2h0M377.3 567.9h0M373.1 604.4h0M376.1 628.5h0M381.8 641.1h0M387.5 540.3h0M393.1 574.6h0M383.1 636.7h0M391.7 637.7h0M374.8 541.5h0M375.4 538.8h0M382.3 579.4h0M383.8 610.4h0M388.9 632.0h0M375.1 634.8h0M393.3 569.4h0M376.6 576.6h0M372.4 551.0h0M378.7 614.3h0M375.3 576.1h0M388.2 603.6h0M379.2 622.1h0M392.3 618.0h0M378.1 625.0h0M373.2 570.5h0M376.7 632.8h0M378.7 632.2h0M380.8 568.3h0M380.1 575.6h0M385.1 592.1h0M387.5 536.0h0M376.4 610.8h0M385.3 594.6h0M384.6 630.4h0M380.0 591.3h0M383.3 535.8h0M381.2 593.5h0M381.8 568.2h0M387.0 542.4h0M372.2 616.4h0M393.6 643.4h0M378.2 636.0h0M378.6 615.1h0M378.2 581.8h0M380.3 558.8h0M384.7 595.0h0M390.1 623.2h0M387.5 553.6h0M389.9 632.2h0M392.7 627.8h0M388.7 630.6h0M378.0 568.4h0M389.1 609.8h0M384.1 570.4h0M381.0 612.7h0M391.3 594.1h0M386.6 554.9h0M388.0 636.1h0M391.3 583.7h0M383.0 543.6h0M379.6 602.5h0M385.2 626.2h0M390.6 579.6h0M388.9 557.3h0M376.9 566.9h0M372.6 578.6h0M378.9 580.5h0M390.2 582.0h0M376.7 613.1h0M376.6 561.6h0M380.2 597.7h0M389.4 615.6h0M376.2 572.9h0M389.1 590.8h0M374.7 556.8h0M388.4 634.1h0M387.7 574.0h0M387.1 616.4h0M387.5 580.2h0M375.9 575.5h0M373.4 569.4h0M386.5 600.3h0M384.3 608.4h0M375.5 555.0h0M389.0 552.9h0M376.0 636.1h0M378.6 550.4h0M373.1 639.7h0M383.4 615.3h0M374.0 552.7h0M377.7 630.6h0M387.3 542.9h0M372.5 542.4h0M378.6 591.1h0M392.0 558.6h0M383.4 609.2h0M391.4 638.8h0M385.9 623.2h0M377.0 577.8h0M385.6 552.9h0M392.1 540.2h0M377.8 543.0h0M385.4 592.8h0M388.5 569.6h0M375.8 576.5h0M382.6 547.3h0M387.8 538.6h0M390.8 544.8h0M373.3 580.8h0M388.2 596.6h0M385.1 624.9h0M390.8 543.2h0M381.5 642.3h0M376.7 626.8h0M374.4 580.2h0M387.4 581.3h0M386.7 605.0h0M390.5 537.9h0M382.8 551.0h0M389.7 647.6h0M393.6 557.0h0M393.5 577.8h0M374.8 553.7h0M393.2 580.4h0M378.9 551.6h0M374.6 642.5h0" stroke="#111" stroke-width="1.90" stroke-linecap="round" fill="none" stroke-opacity="0.45"/><line x1="370.9" y1="598.4" x2="394.4" y2="598.4" stroke="#333" stroke-width="1.4"/><path d="M405.1 603.7h0M406.7 607.8h0M404.8 580.3h0M419.5 613.7h0M416.0 570.4h0" stroke="#111" stroke-width="1.90" stroke-linecap="round" fill="none" stroke-opacity="0.45"/><path d="M414.2 542.8h0M417.4 606.0h0M419.2 601.2h0M423.1 581.6h0M409.4 565.2h0" stroke="#111" stroke-width="1.90" stroke-linecap="round" fill="none" stroke-opacity="0.45"/><line x1="402.1" y1="595.4" x2="425.6" y2="595.4" stroke="#333" stroke-width="1.4"/><path d="M437.1 661.0h0M436.8 634.0h0M455.2 610.5h0M454.1 581.3h0" stroke="#111" stroke-width="1.90" stroke-linecap="round" fill="none" stroke-opacity="0.45"/><path d="M442.2 588.9h0M440.4 655.8h0M436.8 621.3h0M442.9 648.8h0" stroke="#111" stroke-width="1.90" stroke-linecap="round" fill="none" stroke-opacity="0.45"/><line x1="433.4" y1="611.5" x2="456.9" y2="611.5" stroke="#333" stroke-width="1.4"/><path d="M483.0 635.7h0M472.3 637.5h0M484.4 673.5h0M477.6 641.0h0M486.7 645.6h0M486.2 660.1h0M477.0 605.4h0M484.3 666.5h0M474.4 616.1h0M482.9 589.1h0M472.0 655.4h0M485.6 672.4h0M486.7 659.7h0M483.7 667.9h0M480.4 577.7h0M482.1 602.1h0M482.0 629.9h0M486.4 608.9h0M471.7 607.1h0M479.7 624.9h0M467.1 609.9h0M477.4 642.2h0M481.4 660.8h0M482.1 623.7h0M479.0 635.9h0M483.2 636.6h0M477.0 585.3h0M479.0 597.5h0M476.2 633.3h0M472.5 596.6h0M473.1 575.5h0M472.5 603.5h0M480.8 626.8h0M478.8 599.6h0M476.6 645.2h0M474.6 641.7h0M485.6 596.0h0M486.7 583.6h0M478.3 663.5h0M484.6 633.0h0M475.6 589.1h0M480.4 659.7h0M481.5 660.6h0M482.3 608.1h0M481.6 611.4h0M472.7 649.4h0M469.4 633.3h0M469.3 674.3h0M476.1 611.4h0M484.5 628.2h0M477.6 639.7h0M473.0 627.1h0M477.8 655.7h0M473.7 598.2h0M472.2 650.3h0M465.7 608.2h0M475.2 665.7h0M486.3 641.9h0M466.9 667.6h0M470.2 577.2h0M470.1 585.6h0M469.2 616.6h0M475.0 604.3h0M481.0 657.3h0M466.5 590.6h0M468.1 605.1h0M470.6 594.8h0M483.2 655.4h0M472.4 668.2h0M473.1 629.2h0M470.7 645.2h0M481.4 610.0h0M483.5 602.0h0M476.2 633.5h0M476.0 632.8h0" stroke="#111" stroke-width="1.90" stroke-linecap="round" fill="none" stroke-opacity="0.45"/><path d="M472.1 591.5h0M470.1 598.3h0M485.5 583.1h0M478.7 671.0h0M466.3 610.4h0M485.7 647.8h0M483.1 644.1h0M485.2 613.6h0M475.4 670.2h0M475.9 584.5h0M477.4 589.3h0M474.8 660.6h0M465.7 635.7h0M476.5 664.0h0M484.9 619.1h0M481.2 639.5h0M467.9 661.6h0M481.2 591.0h0M477.2 633.0h0M474.4 662.7h0M486.3 620.6h0M466.3 631.9h0M477.0 656.0h0M474.0 599.5h0M484.5 607.6h0M484.3 616.6h0M487.1 582.5h0M481.1 635.3h0M485.0 635.8h0M468.6 649.7h0M476.9 656.1h0M482.8 616.6h0M474.0 600.1h0M471.5 656.9h0M465.7 668.3h0M472.7 666.2h0M471.1 661.1h0M480.9 638.8h0M485.6 577.1h0M474.7 617.7h0M482.2 584.6h0M478.7 670.5h0M484.7 602.0h0M484.2 667.0h0M480.0 649.7h0M485.4 662.5h0M484.2 576.0h0M483.0 591.8h0M480.1 607.1h0M486.1 598.1h0M467.8 660.8h0M485.0 667.4h0M473.2 626.8h0M486.6 621.8h0M478.5 664.8h0M479.0 579.2h0M483.6 618.0h0M472.1 661.2h0M483.4 652.8h0M468.7 618.1h0M482.4 628.8h0M469.4 610.7h0M482.1 649.3h0M469.3 584.1h0M475.7 672.0h0M468.9 649.0h0M486.4 656.2h0M481.8 595.1h0M487.2 609.8h0M477.8 602.8h0M474.2 608.4h0M476.6 630.3h0M475.9 668.6h0M476.9 635.6h0M480.4 641.3h0" stroke="#111" stroke-width="1.90" stroke-linecap="round" fill="none" stroke-opacity="0.45"/><line x1="464.6" y1="635.9" x2="488.1" y2="635.9" stroke="#333" stroke-width="1.4"/><path d="M500.6 644.3h0M515.5 627.9h0M503.5 624.4h0M509.0 666.3h0M497.6 675.5h0M508.0 639.7h0M506.4 634.6h0M506.0 628.0h0M513.0 630.4h0M498.7 635.4h0M504.9 640.4h0M501.3 671.5h0M512.7 678.6h0M512.4 672.0h0M497.6 663.9h0M504.8 670.6h0M506.4 674.6h0M512.7 644.1h0M506.5 624.7h0M500.3 662.0h0M514.7 671.3h0M499.6 679.3h0M497.7 658.5h0M504.8 654.3h0M513.7 681.8h0M505.6 643.8h0M504.8 672.3h0M506.0 676.7h0M506.2 647.5h0M505.5 684.6h0M507.1 646.8h0M512.4 655.8h0M512.1 681.2h0M503.2 670.4h0M513.0 658.5h0M511.5 667.8h0M500.4 639.1h0M506.9 628.1h0M498.5 680.2h0M509.8 630.1h0M497.4 674.1h0M515.0 656.9h0M500.0 633.4h0M497.6 667.3h0M497.5 664.7h0M508.6 674.7h0M514.8 636.8h0M514.7 640.6h0M501.6 668.8h0M500.9 678.1h0M513.4 680.7h0M510.5 676.3h0M498.0 661.5h0M502.0 650.6h0M513.2 643.5h0M517.9 682.1h0M512.4 666.6h0M510.9 674.3h0M503.0 658.5h0M505.9 646.9h0M507.8 663.1h0M511.8 662.3h0M511.3 653.1h0M508.3 669.9h0M501.9 628.8h0M517.0 624.7h0M518.3 648.2h0M507.8 653.5h0M517.8 625.5h0M497.5 639.5h0M504.0 641.2h0M509.3 632.4h0M506.5 642.0h0M517.7 672.7h0M509.1 652.5h0M506.1 665.7h0M508.3 662.8h0M508.0 683.3h0M508.5 627.5h0M517.5 634.7h0M512.6 643.9h0M501.8 645.1h0M508.3 639.0h0M509.8 666.0h0M507.8 659.9h0M504.3 679.4h0M511.8 673.6h0M503.3 638.3h0M508.8 675.2h0M501.8 672.1h0M515.8 651.2h0M514.0 665.3h0M508.1 655.1h0M506.4 667.4h0M506.1 671.9h0M505.5 655.6h0M503.8 638.6h0M505.4 671.4h0M511.9 668.2h0M500.9 671.1h0M508.3 671.1h0M506.6 681.5h0M511.1 674.5h0M498.0 648.7h0M497.3 682.2h0M499.3 659.5h0M515.0 663.9h0M506.9 677.2h0M508.7 658.4h0M500.4 646.2h0M498.0 646.4h0M500.6 638.9h0M508.0 640.8h0M514.2 669.5h0M504.0 637.2h0M511.9 679.7h0M506.8 645.6h0M510.1 645.2h0M497.6 643.6h0M518.3 661.8h0M507.6 629.8h0M514.1 660.0h0M509.9 661.0h0M513.8 648.4h0M505.9 649.5h0M511.8 650.6h0M514.4 654.3h0M511.7 673.7h0M508.5 624.5h0M505.9 669.9h0M500.6 637.2h0M513.9 645.8h0M504.5 649.8h0M516.7 655.1h0M506.4 629.8h0M498.7 652.8h0M512.9 678.0h0M507.8 641.8h0M498.2 633.2h0M496.8 629.7h0M508.2 662.2h0M499.2 676.7h0M518.4 657.0h0M518.4 664.2h0M509.7 668.0h0M498.3 658.6h0M509.8 657.6h0M509.4 631.7h0M503.1 639.1h0M504.1 678.6h0M505.5 628.5h0M508.6 636.2h0M500.7 659.4h0M497.0 656.2h0M500.3 682.3h0M498.5 671.4h0M511.7 665.5h0M515.6 664.7h0M512.0 638.1h0M502.6 652.6h0M517.4 659.7h0M504.6 659.0h0M505.9 662.4h0M497.6 664.9h0M508.4 638.0h0M509.0 684.1h0M511.0 648.1h0M499.6 680.6h0M498.6 629.0h0M503.1 683.4h0M510.3 631.4h0M505.2 630.2h0M506.5 639.2h0M515.3 666.4h0M502.2 655.6h0M503.9 652.9h0M500.2 669.7h0M505.8 651.1h0M514.5 649.2h0M510.0 667.5h0M504.2 638.4h0M498.7 669.6h0M498.2 655.8h0M515.4 636.7h0M504.6 645.4h0M517.4 666.9h0M500.5 677.1h0M498.6 624.6h0M513.5 681.3h0M507.7 683.5h0M499.7 636.1h0M509.2 642.6h0M511.8 648.7h0M501.6 659.3h0M502.5 674.7h0M508.3 670.9h0M516.2 664.0h0M504.9 673.7h0M515.2 638.6h0M511.3 673.9h0M510.3 663.4h0M510.9 669.5h0M496.9 677.4h0M499.2 665.9h0M505.2 627.5h0M507.9 651.0h0M514.0 677.3h0M507.9 628.5h0M513.7 680.6h0M507.9 665.5h0M515.2 654.9h0M517.9 676.8h0M500.3 659.0h0M500.6 653.4h0M499.1 681.0h0M516.3 654.0h0M508.7 668.1h0M501.5 682.5h0M508.0 677.2h0M501.7 631.4h0M517.2 650.2h0M516.6 639.5h0M506.2 640.0h0M506.0 635.9h0M499.2 666.7h0M508.1 658.1h0M499.7 639.7h0M503.0 652.7h0M513.6 670.9h0M510.5 630.6h0M497.2 675.5h0M497.1 679.1h0M504.9 675.0h0M508.6 637.7h0M499.2 679.4h0M498.9 634.2h0M518.6 646.5h0M505.8 632.6h0M506.9 667.5h0M510.0 643.4h0M510.0 644.9h0M515.9 671.3h0M501.5 653.9h0M508.8 654.4h0M510.2 664.9h0M517.0 664.1h0M505.6 658.2h0M508.6 644.3h0M510.1 660.3h0M505.4 650.5h0" stroke="#111" stroke-width="1.90" stroke-linecap="round" fill="none" stroke-opacity="0.45"/><path d="M506.3 658.0h0M497.2 660.3h0M515.7 654.3h0M509.1 658.2h0M499.0 631.1h0M515.3 658.2h0M513.4 684.0h0M496.9 684.5h0M504.2 678.6h0M508.6 680.7h0M498.9 668.6h0M502.9 639.3h0M514.8 677.1h0M511.3 665.1h0M511.6 660.0h0M510.3 632.2h0M507.7 653.2h0M511.1 658.8h0M513.6 654.0h0M501.1 679.5h0M501.6 660.9h0M510.8 645.7h0M501.8 642.0h0M516.6 677.4h0M503.9 683.8h0M509.8 666.7h0M504.3 646.6h0M507.1 625.8h0M503.2 644.0h0M499.5 657.9h0M503.1 628.7h0M513.3 655.2h0M508.0 639.8h0M506.2 624.5h0M501.8 634.5h0M518.5 656.4h0M511.3 681.5h0M508.0 678.3h0M503.9 638.1h0M498.5 656.5h0M505.7 656.8h0M514.6 658.9h0M500.7 631.6h0M510.5 654.3h0M518.0 632.8h0M498.8 671.0h0M499.2 678.3h0M504.6 641.4h0M513.8 658.3h0M512.0 642.8h0M501.5 677.4h0M502.5 658.8h0M517.3 628.8h0M506.6 639.1h0M499.1 664.0h0M513.9 625.6h0M508.6 653.6h0M514.1 627.9h0M516.3 672.2h0M503.5 628.6h0M518.0 665.3h0M503.1 658.2h0M517.3 635.9h0M516.4 652.2h0M505.7 663.8h0M507.0 626.9h0M502.5 675.4h0M513.3 676.9h0M499.0 653.2h0M499.6 663.2h0M505.1 640.1h0M500.9 665.7h0M506.7 656.8h0M497.2 651.3h0M512.7 657.8h0M500.8 659.4h0M501.5 646.9h0M504.6 663.2h0M501.8 657.3h0M511.1 653.2h0M516.0 638.7h0M515.8 667.9h0M497.2 670.1h0M514.7 673.7h0M500.6 634.0h0M503.2 639.3h0M506.0 670.9h0M501.9 684.0h0M507.7 655.7h0M515.6 678.5h0M511.2 641.6h0M499.0 670.9h0M508.3 673.9h0M497.3 642.5h0M518.3 660.4h0M499.8 678.6h0M517.8 658.9h0M498.2 636.3h0M505.8 628.3h0M505.5 639.8h0M497.3 652.4h0M510.7 674.5h0M508.6 629.1h0M503.7 657.1h0M515.4 659.9h0M510.8 682.9h0M502.1 633.7h0M500.8 641.5h0M512.9 664.7h0M501.4 668.0h0M511.5 632.5h0M502.6 654.6h0M499.0 659.6h0M497.9 656.4h0M507.4 642.3h0M511.3 660.8h0M505.8 680.1h0M517.7 627.1h0M498.8 641.5h0M515.3 641.4h0M503.1 665.3h0M499.3 649.8h0M502.4 666.4h0M499.1 628.8h0M518.0 663.7h0M510.2 659.7h0M506.2 647.7h0M503.9 665.6h0M516.0 659.8h0M513.2 661.9h0M512.4 663.9h0M509.6 627.9h0M509.6 663.1h0M507.0 682.9h0M497.0 646.2h0M512.8 681.5h0M504.1 668.0h0M510.6 656.1h0M507.0 630.2h0M511.5 657.7h0M502.2 648.9h0M510.2 627.3h0M514.0 664.1h0M502.6 662.3h0M500.5 633.9h0M503.7 652.2h0M503.0 683.6h0M508.1 643.9h0M503.2 642.0h0M512.1 627.1h0M516.7 633.2h0M510.1 631.2h0M500.9 665.1h0M507.5 657.1h0M518.4 656.3h0M513.3 679.7h0M516.9 673.2h0M517.9 636.8h0M501.3 628.4h0M505.0 676.0h0M514.3 665.5h0M500.9 680.5h0M508.0 680.4h0M502.8 680.9h0M507.6 625.5h0M507.2 644.9h0M498.8 642.7h0M497.4 651.8h0M502.0 654.4h0M517.5 666.3h0M513.7 676.4h0M504.7 644.6h0M511.3 661.4h0M503.7 642.7h0M513.1 671.1h0M510.3 676.0h0M504.2 636.2h0M500.3 641.1h0M514.4 649.0h0M497.2 649.3h0M507.3 671.6h0M510.6 651.4h0M504.7 624.6h0M501.8 631.4h0M514.7 670.8h0M510.8 628.7h0M514.0 650.8h0M514.0 638.4h0M500.4 682.5h0M498.3 627.7h0M509.1 663.5h0M504.1 653.0h0M504.0 664.7h0M496.8 670.3h0M498.4 661.3h0M505.5 635.5h0M497.6 674.8h0M501.6 645.5h0M508.4 653.9h0M501.8 642.3h0M500.2 664.6h0M511.9 626.3h0M512.5 638.1h0M515.5 672.7h0M506.3 630.7h0M507.8 654.5h0M502.8 633.9h0M518.5 671.7h0M510.9 667.0h0M500.5 646.3h0M507.9 662.8h0M515.9 666.0h0M509.5 680.5h0M501.5 632.9h0M518.0 640.6h0M505.5 646.7h0M500.7 629.9h0M505.9 666.6h0M507.1 665.5h0M501.1 635.7h0M512.0 632.9h0M503.9 670.2h0M511.6 663.2h0M514.1 652.6h0M502.9 657.3h0M518.3 632.7h0M508.0 679.5h0M505.4 637.4h0M496.7 667.8h0M516.7 664.7h0M508.3 628.3h0M503.6 632.2h0M499.6 631.8h0M507.0 672.2h0M499.4 659.7h0M516.7 645.3h0M515.8 638.6h0M511.0 649.5h0M500.6 670.8h0M502.2 660.7h0M506.2 664.3h0M511.5 656.9h0M518.4 678.1h0M502.4 679.5h0M510.1 657.7h0M510.5 649.0h0M506.0 644.7h0M517.6 656.9h0M506.5 684.0h0M498.4 644.4h0" stroke="#111" stroke-width="1.90" stroke-linecap="round" fill="none" stroke-opacity="0.45"/><line x1="495.9" y1="660.4" x2="519.4" y2="660.4" stroke="#333" stroke-width="1.4"/><path d="M476.4 397.7h0M476.4 407.2h0M476.4 412.2h0M476.4 414.8h0M476.4 417.4h0M476.4 420.0h0M476.4 422.7h0" stroke="#1a1a1a" stroke-width="4.00" stroke-linecap="round" fill="none"/><path d="M507.6 396.0h0M507.6 404.5h0M507.6 407.0h0M507.6 414.5h0M507.6 418.0h0M507.6 424.5h0M507.6 431.0h0M507.6 437.0h0M507.6 438.5h0M507.6 440.5h0M507.6 441.9h0M507.6 443.5h0M507.6 445.2h0M507.6 447.2h0M507.6 448.3h0M507.6 450.0h0M507.6 452.0h0M507.6 453.5h0M507.6 454.8h0M507.6 456.2h0M507.6 457.4h0M507.6 458.3h0M507.6 459.6h0M507.6 460.5h0M507.6 461.9h0M507.6 463.3h0M507.6 464.2h0M507.6 465.7h0M507.6 467.3h0M507.6 468.5h0M507.6 469.7h0M507.6 471.0h0M507.6 473.0h0M507.6 474.2h0M507.6 475.5h0M507.6 476.5h0M507.6 478.3h0M507.6 479.8h0M507.6 481.1h0M507.6 482.3h0M507.6 483.8h0M507.6 484.8h0M507.6 486.0h0M507.6 487.2h0M507.6 488.9h0M507.6 490.7h0M507.6 492.2h0M507.6 493.3h0M507.6 494.3h0M507.6 495.3h0M507.6 496.8h0M507.6 498.5h0M507.6 499.8h0M507.6 501.1h0M507.6 503.0h0M507.6 504.3h0M507.6 505.5h0M507.6 507.1h0M507.6 508.0h0M507.6 509.9h0M507.6 511.5h0M507.6 513.5h0M507.6 514.9h0M507.6 516.5h0M507.6 517.9h0M507.6 519.5h0M507.6 520.6h0M507.6 522.3h0M507.6 523.2h0M507.6 524.8h0M507.6 525.8h0M507.6 527.5h0M507.6 529.3h0M507.6 530.2h0" stroke="#1a1a1a" stroke-width="4.00" stroke-linecap="round" fill="none"/></g><rect x="270.2" y="395.4" width="255.6" height="335.0" fill="none" stroke="#333" stroke-width="1.1"/><line x1="265.8" y1="715.3" x2="270.2" y2="715.3" stroke="#333" stroke-width="1.3"/><text x="261.8" y="720.0" font-size="13.3" text-anchor="end" fill="#4d4d4d">0</text><line x1="265.8" y1="639.0" x2="270.2" y2="639.0" stroke="#333" stroke-width="1.3"/><text x="261.8" y="643.7" font-size="13.3" text-anchor="end" fill="#4d4d4d">25</text><line x1="265.8" y1="562.7" x2="270.2" y2="562.7" stroke="#333" stroke-width="1.3"/><text x="261.8" y="567.4" font-size="13.3" text-anchor="end" fill="#4d4d4d">50</text><line x1="265.8" y1="486.4" x2="270.2" y2="486.4" stroke="#333" stroke-width="1.3"/><text x="261.8" y="491.1" font-size="13.3" text-anchor="end" fill="#4d4d4d">75</text><line x1="265.8" y1="410.1" x2="270.2" y2="410.1" stroke="#333" stroke-width="1.3"/><text x="261.8" y="414.8" font-size="13.3" text-anchor="end" fill="#4d4d4d">100</text><line x1="288.9" y1="730.4" x2="288.9" y2="734.8" stroke="#333" stroke-width="1.3"/><text transform="translate(296.7,744.2) rotate(-60)" font-size="14.0" text-anchor="end" fill="#4d4d4d">Annotated</text><line x1="320.1" y1="730.4" x2="320.1" y2="734.8" stroke="#333" stroke-width="1.3"/><text transform="translate(327.9,744.2) rotate(-60)" font-size="14.0" text-anchor="end" fill="#4d4d4d">Extension</text><line x1="351.4" y1="730.4" x2="351.4" y2="734.8" stroke="#333" stroke-width="1.3"/><text transform="translate(359.2,744.2) rotate(-60)" font-size="14.0" text-anchor="end" fill="#4d4d4d">Isoform</text><line x1="382.6" y1="730.4" x2="382.6" y2="734.8" stroke="#333" stroke-width="1.3"/><text transform="translate(390.4,744.2) rotate(-60)" font-size="14.0" text-anchor="end" fill="#4d4d4d">Start overlap</text><line x1="413.9" y1="730.4" x2="413.9" y2="734.8" stroke="#333" stroke-width="1.3"/><text transform="translate(421.7,744.2) rotate(-60)" font-size="14.0" text-anchor="end" fill="#4d4d4d">Stop overlap</text><line x1="445.1" y1="730.4" x2="445.1" y2="734.8" stroke="#333" stroke-width="1.3"/><text transform="translate(452.9,744.2) rotate(-60)" font-size="14.0" text-anchor="end" fill="#4d4d4d">Downstream</text><line x1="476.4" y1="730.4" x2="476.4" y2="734.8" stroke="#333" stroke-width="1.3"/><text transform="translate(484.2,744.2) rotate(-60)" font-size="14.0" text-anchor="end" fill="#4d4d4d">New</text><line x1="507.6" y1="730.4" x2="507.6" y2="734.8" stroke="#333" stroke-width="1.3"/><text transform="translate(515.4,744.2) rotate(-60)" font-size="14.0" text-anchor="end" fill="#4d4d4d">Upstream</text><text x="552.7" y="456.1" font-size="17.3">ORF type</text><line x1="566.3" y1="467.6" x2="566.3" y2="491.5" stroke="#333" stroke-width="0.8"/><rect x="556.0" y="472.3" width="20.6" height="14.3" fill="#d27bb9" stroke="#333" stroke-width="0.8"/><line x1="556.0" y1="479.4" x2="576.6" y2="479.4" stroke="#333" stroke-width="1.0"/><text x="588.8" y="484.7" font-size="13.8">Annotated</text><line x1="566.3" y1="495.0" x2="566.3" y2="518.9" stroke="#333" stroke-width="0.8"/><rect x="556.0" y="499.7" width="20.6" height="14.3" fill="#a6dcf0" stroke="#333" stroke-width="0.8"/><line x1="556.0" y1="506.8" x2="576.6" y2="506.8" stroke="#333" stroke-width="1.0"/><text x="588.8" y="512.1" font-size="13.8">Extension</text><line x1="566.3" y1="522.5" x2="566.3" y2="546.4" stroke="#333" stroke-width="0.8"/><rect x="556.0" y="527.2" width="20.6" height="14.3" fill="#8c8c8c" stroke="#333" stroke-width="0.8"/><line x1="556.0" y1="534.3" x2="576.6" y2="534.3" stroke="#333" stroke-width="1.0"/><text x="588.8" y="539.6" font-size="13.8">Isoform</text><line x1="566.3" y1="550.0" x2="566.3" y2="573.9" stroke="#333" stroke-width="0.8"/><rect x="556.0" y="554.6" width="20.6" height="14.3" fill="#2e1f8f" stroke="#333" stroke-width="0.8"/><line x1="556.0" y1="561.8" x2="576.6" y2="561.8" stroke="#333" stroke-width="1.0"/><text x="588.8" y="567.0" font-size="13.8">Start overlap</text><line x1="566.3" y1="577.4" x2="566.3" y2="601.3" stroke="#333" stroke-width="0.8"/><rect x="556.0" y="582.1" width="20.6" height="14.3" fill="#2f8a3c" stroke="#333" stroke-width="0.8"/><line x1="556.0" y1="589.2" x2="576.6" y2="589.2" stroke="#333" stroke-width="1.0"/><text x="588.8" y="594.5" font-size="13.8">Stop overlap</text><line x1="566.3" y1="604.9" x2="566.3" y2="628.8" stroke="#333" stroke-width="0.8"/><rect x="556.0" y="609.5" width="20.6" height="14.3" fill="#b347b3" stroke="#333" stroke-width="0.8"/><line x1="556.0" y1="616.6" x2="576.6" y2="616.6" stroke="#333" stroke-width="1.0"/><text x="588.8" y="621.9" font-size="13.8">Downstream</text><line x1="566.3" y1="632.3" x2="566.3" y2="656.2" stroke="#333" stroke-width="0.8"/><rect x="556.0" y="637.0" width="20.6" height="14.3" fill="#2a6a70" stroke="#333" stroke-width="0.8"/><line x1="556.0" y1="644.1" x2="576.6" y2="644.1" stroke="#333" stroke-width="1.0"/><text x="588.8" y="649.4" font-size="13.8">New</text><line x1="566.3" y1="659.8" x2="566.3" y2="683.6" stroke="#333" stroke-width="0.8"/><rect x="556.0" y="664.4" width="20.6" height="14.3" fill="#a3a83a" stroke="#333" stroke-width="0.8"/><line x1="556.0" y1="671.5" x2="576.6" y2="671.5" stroke="#333" stroke-width="1.0"/><text x="588.8" y="676.8" font-size="13.8">Upstream</text><text x="729.9" y="405.7" font-size="35" font-weight="bold">e</text><rect x="938.5" y="378.6" width="28.9" height="36.6" fill="#c874ab"/><rect x="1052.7" y="378.6" width="28.9" height="36.6" fill="#7eaccf"/><rect x="1157.9" y="378.6" width="28.9" height="36.6" fill="#51a18b"/><rect x="1264.4" y="378.6" width="28.9" height="36.6" fill="#969e3c"/><text x="979.4" y="394.6" font-size="12.8">Annotated</text><text x="979.4" y="408.4" font-size="12.8">(&gt;= 100aa)</text><text x="1093.6" y="402.0" font-size="12.8">Expected</text><text x="1198.4" y="394.4" font-size="12.8">New</text><text x="1198.4" y="408.2" font-size="12.8">(&lt; 100aa)</text><text x="1305.1" y="387.3" font-size="12.8">Upstream &amp;</text><text x="1305.1" y="401.1" font-size="12.8">Start overlap</text><text x="1305.1" y="414.9" font-size="12.8">(&lt; 100 aa)</text><rect x="804.4" y="446.7" width="695.9" height="313.0" fill="#fff"/><line x1="804.4" y1="722.9" x2="1500.3" y2="722.9" stroke="#ebebeb" stroke-width="0.6"/><line x1="804.4" y1="649.2" x2="1500.3" y2="649.2" stroke="#ebebeb" stroke-width="0.6"/><line x1="804.4" y1="575.5" x2="1500.3" y2="575.5" stroke="#ebebeb" stroke-width="0.6"/><line x1="804.4" y1="501.8" x2="1500.3" y2="501.8" stroke="#ebebeb" stroke-width="0.6"/><line x1="804.4" y1="759.7" x2="1500.3" y2="759.7" stroke="#ebebeb" stroke-width="1.1"/><line x1="804.4" y1="686.0" x2="1500.3" y2="686.0" stroke="#ebebeb" stroke-width="1.1"/><line x1="804.4" y1="612.3" x2="1500.3" y2="612.3" stroke="#ebebeb" stroke-width="1.1"/><line x1="804.4" y1="538.6" x2="1500.3" y2="538.6" stroke="#ebebeb" stroke-width="1.1"/><line x1="804.4" y1="464.9" x2="1500.3" y2="464.9" stroke="#ebebeb" stroke-width="1.1"/><line x1="833.2" y1="446.7" x2="833.2" y2="759.7" stroke="#ebebeb" stroke-width="1.1"/><line x1="882.3" y1="446.7" x2="882.3" y2="759.7" stroke="#ebebeb" stroke-width="1.1"/><line x1="931.3" y1="446.7" x2="931.3" y2="759.7" stroke="#ebebeb" stroke-width="1.1"/><line x1="980.4" y1="446.7" x2="980.4" y2="759.7" stroke="#ebebeb" stroke-width="1.1"/><line x1="1029.4" y1="446.7" x2="1029.4" y2="759.7" stroke="#ebebeb" stroke-width="1.1"/><line x1="1078.5" y1="446.7" x2="1078.5" y2="759.7" stroke="#ebebeb" stroke-width="1.1"/><line x1="1127.6" y1="446.7" x2="1127.6" y2="759.7" stroke="#ebebeb" stroke-width="1.1"/><line x1="1176.6" y1="446.7" x2="1176.6" y2="759.7" stroke="#ebebeb" stroke-width="1.1"/><line x1="1225.7" y1="446.7" x2="1225.7" y2="759.7" stroke="#ebebeb" stroke-width="1.1"/><line x1="1274.7" y1="446.7" x2="1274.7" y2="759.7" stroke="#ebebeb" stroke-width="1.1"/><line x1="1323.8" y1="446.7" x2="1323.8" y2="759.7" stroke="#ebebeb" stroke-width="1.1"/><line x1="1372.9" y1="446.7" x2="1372.9" y2="759.7" stroke="#ebebeb" stroke-width="1.1"/><line x1="1421.9" y1="446.7" x2="1421.9" y2="759.7" stroke="#ebebeb" stroke-width="1.1"/><line x1="1471.0" y1="446.7" x2="1471.0" y2="759.7" stroke="#ebebeb" stroke-width="1.1"/><rect x="818.7" y="560.7" width="7.2" height="199.0" fill="#c874ab"/><rect x="826.0" y="568.4" width="7.2" height="191.3" fill="#7eaccf"/><rect x="833.2" y="569.6" width="7.2" height="190.1" fill="#51a18b"/><rect x="840.5" y="507.9" width="7.2" height="251.8" fill="#969e3c"/><rect x="867.8" y="594.9" width="7.2" height="164.8" fill="#c874ab"/><rect x="875.0" y="462.0" width="7.2" height="297.7" fill="#7eaccf"/><rect x="882.3" y="533.6" width="7.2" height="226.1" fill="#51a18b"/><rect x="889.5" y="462.0" width="7.2" height="297.7" fill="#969e3c"/><rect x="916.8" y="654.5" width="7.2" height="105.2" fill="#c874ab"/><rect x="924.1" y="660.1" width="7.2" height="99.6" fill="#7eaccf"/><rect x="931.3" y="673.0" width="7.2" height="86.7" fill="#51a18b"/><rect x="938.6" y="704.3" width="7.2" height="55.4" fill="#969e3c"/><rect x="965.9" y="616.7" width="7.2" height="143.0" fill="#c874ab"/><rect x="973.1" y="663.9" width="7.2" height="95.8" fill="#7eaccf"/><rect x="980.4" y="669.2" width="7.2" height="90.5" fill="#51a18b"/><rect x="987.6" y="676.6" width="7.2" height="83.1" fill="#969e3c"/><rect x="1014.9" y="696.3" width="7.2" height="63.4" fill="#c874ab"/><rect x="1022.2" y="680.1" width="7.2" height="79.6" fill="#7eaccf"/><rect x="1029.4" y="658.0" width="7.2" height="101.7" fill="#51a18b"/><rect x="1036.7" y="660.6" width="7.2" height="99.1" fill="#969e3c"/><rect x="1064.0" y="611.7" width="7.2" height="148.0" fill="#c874ab"/><rect x="1071.2" y="655.3" width="7.2" height="104.4" fill="#7eaccf"/><rect x="1078.5" y="632.3" width="7.2" height="127.4" fill="#51a18b"/><rect x="1085.8" y="648.3" width="7.2" height="111.4" fill="#969e3c"/><rect x="1113.1" y="546.9" width="7.2" height="212.8" fill="#c874ab"/><rect x="1120.3" y="654.2" width="7.2" height="105.5" fill="#7eaccf"/><rect x="1127.6" y="590.5" width="7.2" height="169.2" fill="#51a18b"/><rect x="1134.8" y="614.1" width="7.2" height="145.6" fill="#969e3c"/><rect x="1162.1" y="576.3" width="7.2" height="183.4" fill="#c874ab"/><rect x="1169.4" y="565.4" width="7.2" height="194.3" fill="#7eaccf"/><rect x="1176.6" y="549.8" width="7.2" height="209.9" fill="#51a18b"/><rect x="1183.9" y="501.5" width="7.2" height="258.2" fill="#969e3c"/><rect x="1211.2" y="635.6" width="7.2" height="124.1" fill="#c874ab"/><rect x="1218.4" y="630.6" width="7.2" height="129.1" fill="#7eaccf"/><rect x="1225.7" y="669.2" width="7.2" height="90.5" fill="#51a18b"/><rect x="1232.9" y="691.6" width="7.2" height="68.1" fill="#969e3c"/><rect x="1260.2" y="586.7" width="7.2" height="173.0" fill="#c874ab"/><rect x="1267.5" y="649.4" width="7.2" height="110.3" fill="#7eaccf"/><rect x="1274.7" y="619.7" width="7.2" height="140.0" fill="#51a18b"/><rect x="1282.0" y="665.4" width="7.2" height="94.3" fill="#969e3c"/><rect x="1309.3" y="695.7" width="7.2" height="64.0" fill="#c874ab"/><rect x="1316.6" y="715.2" width="7.2" height="44.5" fill="#7eaccf"/><rect x="1323.8" y="609.4" width="7.2" height="150.3" fill="#51a18b"/><rect x="1331.1" y="625.0" width="7.2" height="134.7" fill="#969e3c"/><rect x="1358.4" y="573.1" width="7.2" height="186.6" fill="#c874ab"/><rect x="1365.6" y="570.4" width="7.2" height="189.3" fill="#7eaccf"/><rect x="1372.9" y="564.5" width="7.2" height="195.2" fill="#51a18b"/><rect x="1380.1" y="514.4" width="7.2" height="245.3" fill="#969e3c"/><rect x="1407.4" y="726.7" width="7.2" height="33.0" fill="#c874ab"/><rect x="1414.7" y="716.7" width="7.2" height="43.0" fill="#7eaccf"/><rect x="1421.9" y="690.1" width="7.2" height="69.6" fill="#51a18b"/><rect x="1429.2" y="690.7" width="7.2" height="69.0" fill="#969e3c"/><rect x="1456.5" y="684.8" width="7.2" height="74.9" fill="#c874ab"/><rect x="1463.7" y="676.9" width="7.2" height="82.8" fill="#7eaccf"/><rect x="1471.0" y="718.4" width="7.2" height="41.3" fill="#51a18b"/><rect x="1478.2" y="726.7" width="7.2" height="33.0" fill="#969e3c"/><rect x="804.4" y="446.7" width="695.9" height="313.0" fill="none" stroke="#333" stroke-width="1.1"/><line x1="798.9" y1="759.7" x2="804.4" y2="759.7" stroke="#333" stroke-width="1.3"/><text x="794.6" y="765.5" font-size="16.2" text-anchor="end" fill="#4d4d4d">0.000</text><line x1="798.9" y1="686.0" x2="804.4" y2="686.0" stroke="#333" stroke-width="1.3"/><text x="794.6" y="691.8" font-size="16.2" text-anchor="end" fill="#4d4d4d">0.025</text><line x1="798.9" y1="612.3" x2="804.4" y2="612.3" stroke="#333" stroke-width="1.3"/><text x="794.6" y="618.1" font-size="16.2" text-anchor="end" fill="#4d4d4d">0.050</text><line x1="798.9" y1="538.6" x2="804.4" y2="538.6" stroke="#333" stroke-width="1.3"/><text x="794.6" y="544.4" font-size="16.2" text-anchor="end" fill="#4d4d4d">0.075</text><line x1="798.9" y1="464.9" x2="804.4" y2="464.9" stroke="#333" stroke-width="1.3"/><text x="794.6" y="470.7" font-size="16.2" text-anchor="end" fill="#4d4d4d">0.100</text><line x1="833.2" y1="759.7" x2="833.2" y2="765.2" stroke="#333" stroke-width="1.3"/><text x="833.2" y="781.2" font-size="15.6" text-anchor="middle" fill="#4d4d4d">Ala</text><line x1="882.3" y1="759.7" x2="882.3" y2="765.2" stroke="#333" stroke-width="1.3"/><text x="882.3" y="781.2" font-size="15.6" text-anchor="middle" fill="#4d4d4d">Arg</text><line x1="931.3" y1="759.7" x2="931.3" y2="765.2" stroke="#333" stroke-width="1.3"/><text x="931.3" y="781.2" font-size="15.6" text-anchor="middle" fill="#4d4d4d">Asn</text><line x1="980.4" y1="759.7" x2="980.4" y2="765.2" stroke="#333" stroke-width="1.3"/><text x="980.4" y="781.2" font-size="15.6" text-anchor="middle" fill="#4d4d4d">Asp</text><line x1="1029.4" y1="759.7" x2="1029.4" y2="765.2" stroke="#333" stroke-width="1.3"/><text x="1029.4" y="781.2" font-size="15.6" text-anchor="middle" fill="#4d4d4d">Cys</text><line x1="1078.5" y1="759.7" x2="1078.5" y2="765.2" stroke="#333" stroke-width="1.3"/><text x="1078.5" y="781.2" font-size="15.6" text-anchor="middle" fill="#4d4d4d">Gln</text><line x1="1127.6" y1="759.7" x2="1127.6" y2="765.2" stroke="#333" stroke-width="1.3"/><text x="1127.6" y="781.2" font-size="15.6" text-anchor="middle" fill="#4d4d4d">Glu</text><line x1="1176.6" y1="759.7" x2="1176.6" y2="765.2" stroke="#333" stroke-width="1.3"/><text x="1176.6" y="781.2" font-size="15.6" text-anchor="middle" fill="#4d4d4d">Gly</text><line x1="1225.7" y1="759.7" x2="1225.7" y2="765.2" stroke="#333" stroke-width="1.3"/><text x="1225.7" y="781.2" font-size="15.6" text-anchor="middle" fill="#4d4d4d">Ile</text><line x1="1274.7" y1="759.7" x2="1274.7" y2="765.2" stroke="#333" stroke-width="1.3"/><text x="1274.7" y="781.2" font-size="15.6" text-anchor="middle" fill="#4d4d4d">Lys</text><line x1="1323.8" y1="759.7" x2="1323.8" y2="765.2" stroke="#333" stroke-width="1.3"/><text x="1323.8" y="781.2" font-size="15.6" text-anchor="middle" fill="#4d4d4d">Met</text><line x1="1372.9" y1="759.7" x2="1372.9" y2="765.2" stroke="#333" stroke-width="1.3"/><text x="1372.9" y="781.2" font-size="15.6" text-anchor="middle" fill="#4d4d4d">Pro</text><line x1="1421.9" y1="759.7" x2="1421.9" y2="765.2" stroke="#333" stroke-width="1.3"/><text x="1421.9" y="781.2" font-size="15.6" text-anchor="middle" fill="#4d4d4d">Trp</text><line x1="1471.0" y1="759.7" x2="1471.0" y2="765.2" stroke="#333" stroke-width="1.3"/><text x="1471.0" y="781.2" font-size="15.6" text-anchor="middle" fill="#4d4d4d">Tyr</text><text transform="translate(745.0,603.2) rotate(-90)" font-size="19.5" text-anchor="middle">Frequency</text><text x="1550.4" y="402.4" font-size="35" font-weight="bold">f</text><rect x="1600.4" y="446.0" width="396.4" height="314.2" fill="#fff"/><line x1="1600.4" y1="707.0" x2="1996.8" y2="707.0" stroke="#ebebeb" stroke-width="0.6"/><line x1="1600.4" y1="645.8" x2="1996.8" y2="645.8" stroke="#ebebeb" stroke-width="0.6"/><line x1="1600.4" y1="584.6" x2="1996.8" y2="584.6" stroke="#ebebeb" stroke-width="0.6"/><line x1="1600.4" y1="523.4" x2="1996.8" y2="523.4" stroke="#ebebeb" stroke-width="0.6"/><line x1="1600.4" y1="462.2" x2="1996.8" y2="462.2" stroke="#ebebeb" stroke-width="0.6"/><line x1="1600.4" y1="737.6" x2="1996.8" y2="737.6" stroke="#ebebeb" stroke-width="1.1"/><line x1="1600.4" y1="676.4" x2="1996.8" y2="676.4" stroke="#ebebeb" stroke-width="1.1"/><line x1="1600.4" y1="615.2" x2="1996.8" y2="615.2" stroke="#ebebeb" stroke-width="1.1"/><line x1="1600.4" y1="554.0" x2="1996.8" y2="554.0" stroke="#ebebeb" stroke-width="1.1"/><line x1="1600.4" y1="492.8" x2="1996.8" y2="492.8" stroke="#ebebeb" stroke-width="1.1"/><line x1="1674.4" y1="446.0" x2="1674.4" y2="760.2" stroke="#ebebeb" stroke-width="1.1"/><line x1="1798.6" y1="446.0" x2="1798.6" y2="760.2" stroke="#ebebeb" stroke-width="1.1"/><line x1="1922.8" y1="446.0" x2="1922.8" y2="760.2" stroke="#ebebeb" stroke-width="1.1"/><line x1="1674.4" y1="588.9" x2="1674.4" y2="607.5" stroke="#000" stroke-width="2.0"/><line x1="1674.4" y1="621.5" x2="1674.4" y2="640.0" stroke="#000" stroke-width="2.0"/><line x1="1798.6" y1="563.3" x2="1798.6" y2="607.5" stroke="#000" stroke-width="2.0"/><line x1="1798.6" y1="638.9" x2="1798.6" y2="684.3" stroke="#000" stroke-width="2.0"/><line x1="1922.8" y1="565.0" x2="1922.8" y2="607.7" stroke="#000" stroke-width="2.0"/><line x1="1922.8" y1="636.4" x2="1922.8" y2="677.0" stroke="#000" stroke-width="2.0"/><path d="M1674.4 566.6h0M1674.4 567.6h0M1674.4 568.6h0M1674.4 569.6h0M1674.4 570.6h0M1674.4 571.6h0M1674.4 572.6h0M1674.4 573.6h0M1674.4 574.6h0M1674.4 575.6h0M1674.4 576.6h0M1674.4 577.6h0M1674.4 578.6h0M1674.4 579.6h0M1674.4 580.6h0M1674.4 581.6h0M1674.4 582.6h0M1674.4 583.6h0M1674.4 584.6h0M1674.4 585.6h0M1674.4 643.3h0M1674.4 644.4h0M1674.4 645.4h0M1674.4 646.5h0M1674.4 647.5h0M1674.4 648.6h0M1674.4 649.6h0M1674.4 650.7h0M1674.4 651.8h0M1674.4 652.8h0M1674.4 653.9h0M1674.4 654.9h0M1674.4 656.0h0M1674.4 659.0h0M1674.4 663.6h0M1798.6 554.9h0M1798.6 555.9h0M1798.6 556.9h0M1798.6 558.0h0M1798.6 559.0h0M1798.6 560.0h0M1798.6 687.6h0M1798.6 688.6h0M1798.6 689.6h0M1798.6 690.6h0M1798.6 691.6h0M1798.6 692.6h0M1798.6 693.6h0M1798.6 694.6h0M1798.6 695.6h0M1798.6 696.6h0M1798.6 697.6h0M1798.6 698.6h0M1798.6 699.6h0M1798.6 700.6h0M1798.6 701.6h0M1798.6 702.6h0M1798.6 703.6h0M1798.6 704.7h0M1798.6 705.7h0M1798.6 706.7h0M1798.6 707.7h0M1798.6 708.7h0M1798.6 709.7h0M1798.6 710.7h0M1798.6 711.7h0M1798.6 712.7h0M1798.6 713.7h0M1798.6 714.7h0M1798.6 715.7h0M1798.6 716.7h0M1798.6 717.7h0M1798.6 718.7h0M1798.6 719.7h0M1798.6 720.7h0M1798.6 721.7h0M1922.8 553.5h0M1922.8 562.0h0M1922.8 565.0h0M1922.8 678.6h0M1922.8 679.8h0M1922.8 680.9h0M1922.8 682.0h0M1922.8 683.2h0M1922.8 684.4h0M1922.8 685.5h0M1922.8 697.3h0M1922.8 731.1h0M1922.8 746.4h0" stroke="#000" stroke-width="6.80" stroke-linecap="round" fill="none"/><rect x="1630.6" y="607.5" width="87.6" height="14.0" fill="#d27bb9" stroke="#000" stroke-width="2.0"/><line x1="1630.6" y1="614.0" x2="1718.2" y2="614.0" stroke="#000" stroke-width="3.2"/><rect x="1754.8" y="607.5" width="87.6" height="31.4" fill="#9aa03c" stroke="#000" stroke-width="2.0"/><line x1="1754.8" y1="623.2" x2="1842.4" y2="623.2" stroke="#000" stroke-width="3.2"/><rect x="1879.0" y="607.7" width="87.6" height="28.7" fill="#2b6068" stroke="#000" stroke-width="2.0"/><line x1="1879.0" y1="624.5" x2="1966.6" y2="624.5" stroke="#000" stroke-width="3.2"/><path d="M1798.6,467.5 L1798.6,460.6 L1922.8,460.6 L1922.8,467.5" fill="none" stroke="#333" stroke-width="1.2"/><text x="1860.7" y="457.1" font-size="13.5" text-anchor="middle">0.42</text><path d="M1674.4,491.5 L1674.4,484.2 L1922.8,484.2 L1922.8,491.5" fill="none" stroke="#333" stroke-width="1.2"/><text x="1798.6" y="480.6" font-size="13.5" text-anchor="middle">&lt; 2.2e-16</text><path d="M1674.4,515.0 L1674.4,508.1 L1798.6,508.1 L1798.6,515.0" fill="none" stroke="#333" stroke-width="1.2"/><text x="1736.5" y="504.5" font-size="13.5" text-anchor="middle">&lt; 2.2e-16</text><rect x="1600.4" y="446.0" width="396.4" height="314.2" fill="none" stroke="#333" stroke-width="1.1"/><line x1="1595.4" y1="737.6" x2="1600.4" y2="737.6" stroke="#333" stroke-width="1.3"/><text x="1592.8" y="742.6" font-size="14" text-anchor="end" fill="#4d4d4d">0.4</text><line x1="1595.4" y1="676.4" x2="1600.4" y2="676.4" stroke="#333" stroke-width="1.3"/><text x="1592.8" y="681.4" font-size="14" text-anchor="end" fill="#4d4d4d">0.6</text><line x1="1595.4" y1="615.2" x2="1600.4" y2="615.2" stroke="#333" stroke-width="1.3"/><text x="1592.8" y="620.2" font-size="14" text-anchor="end" fill="#4d4d4d">0.8</text><line x1="1595.4" y1="554.0" x2="1600.4" y2="554.0" stroke="#333" stroke-width="1.3"/><text x="1592.8" y="559.0" font-size="14" text-anchor="end" fill="#4d4d4d">1.0</text><line x1="1595.4" y1="492.8" x2="1600.4" y2="492.8" stroke="#333" stroke-width="1.3"/><text x="1592.8" y="497.8" font-size="14" text-anchor="end" fill="#4d4d4d">1.2</text><line x1="1674.4" y1="760.2" x2="1674.4" y2="765.2" stroke="#333" stroke-width="1.3"/><text x="1674.4" y="779.0" font-size="14" text-anchor="middle" fill="#4d4d4d">Annotated</text><text x="1674.4" y="793.9" font-size="14" text-anchor="middle" fill="#4d4d4d">(&gt;= 100 aa)</text><line x1="1798.6" y1="760.2" x2="1798.6" y2="765.2" stroke="#333" stroke-width="1.3"/><text x="1798.6" y="779.0" font-size="14" text-anchor="middle" fill="#4d4d4d">Upstream &amp;</text><text x="1798.6" y="793.9" font-size="14" text-anchor="middle" fill="#4d4d4d">Start overlap</text><text x="1798.6" y="808.8" font-size="14" text-anchor="middle" fill="#4d4d4d">(&lt; 100 aa)</text><line x1="1922.8" y1="760.2" x2="1922.8" y2="765.2" stroke="#333" stroke-width="1.3"/><text x="1922.8" y="779.0" font-size="14" text-anchor="middle" fill="#4d4d4d">New</text><text x="1922.8" y="793.9" font-size="14" text-anchor="middle" fill="#4d4d4d">(&lt; 100 aa)</text><text transform="translate(1565.8,603.1) rotate(-90)" font-size="17.9" text-anchor="middle">Codon Adaptation Index (CAI)</text>
</svg>
</body></html>
